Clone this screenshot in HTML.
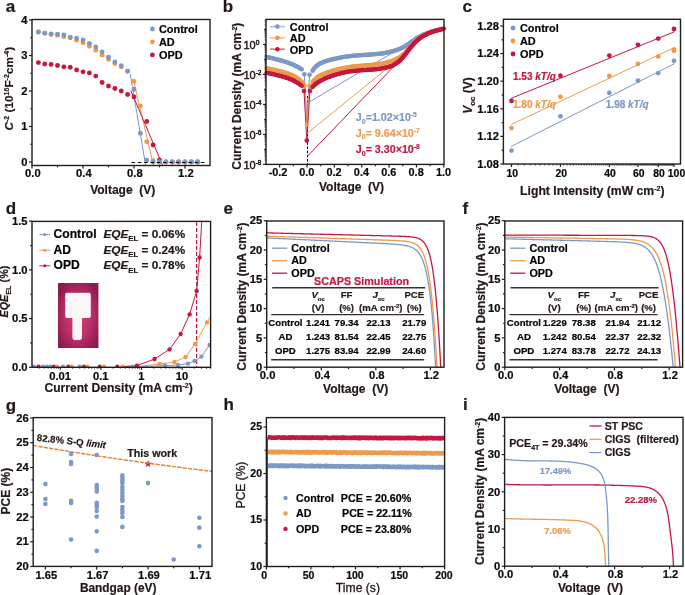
<!DOCTYPE html>
<html><head><meta charset="utf-8"><title>Figure</title>
<style>
html,body{margin:0;padding:0;background:#fff;width:685px;height:595px;overflow:hidden;}
svg{display:block;font-family:"Liberation Sans", sans-serif;will-change:transform;}
</style></head><body>
<svg width="685" height="595" viewBox="0 0 685 595" font-family='&quot;Liberation Sans&quot;, sans-serif'>
<text x="5.8" y="12.4" font-size="17" text-anchor="start" fill="#231815" font-weight="bold" stroke="#231815" stroke-width="0.2">a</text>
<path d="M130.3 74.4 L145.6 165" fill="none" stroke="#7c98c7" stroke-width="1" stroke-linejoin="round" stroke-linecap="round"/>
<path d="M133.2 79 L153.4 165" fill="none" stroke="#ee9a4d" stroke-width="1" stroke-linejoin="round" stroke-linecap="round"/>
<path d="M131 91 L162.5 165" fill="none" stroke="#c5173f" stroke-width="1" stroke-linejoin="round" stroke-linecap="round"/>
<circle cx="38.38" cy="62.6" r="2.45" fill="#c5173f"/>
<circle cx="44.75" cy="64.02" r="2.45" fill="#c5173f"/>
<circle cx="51.12" cy="64.38" r="2.45" fill="#c5173f"/>
<circle cx="57.5" cy="65.44" r="2.45" fill="#c5173f"/>
<circle cx="63.88" cy="66.86" r="2.45" fill="#c5173f"/>
<circle cx="70.25" cy="67.22" r="2.45" fill="#c5173f"/>
<circle cx="76.62" cy="70.06" r="2.45" fill="#c5173f"/>
<circle cx="83" cy="71.83" r="2.45" fill="#c5173f"/>
<circle cx="89.38" cy="72.9" r="2.45" fill="#c5173f"/>
<circle cx="95.75" cy="76.09" r="2.45" fill="#c5173f"/>
<circle cx="102.12" cy="82.48" r="2.45" fill="#c5173f"/>
<circle cx="108.5" cy="86.03" r="2.45" fill="#c5173f"/>
<circle cx="114.88" cy="88.52" r="2.45" fill="#c5173f"/>
<circle cx="121.25" cy="91" r="2.45" fill="#c5173f"/>
<circle cx="127.62" cy="94.55" r="2.45" fill="#c5173f"/>
<circle cx="134" cy="97.03" r="2.45" fill="#c5173f"/>
<circle cx="146.75" cy="121.53" r="2.45" fill="#c5173f"/>
<circle cx="153.12" cy="144.96" r="2.45" fill="#c5173f"/>
<circle cx="159.5" cy="159.87" r="2.45" fill="#c5173f"/>
<circle cx="165.88" cy="162" r="2.45" fill="#c5173f"/>
<circle cx="172.25" cy="162" r="2.45" fill="#c5173f"/>
<circle cx="178.63" cy="162" r="2.45" fill="#c5173f"/>
<circle cx="185" cy="162" r="2.45" fill="#c5173f"/>
<circle cx="191.38" cy="162" r="2.45" fill="#c5173f"/>
<circle cx="197.75" cy="162" r="2.45" fill="#c5173f"/>
<circle cx="38.38" cy="32.07" r="2.45" fill="#ee9a4d"/>
<circle cx="44.75" cy="33.13" r="2.45" fill="#ee9a4d"/>
<circle cx="51.12" cy="34.56" r="2.45" fill="#ee9a4d"/>
<circle cx="57.5" cy="35.27" r="2.45" fill="#ee9a4d"/>
<circle cx="63.88" cy="36.69" r="2.45" fill="#ee9a4d"/>
<circle cx="70.25" cy="37.75" r="2.45" fill="#ee9a4d"/>
<circle cx="76.62" cy="40.23" r="2.45" fill="#ee9a4d"/>
<circle cx="83" cy="42.72" r="2.45" fill="#ee9a4d"/>
<circle cx="89.38" cy="46.27" r="2.45" fill="#ee9a4d"/>
<circle cx="95.75" cy="50.17" r="2.45" fill="#ee9a4d"/>
<circle cx="102.12" cy="55.15" r="2.45" fill="#ee9a4d"/>
<circle cx="108.5" cy="59.41" r="2.45" fill="#ee9a4d"/>
<circle cx="114.88" cy="63.67" r="2.45" fill="#ee9a4d"/>
<circle cx="121.25" cy="66.86" r="2.45" fill="#ee9a4d"/>
<circle cx="127.62" cy="71.3" r="2.45" fill="#ee9a4d"/>
<circle cx="134" cy="81.42" r="2.45" fill="#ee9a4d"/>
<circle cx="140.38" cy="105.91" r="2.45" fill="#ee9a4d"/>
<circle cx="146.75" cy="141.76" r="2.45" fill="#ee9a4d"/>
<circle cx="153.12" cy="160.58" r="2.45" fill="#ee9a4d"/>
<circle cx="159.5" cy="162" r="2.45" fill="#ee9a4d"/>
<circle cx="165.88" cy="162" r="2.45" fill="#ee9a4d"/>
<circle cx="172.25" cy="162" r="2.45" fill="#ee9a4d"/>
<circle cx="178.63" cy="162" r="2.45" fill="#ee9a4d"/>
<circle cx="185" cy="162" r="2.45" fill="#ee9a4d"/>
<circle cx="191.38" cy="162" r="2.45" fill="#ee9a4d"/>
<circle cx="197.75" cy="162" r="2.45" fill="#ee9a4d"/>
<circle cx="38.38" cy="32.07" r="2.45" fill="#7c98c7"/>
<circle cx="44.75" cy="33.13" r="2.45" fill="#7c98c7"/>
<circle cx="51.12" cy="33.84" r="2.45" fill="#7c98c7"/>
<circle cx="57.5" cy="34.2" r="2.45" fill="#7c98c7"/>
<circle cx="63.88" cy="34.91" r="2.45" fill="#7c98c7"/>
<circle cx="70.25" cy="37.4" r="2.45" fill="#7c98c7"/>
<circle cx="76.62" cy="38.1" r="2.45" fill="#7c98c7"/>
<circle cx="83" cy="39.88" r="2.45" fill="#7c98c7"/>
<circle cx="89.38" cy="43.43" r="2.45" fill="#7c98c7"/>
<circle cx="95.75" cy="46.98" r="2.45" fill="#7c98c7"/>
<circle cx="102.12" cy="51.95" r="2.45" fill="#7c98c7"/>
<circle cx="108.5" cy="57.27" r="2.45" fill="#7c98c7"/>
<circle cx="114.88" cy="61.89" r="2.45" fill="#7c98c7"/>
<circle cx="121.25" cy="65.8" r="2.45" fill="#7c98c7"/>
<circle cx="127.62" cy="71.12" r="2.45" fill="#7c98c7"/>
<circle cx="134" cy="89.23" r="2.45" fill="#7c98c7"/>
<circle cx="140.38" cy="133.25" r="2.45" fill="#7c98c7"/>
<circle cx="146.75" cy="160.22" r="2.45" fill="#7c98c7"/>
<circle cx="153.12" cy="162" r="2.45" fill="#7c98c7"/>
<circle cx="159.5" cy="162" r="2.45" fill="#7c98c7"/>
<circle cx="165.88" cy="162" r="2.45" fill="#7c98c7"/>
<circle cx="172.25" cy="162" r="2.45" fill="#7c98c7"/>
<circle cx="178.63" cy="162" r="2.45" fill="#7c98c7"/>
<circle cx="185" cy="162" r="2.45" fill="#7c98c7"/>
<circle cx="191.38" cy="162" r="2.45" fill="#7c98c7"/>
<circle cx="197.75" cy="162" r="2.45" fill="#7c98c7"/>
<line x1="131.5" y1="162.5" x2="207.2" y2="162.5" stroke="#000" stroke-width="1" stroke-dasharray="3.6 2.7"/>
<rect x="32" y="19.5" width="178" height="146" fill="none" stroke="#1e1e1e" stroke-width="1.4"/>
<line x1="29" y1="162" x2="32" y2="162" stroke="#1e1e1e" stroke-width="1.2"/>
<line x1="29" y1="126.5" x2="32" y2="126.5" stroke="#1e1e1e" stroke-width="1.2"/>
<line x1="29" y1="91" x2="32" y2="91" stroke="#1e1e1e" stroke-width="1.2"/>
<line x1="29" y1="55.5" x2="32" y2="55.5" stroke="#1e1e1e" stroke-width="1.2"/>
<line x1="29" y1="20" x2="32" y2="20" stroke="#1e1e1e" stroke-width="1.2"/>
<line x1="30.2" y1="144.25" x2="32" y2="144.25" stroke="#1e1e1e" stroke-width="1.2"/>
<line x1="30.2" y1="108.75" x2="32" y2="108.75" stroke="#1e1e1e" stroke-width="1.2"/>
<line x1="30.2" y1="73.25" x2="32" y2="73.25" stroke="#1e1e1e" stroke-width="1.2"/>
<line x1="30.2" y1="37.75" x2="32" y2="37.75" stroke="#1e1e1e" stroke-width="1.2"/>
<line x1="32" y1="165.5" x2="32" y2="168.5" stroke="#1e1e1e" stroke-width="1.2"/>
<line x1="83" y1="165.5" x2="83" y2="168.5" stroke="#1e1e1e" stroke-width="1.2"/>
<line x1="134" y1="165.5" x2="134" y2="168.5" stroke="#1e1e1e" stroke-width="1.2"/>
<line x1="185" y1="165.5" x2="185" y2="168.5" stroke="#1e1e1e" stroke-width="1.2"/>
<line x1="57.5" y1="165.5" x2="57.5" y2="167.3" stroke="#1e1e1e" stroke-width="1.2"/>
<line x1="108.5" y1="165.5" x2="108.5" y2="167.3" stroke="#1e1e1e" stroke-width="1.2"/>
<line x1="159.5" y1="165.5" x2="159.5" y2="167.3" stroke="#1e1e1e" stroke-width="1.2"/>
<text x="27.6" y="165.7" font-size="11.2" text-anchor="end" fill="#0a0a0a" font-weight="bold" stroke="#0a0a0a" stroke-width="0.2">0</text>
<text x="27.6" y="130.2" font-size="11.2" text-anchor="end" fill="#0a0a0a" font-weight="bold" stroke="#0a0a0a" stroke-width="0.2">1</text>
<text x="27.6" y="94.7" font-size="11.2" text-anchor="end" fill="#0a0a0a" font-weight="bold" stroke="#0a0a0a" stroke-width="0.2">2</text>
<text x="27.6" y="59.2" font-size="11.2" text-anchor="end" fill="#0a0a0a" font-weight="bold" stroke="#0a0a0a" stroke-width="0.2">3</text>
<text x="27.6" y="23.7" font-size="11.2" text-anchor="end" fill="#0a0a0a" font-weight="bold" stroke="#0a0a0a" stroke-width="0.2">4</text>
<text x="32.9" y="177.1" font-size="11.2" text-anchor="middle" fill="#0a0a0a" font-weight="bold" stroke="#0a0a0a" stroke-width="0.2">0.0</text>
<text x="83.9" y="177.1" font-size="11.2" text-anchor="middle" fill="#0a0a0a" font-weight="bold" stroke="#0a0a0a" stroke-width="0.2">0.4</text>
<text x="134.9" y="177.1" font-size="11.2" text-anchor="middle" fill="#0a0a0a" font-weight="bold" stroke="#0a0a0a" stroke-width="0.2">0.8</text>
<text x="185.9" y="177.1" font-size="11.2" text-anchor="middle" fill="#0a0a0a" font-weight="bold" stroke="#0a0a0a" stroke-width="0.2">1.2</text>
<text x="122.7" y="193.7" font-size="12" text-anchor="middle" fill="#231815" font-weight="bold" stroke="#231815" stroke-width="0.2">Voltage  (V)</text>
<text x="13.1" y="88.7" font-size="11.8" text-anchor="middle" fill="#231815" font-weight="bold" transform="rotate(-90 13.1 88.7)" stroke="#231815" stroke-width="0.2"><tspan font-style="italic">C</tspan><tspan dy="-4" font-size="7">-2</tspan><tspan dy="4"> (10</tspan><tspan dy="-4" font-size="7">16</tspan><tspan dy="4">F</tspan><tspan dy="-4" font-size="7">-2</tspan><tspan dy="4">cm</tspan><tspan dy="-4" font-size="7">-4</tspan><tspan dy="4">)</tspan></text>
<circle cx="152.4" cy="29" r="2.4" fill="#7c98c7"/>
<text x="159" y="32.9" font-size="10.9" text-anchor="start" fill="#000" font-weight="bold" stroke="#000" stroke-width="0.2">Control</text>
<circle cx="152.4" cy="41.95" r="2.4" fill="#ee9a4d"/>
<text x="159" y="45.85" font-size="10.9" text-anchor="start" fill="#000" font-weight="bold" stroke="#000" stroke-width="0.2">AD</text>
<circle cx="152.4" cy="54.9" r="2.4" fill="#c5173f"/>
<text x="159" y="58.8" font-size="10.9" text-anchor="start" fill="#000" font-weight="bold" stroke="#000" stroke-width="0.2">OPD</text>
<text x="222.8" y="12.3" font-size="17" text-anchor="start" fill="#231815" font-weight="bold" stroke="#231815" stroke-width="0.2">b</text>
<line x1="307.5" y1="96" x2="307.5" y2="164" stroke="#000" stroke-width="1" stroke-dasharray="2.6 1.6"/>
<path d="M304.3 74.2 L306.8 118 L309.6 74.8" fill="none" stroke="#7c98c7" stroke-width="1" stroke-linejoin="round" stroke-linecap="round"/>
<path d="M304.5 85.8 L306.8 124.4 L309.6 85.9" fill="none" stroke="#ee9a4d" stroke-width="1" stroke-linejoin="round" stroke-linecap="round"/>
<path d="M304 90.9 L306.8 140.6 L309.9 90.9" fill="none" stroke="#c5173f" stroke-width="1" stroke-linejoin="round" stroke-linecap="round"/>
<circle cx="306.8" cy="124.4" r="2.2" fill="#ee9a4d"/>
<circle cx="306.8" cy="140.6" r="2.4" fill="#c5173f"/>
<path d="M308.8 102.3 L400 48.4" fill="none" stroke="#7c98c7" stroke-width="1" stroke-linejoin="round" stroke-linecap="round"/>
<path d="M307.7 132.9 L403.5 55.2" fill="none" stroke="#ee9a4d" stroke-width="1" stroke-linejoin="round" stroke-linecap="round"/>
<path d="M307.7 155.9 L398.5 61.6" fill="none" stroke="#c5173f" stroke-width="1" stroke-linejoin="round" stroke-linecap="round"/>
<path d="M266.51 56.88 L266.61 56.9 L266.7 56.93 L266.79 56.95 L266.88 56.97 L266.97 56.99 L267.06 57.01 L267.16 57.03 L267.25 57.05 L267.34 57.08 L267.43 57.1 L267.52 57.12 L267.61 57.14 L267.71 57.16 L267.8 57.18 L267.89 57.2 L267.98 57.23 L268.07 57.25 L268.17 57.27 L268.26 57.29 L268.35 57.31 L268.44 57.33 L268.53 57.35 L268.63 57.38 L268.72 57.4 L268.81 57.42 L268.9 57.44 L268.99 57.46 L269.09 57.48 L269.18 57.51 L269.27 57.53 L269.36 57.55 L269.45 57.57 L269.55 57.59 L269.64 57.61 L269.73 57.63 L269.82 57.66 L269.92 57.68 L270.01 57.7 L270.1 57.72 L270.19 57.74 L270.29 57.76 L270.38 57.79 L270.47 57.81 L270.56 57.83 L270.66 57.85 L270.75 57.87 L270.84 57.9 L270.93 57.92 L271.02 57.94 L271.12 57.96 L271.21 57.98 L271.3 58 L271.39 58.03 L271.49 58.05 L271.58 58.07 L271.67 58.09 L271.77 58.11 L271.86 58.14 L271.95 58.16 L272.04 58.18 L272.14 58.2 L272.23 58.22 L272.32 58.25 L272.41 58.27 L272.51 58.29 L272.6 58.31 L272.69 58.33 L272.78 58.36 L272.88 58.38 L272.97 58.4 L273.06 58.42 L273.15 58.45 L273.25 58.47 L273.34 58.49 L273.43 58.51 L273.53 58.54 L273.62 58.56 L273.71 58.58 L273.8 58.6 L273.9 58.63 L273.99 58.65 L274.08 58.67 L274.17 58.69 L274.27 58.72 L274.36 58.74 L274.45 58.76 L274.55 58.78 L274.64 58.81 L274.73 58.83 L274.82 58.85 L274.92 58.88 L275.01 58.9 L275.1 58.92 L275.2 58.95 L275.29 58.97 L275.38 58.99 L275.47 59.01 L275.57 59.04 L275.66 59.06 L275.75 59.08 L275.84 59.11 L275.94 59.13 L276.03 59.15 L276.12 59.18 L276.22 59.2 L276.31 59.22 L276.4 59.25 L276.49 59.27 L276.59 59.29 L276.68 59.32 L276.77 59.34 L276.86 59.37 L276.96 59.39 L277.05 59.41 L277.14 59.44 L277.24 59.46 L277.33 59.49 L277.42 59.51 L277.51 59.53 L277.61 59.56 L277.7 59.58 L277.79 59.61 L277.88 59.63 L277.98 59.65 L278.07 59.68 L278.16 59.7 L278.25 59.73 L278.35 59.75 L278.44 59.78 L278.53 59.8 L278.62 59.83 L278.72 59.85 L278.81 59.88 L278.9 59.9 L278.99 59.93 L279.09 59.95 L279.18 59.97 L279.27 60 L279.36 60.02 L279.46 60.05 L279.55 60.08 L279.64 60.1 L279.73 60.13 L279.83 60.15 L279.92 60.18 L280.01 60.2 L280.1 60.23 L280.2 60.25 L280.29 60.28 L280.38 60.3 L280.47 60.33 L280.57 60.36 L280.66 60.38 L280.75 60.41 L280.84 60.43 L280.93 60.46 L281.03 60.49 L281.12 60.51 L281.21 60.54 L281.3 60.56 L281.4 60.59 L281.49 60.62 L281.58 60.64 L281.67 60.67 L281.76 60.7 L281.86 60.72 L281.95 60.75 L282.04 60.78 L282.13 60.8 L282.22 60.83 L282.31 60.86 L282.41 60.89 L282.5 60.91 L282.59 60.94 L282.68 60.97 L282.77 60.99 L282.87 61.02 L282.96 61.05 L283.05 61.08 L283.14 61.1 L283.23 61.13 L283.32 61.16 L283.42 61.19 L283.51 61.22 L283.6 61.24 L283.69 61.27 L283.78 61.3 L283.87 61.33 L283.96 61.36 L284.06 61.38 L284.15 61.41 L284.24 61.44 L284.33 61.47 L284.42 61.5 L284.51 61.53 L284.6 61.56 L284.69 61.59 L284.79 61.61 L284.88 61.64 L284.97 61.67 L285.06 61.7 L285.15 61.73 L285.24 61.76 L285.33 61.79 L285.42 61.82 L285.51 61.85 L285.61 61.88 L285.7 61.91 L285.79 61.94 L285.88 61.97 L285.97 62 L286.06 62.03 L286.15 62.06 L286.24 62.09 L286.33 62.12 L286.42 62.15 L286.51 62.18 L286.6 62.21 L286.69 62.24 L286.78 62.27 L286.87 62.3 L286.96 62.33 L287.05 62.37 L287.14 62.4 L287.23 62.43 L287.32 62.46 L287.42 62.49 L287.51 62.52 L287.6 62.55 L287.69 62.59 L287.78 62.62 L287.87 62.65 L287.96 62.68 L288.04 62.71 L288.13 62.75 L288.22 62.78 L288.31 62.81 L288.4 62.84 L288.49 62.87 L288.58 62.91 L288.67 62.94 L288.76 62.97 L288.85 63.01 L288.94 63.04 L289.03 63.07 L289.12 63.11 L289.21 63.14 L289.3 63.17 L289.39 63.21 L289.48 63.24 L289.57 63.27 L289.66 63.31 L289.74 63.34 L289.83 63.37 L289.92 63.41 L290.01 63.44 L290.1 63.48 L290.19 63.51 L290.28 63.55 L290.37 63.58 L290.45 63.62 L290.54 63.65 L290.63 63.69 L290.72 63.72 L290.81 63.76 L290.9 63.79 L290.99 63.83 L291.07 63.86 L291.16 63.9 L291.25 63.93 L291.34 63.97 L291.43 64 L291.51 64.04 L291.6 64.08 L291.69 64.11 L291.78 64.15 L291.87 64.19 L291.95 64.22 L292.04 64.26 L292.13 64.3 L292.22 64.33 L292.3 64.37 L292.39 64.41 L292.48 64.44 L292.57 64.48 L292.65 64.52 L292.74 64.56 L292.83 64.59 L292.92 64.63 L293 64.67 L293.09 64.71 L293.18 64.75 L293.26 64.78 L293.35 64.82 L293.44 64.86 L293.52 64.9 L293.61 64.94 L293.7 64.98 L293.78 65.02 L293.87 65.05 L293.96 65.09 L294.04 65.13 L294.13 65.17 L294.22 65.21 L294.3 65.25 L294.39 65.29 L294.47 65.33 L294.56 65.37 L294.65 65.41 L294.73 65.45 L294.82 65.49 L294.9 65.53 L294.99 65.57 L295.07 65.61 L295.16 65.66 L295.24 65.7 L295.33 65.74 L295.42 65.78 L295.5 65.82 L295.59 65.86 L295.67 65.9 L295.76 65.95 L295.84 65.99 L295.93 66.03 L296.01 66.07 L296.1 66.11 L296.18 66.16 L296.27 66.2 L296.35 66.24 L296.43 66.29 L296.52 66.33 L296.6 66.37 L296.69 66.41 L296.77 66.46 L296.86 66.5 L296.94 66.55 L297.02 66.59 L297.11 66.63 L297.19 66.68 L297.28 66.72 L297.36 66.77 L297.44 66.81 L297.53 66.85 L297.61 66.9 L297.69 66.94 L297.78 66.99 L297.86 67.03 L297.94 67.08 L298.03 67.13 L298.11 67.17 L298.19 67.22 L298.28 67.26 L298.36 67.31 L298.44 67.35 L298.52 67.4 L298.61 67.45 L298.69 67.49 L298.77 67.54 L298.85 67.59 L298.94 67.63 L299.02 67.68 L299.1 67.73 L299.18 67.78 L299.27 67.82 L299.35 67.87 L299.43 67.92 L299.51 67.97 L299.59 68.02 L299.67 68.06 L299.76 68.11 L299.84 68.16 L299.92 68.21 L300 68.26 L300.08 68.31 L300.16 68.36 L300.24 68.41 L300.32 68.46 L300.4 68.51 L300.49 68.56 L300.57 68.61 L300.65 68.66 L300.73 68.71 L300.81 68.76 L300.89 68.81 L300.97 68.86 L301.05 68.91 L301.13 68.96 L301.21 69.01 L301.29 69.06 L301.37 69.11 L301.45 69.17 L301.53 69.22 L301.61 69.27 L301.69 69.32 L301.77 69.37 L301.84 69.43 L301.92 69.48 L302 69.53 L302.08 69.58" fill="none" stroke="#7c98c7" stroke-width="3.2" stroke-linejoin="round" stroke-linecap="round"/>
<g fill="#7c98c7"><circle cx="266.51" cy="56.88" r="2.25"/><circle cx="267.73" cy="57.17" r="2.25"/><circle cx="268.95" cy="57.45" r="2.25"/><circle cx="270.17" cy="57.74" r="2.25"/><circle cx="271.38" cy="58.02" r="2.25"/><circle cx="272.6" cy="58.31" r="2.25"/><circle cx="273.81" cy="58.61" r="2.25"/><circle cx="275.03" cy="58.9" r="2.25"/><circle cx="276.24" cy="59.21" r="2.25"/><circle cx="277.45" cy="59.52" r="2.25"/><circle cx="278.66" cy="59.84" r="2.25"/><circle cx="279.87" cy="60.16" r="2.25"/><circle cx="281.07" cy="60.5" r="2.25"/><circle cx="282.27" cy="60.85" r="2.25"/><circle cx="283.47" cy="61.2" r="2.25"/><circle cx="284.66" cy="61.58" r="2.25"/><circle cx="285.85" cy="61.96" r="2.25"/><circle cx="287.04" cy="62.36" r="2.25"/><circle cx="288.22" cy="62.77" r="2.25"/><circle cx="289.39" cy="63.21" r="2.25"/><circle cx="290.56" cy="63.66" r="2.25"/><circle cx="291.71" cy="64.12" r="2.25"/><circle cx="292.87" cy="64.61" r="2.25"/><circle cx="294.01" cy="65.12" r="2.25"/><circle cx="295.14" cy="65.65" r="2.25"/><circle cx="296.26" cy="66.2" r="2.25"/><circle cx="297.37" cy="66.77" r="2.25"/><circle cx="298.47" cy="67.37" r="2.25"/><circle cx="299.55" cy="67.99" r="2.25"/><circle cx="300.62" cy="68.64" r="2.25"/><circle cx="301.68" cy="69.31" r="2.25"/></g>
<path d="M312.55 70.78 L312.74 70.45 L312.93 70.13 L313.13 69.81 L313.33 69.5 L313.54 69.19 L313.75 68.89 L313.97 68.6 L314.19 68.32 L314.42 68.04 L314.65 67.77 L314.88 67.5 L315.12 67.24 L315.37 66.99 L315.62 66.74 L315.87 66.5 L316.13 66.27 L316.39 66.03 L316.65 65.81 L316.92 65.59 L317.19 65.38 L317.47 65.17 L317.75 64.96 L318.03 64.76 L318.31 64.57 L318.6 64.38 L318.89 64.2 L319.19 64.01 L319.49 63.84 L319.79 63.67 L320.09 63.5 L320.4 63.34 L320.71 63.18 L321.02 63.02 L321.33 62.87 L321.65 62.72 L321.97 62.58 L322.29 62.44 L322.61 62.3 L322.94 62.16 L323.26 62.03 L323.59 61.91 L323.92 61.78 L324.25 61.66 L324.59 61.54 L324.92 61.42 L325.26 61.31 L325.6 61.19 L325.93 61.08 L326.27 60.98 L326.61 60.87 L326.96 60.77 L327.3 60.67 L327.64 60.57 L327.99 60.47 L328.33 60.37 L328.67 60.27 L329.02 60.18 L329.37 60.09 L329.71 60 L330.06 59.9 L330.4 59.81 L330.75 59.73 L331.09 59.64 L331.44 59.55 L331.79 59.46 L332.13 59.38 L332.48 59.29 L332.82 59.21 L333.17 59.13 L333.51 59.04 L333.86 58.96 L334.2 58.88 L334.55 58.8 L334.9 58.72 L335.24 58.64 L335.59 58.57 L335.93 58.49 L336.28 58.41 L336.63 58.34 L336.97 58.26 L337.32 58.19 L337.66 58.12 L338.01 58.05 L338.36 57.98 L338.7 57.91 L339.05 57.84 L339.39 57.77 L339.74 57.7 L340.09 57.64 L340.43 57.57 L340.78 57.51 L341.13 57.44 L341.47 57.38 L341.82 57.32 L342.17 57.26 L342.52 57.2 L342.86 57.14 L343.21 57.08 L343.56 57.02 L343.91 56.96 L344.26 56.91 L344.6 56.85 L344.95 56.8 L345.3 56.74 L345.65 56.69 L346 56.64 L346.35 56.59 L346.7 56.54 L347.05 56.49 L347.4 56.44 L347.75 56.39 L348.1 56.35 L348.45 56.3 L348.8 56.26 L349.15 56.21 L349.5 56.17 L349.85 56.13 L350.2 56.09 L350.55 56.05 L350.9 56.01 L351.25 55.97 L351.61 55.93 L351.96 55.9 L352.31 55.86 L352.67 55.82 L353.02 55.79 L353.37 55.76 L353.72 55.72 L354.08 55.69 L354.43 55.66 L354.79 55.63 L355.14 55.6 L355.49 55.57 L355.85 55.54 L356.2 55.51 L356.56 55.48 L356.91 55.45 L357.27 55.42 L357.62 55.4 L357.98 55.37 L358.33 55.34 L358.69 55.32 L359.04 55.29 L359.4 55.27 L359.76 55.24 L360.11 55.22 L360.47 55.19 L360.82 55.17 L361.18 55.15 L361.54 55.12 L361.89 55.1 L362.25 55.08 L362.6 55.05 L362.96 55.03 L363.32 55.01 L363.67 54.99 L364.03 54.96 L364.39 54.94 L364.74 54.92 L365.1 54.9 L365.46 54.87 L365.81 54.85 L366.17 54.83 L366.52 54.8 L366.88 54.78 L367.24 54.76 L367.59 54.74 L367.95 54.71 L368.31 54.69 L368.66 54.66 L369.02 54.64 L369.37 54.62 L369.73 54.59 L370.09 54.57 L370.44 54.54 L370.8 54.52 L371.15 54.49 L371.51 54.46 L371.86 54.44 L372.22 54.41 L372.57 54.38 L372.93 54.35 L373.28 54.32 L373.64 54.3 L373.99 54.27 L374.35 54.24 L374.7 54.2 L375.05 54.17 L375.41 54.14 L375.76 54.11 L376.12 54.07 L376.47 54.04 L376.82 54 L377.18 53.97 L377.53 53.93 L377.88 53.9 L378.23 53.86 L378.59 53.82 L378.94 53.78 L379.29 53.74 L379.64 53.7 L379.99 53.65 L380.34 53.61 L380.69 53.57 L381.04 53.52 L381.39 53.47 L381.74 53.43 L382.09 53.38 L382.44 53.33 L382.79 53.28 L383.14 53.22 L383.49 53.17 L383.84 53.12 L384.19 53.06 L384.53 53.01 L384.88 52.95 L385.23 52.89 L385.57 52.83 L385.92 52.77 L386.27 52.7 L386.61 52.64 L386.96 52.57 L387.3 52.51 L387.65 52.44 L387.99 52.37 L388.33 52.3 L388.68 52.22 L389.02 52.15 L389.36 52.07 L389.71 52 L390.05 51.92 L390.39 51.84 L390.73 51.75 L391.07 51.67 L391.41 51.59 L391.75 51.5 L392.09 51.41 L392.43 51.32 L392.77 51.23 L393.1 51.13 L393.44 51.04 L393.78 50.94 L394.11 50.84 L394.45 50.74 L394.79 50.64 L395.12 50.53 L395.46 50.42 L395.79 50.32 L396.12 50.2 L396.45 50.09 L396.79 49.98 L397.12 49.86 L397.45 49.74 L397.78 49.62 L398.11 49.5 L398.43 49.37 L398.76 49.24 L399.09 49.12 L399.41 48.98 L399.74 48.85 L400.06 48.71 L400.38 48.58 L400.71 48.43 L401.03 48.29 L401.35 48.15 L401.67 48 L401.98 47.85 L402.3 47.7 L402.62 47.54 L402.93 47.38 L403.24 47.23 L403.55 47.06 L403.87 46.9 L404.17 46.73 L404.48 46.56 L404.79 46.39 L405.1 46.21 L405.4 46.04 L405.7 45.86 L406 45.67 L406.3 45.49 L406.6 45.3 L406.9 45.11 L407.2 44.92 L407.49 44.72 L407.79 44.53 L408.08 44.33 L408.37 44.13 L408.66 43.93 L408.95 43.72 L409.25 43.52 L409.53 43.32 L409.82 43.11 L410.11 42.9 L410.4 42.69 L410.69 42.49 L410.98 42.28 L411.27 42.07 L411.55 41.86 L411.84 41.65 L412.13 41.44 L412.42 41.23 L412.7 41.03 L412.99 40.82 L413.28 40.61 L413.57 40.41 L413.86 40.2 L414.15 40 L414.44 39.79 L414.74 39.59 L415.03 39.39 L415.32 39.2 L415.62 39 L415.91 38.81 L416.21 38.61 L416.51 38.42 L416.81 38.24 L417.11 38.05 L417.41 37.87 L417.71 37.69 L418.01 37.51 L418.32 37.33 L418.62 37.15 L418.93 36.98 L419.24 36.81 L419.55 36.64 L419.86 36.48 L420.17 36.31 L420.48 36.15 L420.79 35.99 L421.11 35.83 L421.42 35.67 L421.74 35.52 L422.06 35.36 L422.37 35.21 L422.69 35.06 L423.01 34.92 L423.33 34.77 L423.65 34.63 L423.98 34.48 L424.3 34.34 L424.62 34.21 L424.95 34.07 L425.27 33.93 L425.6 33.8 L425.93 33.67 L426.25 33.54 L426.58 33.41 L426.91 33.28 L427.24 33.16 L427.57 33.04 L427.9 32.91 L428.24 32.79 L428.57 32.68 L428.9 32.56 L429.24 32.44 L429.57 32.33 L429.91 32.22 L430.24 32.1 L430.58 32 L430.92 31.89 L431.26 31.78 L431.59 31.67 L431.93 31.57 L432.27 31.47 L432.61 31.37 L432.95 31.27 L433.29 31.17 L433.63 31.07 L433.98 30.97 L434.32 30.88 L434.66 30.79 L435.01 30.69 L435.35 30.6 L435.69 30.51 L436.04 30.42 L436.38 30.34 L436.73 30.25 L437.07 30.17 L437.42 30.08 L437.77 30 L438.11 29.92 L438.46 29.84 L438.81 29.76 L439.15 29.68 L439.5 29.6 L439.85 29.52 L440.2 29.45 L440.54 29.37 L440.89 29.3 L441.24 29.22 L441.59 29.15 L441.94 29.08 L442.29 29.01 L442.64 28.94 L442.99 28.87 L443.34 28.8 L443.69 28.74 L444.04 28.67" fill="none" stroke="#7c98c7" stroke-width="3.2" stroke-linejoin="round" stroke-linecap="round"/>
<g fill="#7c98c7"><circle cx="312.55" cy="70.78" r="2.25"/><circle cx="313.19" cy="69.71" r="2.25"/><circle cx="313.91" cy="68.69" r="2.25"/><circle cx="314.7" cy="67.72" r="2.25"/><circle cx="315.55" cy="66.81" r="2.25"/><circle cx="316.47" cy="65.96" r="2.25"/><circle cx="317.45" cy="65.18" r="2.25"/><circle cx="318.47" cy="64.46" r="2.25"/><circle cx="319.54" cy="63.81" r="2.25"/><circle cx="320.64" cy="63.21" r="2.25"/><circle cx="321.76" cy="62.67" r="2.25"/><circle cx="322.91" cy="62.18" r="2.25"/><circle cx="324.08" cy="61.72" r="2.25"/><circle cx="325.25" cy="61.31" r="2.25"/><circle cx="326.44" cy="60.92" r="2.25"/><circle cx="327.64" cy="60.57" r="2.25"/><circle cx="328.84" cy="60.23" r="2.25"/><circle cx="330.05" cy="59.91" r="2.25"/><circle cx="331.26" cy="59.59" r="2.25"/><circle cx="332.48" cy="59.29" r="2.25"/><circle cx="333.69" cy="59" r="2.25"/><circle cx="334.91" cy="58.72" r="2.25"/><circle cx="336.13" cy="58.45" r="2.25"/><circle cx="337.35" cy="58.18" r="2.25"/><circle cx="338.58" cy="57.93" r="2.25"/><circle cx="339.8" cy="57.69" r="2.25"/><circle cx="341.03" cy="57.46" r="2.25"/><circle cx="342.26" cy="57.24" r="2.25"/><circle cx="343.49" cy="57.03" r="2.25"/><circle cx="344.73" cy="56.83" r="2.25"/><circle cx="345.96" cy="56.65" r="2.25"/><circle cx="347.2" cy="56.47" r="2.25"/><circle cx="348.44" cy="56.3" r="2.25"/><circle cx="349.68" cy="56.15" r="2.25"/><circle cx="350.92" cy="56.01" r="2.25"/><circle cx="352.17" cy="55.87" r="2.25"/><circle cx="353.41" cy="55.75" r="2.25"/><circle cx="354.65" cy="55.64" r="2.25"/><circle cx="355.9" cy="55.53" r="2.25"/><circle cx="357.15" cy="55.43" r="2.25"/><circle cx="358.39" cy="55.34" r="2.25"/><circle cx="359.64" cy="55.25" r="2.25"/><circle cx="360.89" cy="55.17" r="2.25"/><circle cx="362.13" cy="55.08" r="2.25"/><circle cx="363.38" cy="55" r="2.25"/><circle cx="364.63" cy="54.92" r="2.25"/><circle cx="365.88" cy="54.85" r="2.25"/><circle cx="367.12" cy="54.77" r="2.25"/><circle cx="368.37" cy="54.68" r="2.25"/><circle cx="369.62" cy="54.6" r="2.25"/><circle cx="370.86" cy="54.51" r="2.25"/><circle cx="372.11" cy="54.42" r="2.25"/><circle cx="373.36" cy="54.32" r="2.25"/><circle cx="374.6" cy="54.21" r="2.25"/><circle cx="375.85" cy="54.1" r="2.25"/><circle cx="377.09" cy="53.98" r="2.25"/><circle cx="378.33" cy="53.85" r="2.25"/><circle cx="379.58" cy="53.7" r="2.25"/><circle cx="380.82" cy="53.55" r="2.25"/><circle cx="382.06" cy="53.38" r="2.25"/><circle cx="383.29" cy="53.2" r="2.25"/><circle cx="384.53" cy="53.01" r="2.25"/><circle cx="385.76" cy="52.8" r="2.25"/><circle cx="386.99" cy="52.57" r="2.25"/><circle cx="388.21" cy="52.32" r="2.25"/><circle cx="389.44" cy="52.06" r="2.25"/><circle cx="390.65" cy="51.77" r="2.25"/><circle cx="391.87" cy="51.47" r="2.25"/><circle cx="393.07" cy="51.14" r="2.25"/><circle cx="394.27" cy="50.79" r="2.25"/><circle cx="395.47" cy="50.42" r="2.25"/><circle cx="396.65" cy="50.02" r="2.25"/><circle cx="397.83" cy="49.6" r="2.25"/><circle cx="398.99" cy="49.15" r="2.25"/><circle cx="400.15" cy="48.68" r="2.25"/><circle cx="401.29" cy="48.17" r="2.25"/><circle cx="402.42" cy="47.64" r="2.25"/><circle cx="403.54" cy="47.07" r="2.25"/><circle cx="404.64" cy="46.48" r="2.25"/><circle cx="405.72" cy="45.85" r="2.25"/><circle cx="406.78" cy="45.19" r="2.25"/><circle cx="407.82" cy="44.5" r="2.25"/><circle cx="408.85" cy="43.79" r="2.25"/><circle cx="409.88" cy="43.07" r="2.25"/><circle cx="410.89" cy="42.34" r="2.25"/><circle cx="411.9" cy="41.61" r="2.25"/><circle cx="412.91" cy="40.88" r="2.25"/><circle cx="413.93" cy="40.15" r="2.25"/><circle cx="414.96" cy="39.44" r="2.25"/><circle cx="416" cy="38.75" r="2.25"/><circle cx="417.06" cy="38.08" r="2.25"/><circle cx="418.13" cy="37.44" r="2.25"/><circle cx="419.22" cy="36.82" r="2.25"/><circle cx="420.32" cy="36.23" r="2.25"/><circle cx="421.43" cy="35.67" r="2.25"/><circle cx="422.56" cy="35.12" r="2.25"/><circle cx="423.7" cy="34.61" r="2.25"/><circle cx="424.85" cy="34.11" r="2.25"/><circle cx="426" cy="33.64" r="2.25"/><circle cx="427.17" cy="33.19" r="2.25"/><circle cx="428.34" cy="32.76" r="2.25"/><circle cx="429.52" cy="32.35" r="2.25"/><circle cx="430.71" cy="31.95" r="2.25"/><circle cx="431.9" cy="31.58" r="2.25"/><circle cx="433.1" cy="31.22" r="2.25"/><circle cx="434.3" cy="30.88" r="2.25"/><circle cx="435.51" cy="30.56" r="2.25"/><circle cx="436.72" cy="30.25" r="2.25"/><circle cx="437.94" cy="29.96" r="2.25"/><circle cx="439.16" cy="29.68" r="2.25"/><circle cx="440.38" cy="29.41" r="2.25"/><circle cx="441.6" cy="29.15" r="2.25"/><circle cx="442.82" cy="28.9" r="2.25"/></g>
<circle cx="304.3" cy="74.2" r="2.3" fill="#7c98c7"/>
<circle cx="309.6" cy="74.8" r="2.3" fill="#7c98c7"/>
<path d="M266.54 68.16 L266.64 68.18 L266.73 68.2 L266.83 68.23 L266.92 68.25 L267.02 68.27 L267.11 68.29 L267.2 68.32 L267.3 68.34 L267.39 68.36 L267.49 68.38 L267.58 68.41 L267.68 68.43 L267.78 68.45 L267.87 68.47 L267.97 68.49 L268.06 68.52 L268.16 68.54 L268.25 68.56 L268.35 68.58 L268.44 68.6 L268.54 68.63 L268.64 68.65 L268.73 68.67 L268.83 68.69 L268.92 68.71 L269.02 68.74 L269.12 68.76 L269.21 68.78 L269.31 68.8 L269.41 68.82 L269.5 68.85 L269.6 68.87 L269.7 68.89 L269.79 68.91 L269.89 68.93 L269.99 68.95 L270.09 68.98 L270.18 69 L270.28 69.02 L270.38 69.04 L270.47 69.06 L270.57 69.08 L270.67 69.1 L270.77 69.13 L270.86 69.15 L270.96 69.17 L271.06 69.19 L271.16 69.21 L271.26 69.23 L271.35 69.26 L271.45 69.28 L271.55 69.3 L271.65 69.32 L271.75 69.34 L271.84 69.36 L271.94 69.38 L272.04 69.41 L272.14 69.43 L272.24 69.45 L272.33 69.47 L272.43 69.49 L272.53 69.51 L272.63 69.53 L272.73 69.56 L272.83 69.58 L272.93 69.6 L273.03 69.62 L273.12 69.64 L273.22 69.66 L273.32 69.69 L273.42 69.71 L273.52 69.73 L273.62 69.75 L273.72 69.77 L273.82 69.79 L273.92 69.82 L274.01 69.84 L274.11 69.86 L274.21 69.88 L274.31 69.9 L274.41 69.92 L274.51 69.95 L274.61 69.97 L274.71 69.99 L274.81 70.01 L274.91 70.03 L275.01 70.06 L275.11 70.08 L275.21 70.1 L275.31 70.12 L275.4 70.14 L275.5 70.17 L275.6 70.19 L275.7 70.21 L275.8 70.23 L275.9 70.26 L276 70.28 L276.1 70.3 L276.2 70.32 L276.3 70.35 L276.4 70.37 L276.5 70.39 L276.6 70.41 L276.7 70.44 L276.8 70.46 L276.9 70.48 L277 70.5 L277.1 70.53 L277.2 70.55 L277.3 70.57 L277.4 70.6 L277.5 70.62 L277.6 70.64 L277.7 70.66 L277.8 70.69 L277.9 70.71 L278 70.73 L278.1 70.76 L278.2 70.78 L278.3 70.81 L278.4 70.83 L278.5 70.85 L278.6 70.88 L278.69 70.9 L278.79 70.92 L278.89 70.95 L278.99 70.97 L279.09 71 L279.19 71.02 L279.29 71.04 L279.39 71.07 L279.49 71.09 L279.59 71.12 L279.69 71.14 L279.79 71.17 L279.89 71.19 L279.99 71.22 L280.09 71.24 L280.19 71.27 L280.29 71.29 L280.39 71.32 L280.49 71.34 L280.59 71.37 L280.69 71.39 L280.79 71.42 L280.89 71.44 L280.99 71.47 L281.09 71.49 L281.19 71.52 L281.28 71.54 L281.38 71.57 L281.48 71.6 L281.58 71.62 L281.68 71.65 L281.78 71.67 L281.88 71.7 L281.98 71.73 L282.08 71.75 L282.18 71.78 L282.28 71.81 L282.38 71.83 L282.47 71.86 L282.57 71.89 L282.67 71.92 L282.77 71.94 L282.87 71.97 L282.97 72 L283.07 72.03 L283.17 72.05 L283.27 72.08 L283.36 72.11 L283.46 72.14 L283.56 72.17 L283.66 72.19 L283.76 72.22 L283.86 72.25 L283.95 72.28 L284.05 72.31 L284.15 72.34 L284.25 72.37 L284.35 72.39 L284.45 72.42 L284.54 72.45 L284.64 72.48 L284.74 72.51 L284.84 72.54 L284.94 72.57 L285.03 72.6 L285.13 72.63 L285.23 72.66 L285.33 72.69 L285.42 72.72 L285.52 72.75 L285.62 72.78 L285.72 72.81 L285.81 72.85 L285.91 72.88 L286.01 72.91 L286.11 72.94 L286.2 72.97 L286.3 73 L286.4 73.03 L286.49 73.07 L286.59 73.1 L286.69 73.13 L286.78 73.16 L286.88 73.19 L286.98 73.23 L287.07 73.26 L287.17 73.29 L287.27 73.33 L287.36 73.36 L287.46 73.39 L287.55 73.43 L287.65 73.46 L287.75 73.49 L287.84 73.53 L287.94 73.56 L288.03 73.6 L288.13 73.63 L288.22 73.66 L288.32 73.7 L288.41 73.73 L288.51 73.77 L288.6 73.8 L288.7 73.84 L288.79 73.88 L288.89 73.91 L288.98 73.95 L289.08 73.98 L289.17 74.02 L289.27 74.06 L289.36 74.09 L289.46 74.13 L289.55 74.17 L289.64 74.2 L289.74 74.24 L289.83 74.28 L289.93 74.31 L290.02 74.35 L290.11 74.39 L290.21 74.43 L290.3 74.47 L290.39 74.51 L290.49 74.54 L290.58 74.58 L290.67 74.62 L290.77 74.66 L290.86 74.7 L290.95 74.74 L291.04 74.78 L291.14 74.82 L291.23 74.86 L291.32 74.9 L291.41 74.94 L291.51 74.98 L291.6 75.02 L291.69 75.06 L291.78 75.1 L291.87 75.14 L291.96 75.19 L292.06 75.23 L292.15 75.27 L292.24 75.31 L292.33 75.35 L292.42 75.4 L292.51 75.44 L292.6 75.48 L292.69 75.53 L292.78 75.57 L292.87 75.61 L292.96 75.66 L293.05 75.7 L293.14 75.75 L293.23 75.79 L293.32 75.83 L293.41 75.88 L293.5 75.92 L293.59 75.97 L293.68 76.01 L293.77 76.06 L293.86 76.11 L293.94 76.15 L294.03 76.2 L294.12 76.25 L294.21 76.29 L294.3 76.34 L294.39 76.39 L294.47 76.43 L294.56 76.48 L294.65 76.53 L294.74 76.58 L294.82 76.63 L294.91 76.67 L295 76.72 L295.09 76.77 L295.17 76.82 L295.26 76.87 L295.34 76.92 L295.43 76.97 L295.52 77.02 L295.6 77.07 L295.69 77.12 L295.77 77.17 L295.86 77.22 L295.95 77.27 L296.03 77.32 L296.12 77.38 L296.2 77.43 L296.29 77.48 L296.37 77.53 L296.45 77.59 L296.54 77.64 L296.62 77.69 L296.71 77.75 L296.79 77.8 L296.87 77.85 L296.96 77.91 L297.04 77.96 L297.12 78.02 L297.21 78.07 L297.29 78.13 L297.37 78.18 L297.46 78.24 L297.54 78.29 L297.62 78.35 L297.7 78.41 L297.78 78.46 L297.87 78.52 L297.95 78.58 L298.03 78.63 L298.11 78.69 L298.19 78.75 L298.27 78.81 L298.35 78.87 L298.43 78.93 L298.51 78.99 L298.59 79.04 L298.67 79.1 L298.75 79.16 L298.83 79.22 L298.91 79.28 L298.99 79.34 L299.07 79.41 L299.15 79.47 L299.23 79.53 L299.3 79.59 L299.38 79.65 L299.46 79.71 L299.54 79.78 L299.62 79.84 L299.69 79.9 L299.77 79.97 L299.85 80.03 L299.92 80.09 L300 80.16 L300.08 80.22 L300.15 80.29 L300.23 80.35 L300.31 80.42 L300.38 80.48 L300.46 80.55 L300.53 80.62 L300.61 80.68 L300.68 80.75 L300.76 80.82 L300.83 80.88 L300.91 80.95 L300.98 81.02 L301.05 81.09 L301.13 81.16 L301.2 81.23 L301.27 81.3 L301.35 81.36 L301.42 81.43 L301.49 81.5 L301.57 81.57 L301.64 81.65 L301.71 81.72 L301.78 81.79 L301.85 81.86 L301.92 81.93 L302 82 L302.07 82.08 L302.14 82.15 L302.21 82.22 L302.28 82.3 L302.35 82.37 L302.42 82.44 L302.49 82.52 L302.56 82.59 L302.63 82.67 L302.69 82.74 L302.76 82.82 L302.83 82.9 L302.9 82.97 L302.97 83.05 L303.04 83.13 L303.1 83.2" fill="none" stroke="#ee9a4d" stroke-width="3.2" stroke-linejoin="round" stroke-linecap="round"/>
<g fill="#ee9a4d"><circle cx="266.54" cy="68.16" r="2.25"/><circle cx="267.76" cy="68.45" r="2.25"/><circle cx="268.98" cy="68.73" r="2.25"/><circle cx="270.2" cy="69" r="2.25"/><circle cx="271.42" cy="69.27" r="2.25"/><circle cx="272.64" cy="69.54" r="2.25"/><circle cx="273.86" cy="69.8" r="2.25"/><circle cx="275.08" cy="70.07" r="2.25"/><circle cx="276.3" cy="70.35" r="2.25"/><circle cx="277.52" cy="70.62" r="2.25"/><circle cx="278.74" cy="70.91" r="2.25"/><circle cx="279.95" cy="71.21" r="2.25"/><circle cx="281.16" cy="71.51" r="2.25"/><circle cx="282.37" cy="71.83" r="2.25"/><circle cx="283.57" cy="72.17" r="2.25"/><circle cx="284.77" cy="72.52" r="2.25"/><circle cx="285.97" cy="72.89" r="2.25"/><circle cx="287.15" cy="73.29" r="2.25"/><circle cx="288.33" cy="73.7" r="2.25"/><circle cx="289.5" cy="74.15" r="2.25"/><circle cx="290.66" cy="74.62" r="2.25"/><circle cx="291.81" cy="75.11" r="2.25"/><circle cx="292.94" cy="75.65" r="2.25"/><circle cx="294.05" cy="76.21" r="2.25"/><circle cx="295.15" cy="76.81" r="2.25"/><circle cx="296.23" cy="77.44" r="2.25"/><circle cx="297.28" cy="78.12" r="2.25"/><circle cx="298.3" cy="78.83" r="2.25"/><circle cx="299.3" cy="79.59" r="2.25"/><circle cx="300.26" cy="80.38" r="2.25"/><circle cx="301.19" cy="81.22" r="2.25"/><circle cx="302.08" cy="82.1" r="2.25"/><circle cx="302.94" cy="83.01" r="2.25"/></g>
<path d="M312.61 81.93 L312.84 81.62 L313.07 81.32 L313.31 81.03 L313.56 80.75 L313.8 80.46 L314.06 80.19 L314.31 79.92 L314.57 79.65 L314.84 79.39 L315.1 79.14 L315.37 78.89 L315.65 78.65 L315.92 78.41 L316.21 78.18 L316.49 77.95 L316.78 77.72 L317.07 77.5 L317.36 77.29 L317.66 77.08 L317.96 76.87 L318.26 76.67 L318.56 76.47 L318.87 76.28 L319.18 76.09 L319.49 75.9 L319.81 75.72 L320.12 75.54 L320.44 75.37 L320.76 75.2 L321.09 75.03 L321.41 74.87 L321.74 74.71 L322.07 74.55 L322.4 74.39 L322.74 74.24 L323.07 74.09 L323.41 73.95 L323.75 73.8 L324.08 73.66 L324.43 73.53 L324.77 73.39 L325.11 73.26 L325.45 73.13 L325.8 73 L326.15 72.87 L326.49 72.74 L326.84 72.62 L327.19 72.5 L327.54 72.38 L327.89 72.26 L328.24 72.15 L328.59 72.03 L328.94 71.92 L329.3 71.8 L329.65 71.69 L330 71.58 L330.35 71.47 L330.7 71.36 L331.06 71.26 L331.41 71.15 L331.76 71.04 L332.11 70.94 L332.46 70.84 L332.82 70.73 L333.17 70.63 L333.52 70.53 L333.87 70.43 L334.23 70.33 L334.58 70.23 L334.93 70.13 L335.29 70.04 L335.64 69.94 L335.99 69.84 L336.34 69.75 L336.7 69.66 L337.05 69.57 L337.4 69.47 L337.76 69.38 L338.11 69.3 L338.47 69.21 L338.82 69.12 L339.17 69.03 L339.53 68.95 L339.88 68.87 L340.24 68.78 L340.59 68.7 L340.95 68.62 L341.3 68.54 L341.66 68.46 L342.01 68.38 L342.37 68.31 L342.73 68.23 L343.08 68.16 L343.44 68.08 L343.8 68.01 L344.15 67.94 L344.51 67.87 L344.87 67.8 L345.23 67.73 L345.58 67.66 L345.94 67.6 L346.3 67.53 L346.66 67.47 L347.02 67.41 L347.38 67.35 L347.74 67.29 L348.1 67.23 L348.46 67.17 L348.82 67.11 L349.18 67.06 L349.54 67 L349.91 66.95 L350.27 66.9 L350.63 66.85 L351 66.8 L351.36 66.75 L351.72 66.7 L352.09 66.65 L352.45 66.61 L352.82 66.57 L353.18 66.52 L353.55 66.48 L353.91 66.44 L354.28 66.4 L354.65 66.36 L355.01 66.32 L355.38 66.28 L355.75 66.24 L356.11 66.21 L356.48 66.17 L356.85 66.14 L357.22 66.1 L357.59 66.07 L357.96 66.03 L358.32 66 L358.69 65.97 L359.06 65.94 L359.43 65.9 L359.8 65.87 L360.17 65.84 L360.54 65.81 L360.91 65.78 L361.28 65.75 L361.65 65.72 L362.02 65.69 L362.39 65.66 L362.76 65.63 L363.13 65.6 L363.5 65.58 L363.87 65.55 L364.24 65.52 L364.61 65.49 L364.98 65.46 L365.35 65.43 L365.72 65.4 L366.09 65.37 L366.46 65.34 L366.83 65.31 L367.2 65.28 L367.57 65.25 L367.94 65.22 L368.31 65.19 L368.67 65.16 L369.04 65.13 L369.41 65.1 L369.78 65.06 L370.15 65.03 L370.52 65 L370.89 64.96 L371.26 64.93 L371.63 64.89 L371.99 64.86 L372.36 64.82 L372.73 64.79 L373.1 64.75 L373.46 64.71 L373.83 64.67 L374.2 64.63 L374.56 64.59 L374.93 64.55 L375.3 64.5 L375.66 64.46 L376.03 64.41 L376.39 64.37 L376.76 64.32 L377.12 64.27 L377.48 64.22 L377.85 64.17 L378.21 64.12 L378.57 64.07 L378.94 64.01 L379.3 63.96 L379.66 63.9 L380.02 63.84 L380.38 63.78 L380.74 63.72 L381.1 63.66 L381.46 63.6 L381.82 63.53 L382.18 63.46 L382.54 63.4 L382.9 63.33 L383.25 63.25 L383.61 63.18 L383.97 63.11 L384.32 63.03 L384.68 62.95 L385.03 62.87 L385.38 62.79 L385.74 62.71 L386.09 62.62 L386.44 62.53 L386.79 62.44 L387.15 62.35 L387.5 62.26 L387.85 62.16 L388.19 62.06 L388.54 61.96 L388.89 61.86 L389.24 61.76 L389.58 61.65 L389.93 61.54 L390.28 61.43 L390.62 61.32 L390.96 61.2 L391.31 61.09 L391.65 60.97 L391.99 60.84 L392.33 60.72 L392.67 60.59 L393.01 60.46 L393.35 60.33 L393.69 60.19 L394.02 60.05 L394.36 59.91 L394.69 59.77 L395.03 59.62 L395.36 59.47 L395.69 59.32 L396.02 59.17 L396.35 59.01 L396.67 58.85 L397 58.69 L397.32 58.52 L397.64 58.35 L397.96 58.18 L398.28 58 L398.6 57.83 L398.91 57.64 L399.23 57.46 L399.54 57.27 L399.85 57.08 L400.15 56.88 L400.46 56.68 L400.76 56.48 L401.06 56.28 L401.36 56.07 L401.65 55.86 L401.94 55.64 L402.23 55.42 L402.52 55.2 L402.81 54.97 L403.09 54.74 L403.37 54.5 L403.64 54.27 L403.92 54.02 L404.19 53.78 L404.45 53.53 L404.72 53.27 L404.98 53.02 L405.24 52.76 L405.49 52.5 L405.75 52.23 L406 51.96 L406.25 51.69 L406.5 51.42 L406.75 51.14 L406.99 50.87 L407.24 50.59 L407.48 50.31 L407.72 50.03 L407.96 49.74 L408.2 49.46 L408.44 49.18 L408.68 48.89 L408.92 48.61 L409.16 48.32 L409.4 48.04 L409.64 47.75 L409.88 47.47 L410.12 47.18 L410.36 46.9 L410.6 46.62 L410.84 46.33 L411.08 46.05 L411.32 45.77 L411.57 45.49 L411.81 45.21 L412.05 44.93 L412.3 44.65 L412.54 44.38 L412.79 44.1 L413.04 43.83 L413.29 43.56 L413.54 43.28 L413.79 43.02 L414.04 42.75 L414.29 42.48 L414.55 42.22 L414.8 41.96 L415.06 41.7 L415.32 41.44 L415.58 41.18 L415.84 40.93 L416.1 40.68 L416.37 40.43 L416.64 40.19 L416.91 39.94 L417.18 39.7 L417.45 39.47 L417.73 39.23 L418.01 39 L418.29 38.77 L418.57 38.55 L418.85 38.33 L419.14 38.11 L419.43 37.89 L419.72 37.68 L420.02 37.48 L420.32 37.27 L420.62 37.07 L420.92 36.88 L421.23 36.68 L421.54 36.5 L421.85 36.31 L422.16 36.13 L422.47 35.95 L422.79 35.77 L423.11 35.6 L423.43 35.43 L423.76 35.27 L424.08 35.1 L424.41 34.94 L424.74 34.78 L425.07 34.63 L425.41 34.48 L425.74 34.33 L426.08 34.18 L426.42 34.04 L426.76 33.9 L427.1 33.76 L427.44 33.62 L427.78 33.49 L428.13 33.35 L428.48 33.22 L428.82 33.09 L429.17 32.97 L429.52 32.84 L429.87 32.72 L430.22 32.6 L430.58 32.48 L430.93 32.36 L431.28 32.25 L431.64 32.14 L431.99 32.02 L432.35 31.91 L432.7 31.8 L433.06 31.69 L433.42 31.58 L433.77 31.48 L434.13 31.37 L434.49 31.27 L434.85 31.17 L435.2 31.06 L435.56 30.96 L435.92 30.86 L436.28 30.76 L436.63 30.66 L436.99 30.56 L437.35 30.46 L437.7 30.36 L438.06 30.26 L438.41 30.17 L438.77 30.07 L439.12 29.97 L439.48 29.87 L439.83 29.78 L440.18 29.68 L440.53 29.58 L440.88 29.48 L441.23 29.38 L441.58 29.29 L441.92 29.19 L442.27 29.09 L442.61 28.99 L442.95 28.89 L443.29 28.79 L443.63 28.68 L443.97 28.58" fill="none" stroke="#ee9a4d" stroke-width="3.2" stroke-linejoin="round" stroke-linecap="round"/>
<g fill="#ee9a4d"><circle cx="312.61" cy="81.93" r="2.25"/><circle cx="313.38" cy="80.95" r="2.25"/><circle cx="314.22" cy="80.02" r="2.25"/><circle cx="315.1" cy="79.14" r="2.25"/><circle cx="316.04" cy="78.31" r="2.25"/><circle cx="317.02" cy="77.54" r="2.25"/><circle cx="318.04" cy="76.81" r="2.25"/><circle cx="319.09" cy="76.14" r="2.25"/><circle cx="320.18" cy="75.52" r="2.25"/><circle cx="321.28" cy="74.93" r="2.25"/><circle cx="322.41" cy="74.39" r="2.25"/><circle cx="323.55" cy="73.89" r="2.25"/><circle cx="324.71" cy="73.41" r="2.25"/><circle cx="325.88" cy="72.97" r="2.25"/><circle cx="327.05" cy="72.55" r="2.25"/><circle cx="328.24" cy="72.15" r="2.25"/><circle cx="329.43" cy="71.76" r="2.25"/><circle cx="330.62" cy="71.39" r="2.25"/><circle cx="331.82" cy="71.03" r="2.25"/><circle cx="333.02" cy="70.67" r="2.25"/><circle cx="334.22" cy="70.33" r="2.25"/><circle cx="335.42" cy="70" r="2.25"/><circle cx="336.63" cy="69.68" r="2.25"/><circle cx="337.84" cy="69.36" r="2.25"/><circle cx="339.05" cy="69.06" r="2.25"/><circle cx="340.27" cy="68.77" r="2.25"/><circle cx="341.49" cy="68.5" r="2.25"/><circle cx="342.71" cy="68.23" r="2.25"/><circle cx="343.94" cy="67.98" r="2.25"/><circle cx="345.16" cy="67.74" r="2.25"/><circle cx="346.39" cy="67.52" r="2.25"/><circle cx="347.62" cy="67.31" r="2.25"/><circle cx="348.86" cy="67.11" r="2.25"/><circle cx="350.09" cy="66.92" r="2.25"/><circle cx="351.33" cy="66.75" r="2.25"/><circle cx="352.57" cy="66.59" r="2.25"/><circle cx="353.81" cy="66.45" r="2.25"/><circle cx="355.06" cy="66.31" r="2.25"/><circle cx="356.3" cy="66.19" r="2.25"/><circle cx="357.55" cy="66.07" r="2.25"/><circle cx="358.79" cy="65.96" r="2.25"/><circle cx="360.04" cy="65.85" r="2.25"/><circle cx="361.28" cy="65.75" r="2.25"/><circle cx="362.53" cy="65.65" r="2.25"/><circle cx="363.77" cy="65.55" r="2.25"/><circle cx="365.02" cy="65.46" r="2.25"/><circle cx="366.27" cy="65.36" r="2.25"/><circle cx="367.51" cy="65.26" r="2.25"/><circle cx="368.76" cy="65.15" r="2.25"/><circle cx="370" cy="65.04" r="2.25"/><circle cx="371.25" cy="64.93" r="2.25"/><circle cx="372.49" cy="64.81" r="2.25"/><circle cx="373.74" cy="64.68" r="2.25"/><circle cx="374.98" cy="64.54" r="2.25"/><circle cx="376.22" cy="64.39" r="2.25"/><circle cx="377.46" cy="64.23" r="2.25"/><circle cx="378.7" cy="64.05" r="2.25"/><circle cx="379.93" cy="63.86" r="2.25"/><circle cx="381.16" cy="63.65" r="2.25"/><circle cx="382.39" cy="63.42" r="2.25"/><circle cx="383.62" cy="63.18" r="2.25"/><circle cx="384.84" cy="62.91" r="2.25"/><circle cx="386.06" cy="62.63" r="2.25"/><circle cx="387.27" cy="62.32" r="2.25"/><circle cx="388.47" cy="61.98" r="2.25"/><circle cx="389.67" cy="61.62" r="2.25"/><circle cx="390.86" cy="61.24" r="2.25"/><circle cx="392.04" cy="60.82" r="2.25"/><circle cx="393.21" cy="60.38" r="2.25"/><circle cx="394.36" cy="59.91" r="2.25"/><circle cx="395.51" cy="59.41" r="2.25"/><circle cx="396.64" cy="58.87" r="2.25"/><circle cx="397.75" cy="58.3" r="2.25"/><circle cx="398.84" cy="57.69" r="2.25"/><circle cx="399.91" cy="57.04" r="2.25"/><circle cx="400.95" cy="56.35" r="2.25"/><circle cx="401.97" cy="55.62" r="2.25"/><circle cx="402.95" cy="54.85" r="2.25"/><circle cx="403.9" cy="54.04" r="2.25"/><circle cx="404.81" cy="53.18" r="2.25"/><circle cx="405.69" cy="52.29" r="2.25"/><circle cx="406.54" cy="51.38" r="2.25"/><circle cx="407.37" cy="50.44" r="2.25"/><circle cx="408.18" cy="49.49" r="2.25"/><circle cx="408.98" cy="48.53" r="2.25"/><circle cx="409.79" cy="47.58" r="2.25"/><circle cx="410.6" cy="46.62" r="2.25"/><circle cx="411.41" cy="45.67" r="2.25"/><circle cx="412.23" cy="44.73" r="2.25"/><circle cx="413.06" cy="43.8" r="2.25"/><circle cx="413.91" cy="42.88" r="2.25"/><circle cx="414.78" cy="41.98" r="2.25"/><circle cx="415.67" cy="41.1" r="2.25"/><circle cx="416.58" cy="40.24" r="2.25"/><circle cx="417.51" cy="39.42" r="2.25"/><circle cx="418.48" cy="38.62" r="2.25"/><circle cx="419.47" cy="37.87" r="2.25"/><circle cx="420.5" cy="37.15" r="2.25"/><circle cx="421.56" cy="36.48" r="2.25"/><circle cx="422.64" cy="35.86" r="2.25"/><circle cx="423.74" cy="35.27" r="2.25"/><circle cx="424.87" cy="34.73" r="2.25"/><circle cx="426.01" cy="34.21" r="2.25"/><circle cx="427.16" cy="33.73" r="2.25"/><circle cx="428.33" cy="33.28" r="2.25"/><circle cx="429.5" cy="32.85" r="2.25"/><circle cx="430.68" cy="32.45" r="2.25"/><circle cx="431.87" cy="32.06" r="2.25"/><circle cx="433.07" cy="31.69" r="2.25"/><circle cx="434.26" cy="31.33" r="2.25"/><circle cx="435.46" cy="30.99" r="2.25"/><circle cx="436.67" cy="30.65" r="2.25"/><circle cx="437.87" cy="30.32" r="2.25"/><circle cx="439.08" cy="29.98" r="2.25"/><circle cx="440.28" cy="29.65" r="2.25"/><circle cx="441.49" cy="29.31" r="2.25"/><circle cx="442.69" cy="28.97" r="2.25"/><circle cx="443.88" cy="28.61" r="2.25"/></g>
<circle cx="304.5" cy="85.8" r="2.3" fill="#ee9a4d"/>
<circle cx="309.6" cy="85.9" r="2.3" fill="#ee9a4d"/>
<path d="M266.53 72.65 L266.62 72.67 L266.71 72.7 L266.8 72.72 L266.9 72.74 L266.99 72.76 L267.08 72.78 L267.17 72.8 L267.26 72.82 L267.36 72.85 L267.45 72.87 L267.54 72.89 L267.63 72.91 L267.72 72.93 L267.82 72.95 L267.91 72.97 L268 72.99 L268.09 73.02 L268.19 73.04 L268.28 73.06 L268.37 73.08 L268.46 73.1 L268.56 73.12 L268.65 73.14 L268.74 73.16 L268.83 73.18 L268.93 73.21 L269.02 73.23 L269.11 73.25 L269.21 73.27 L269.3 73.29 L269.39 73.31 L269.48 73.33 L269.58 73.35 L269.67 73.37 L269.76 73.39 L269.86 73.42 L269.95 73.44 L270.04 73.46 L270.14 73.48 L270.23 73.5 L270.32 73.52 L270.42 73.54 L270.51 73.56 L270.6 73.58 L270.7 73.6 L270.79 73.63 L270.88 73.65 L270.98 73.67 L271.07 73.69 L271.17 73.71 L271.26 73.73 L271.35 73.75 L271.45 73.77 L271.54 73.79 L271.63 73.82 L271.73 73.84 L271.82 73.86 L271.92 73.88 L272.01 73.9 L272.1 73.92 L272.2 73.94 L272.29 73.96 L272.39 73.98 L272.48 74.01 L272.57 74.03 L272.67 74.05 L272.76 74.07 L272.86 74.09 L272.95 74.11 L273.04 74.13 L273.14 74.15 L273.23 74.18 L273.33 74.2 L273.42 74.22 L273.52 74.24 L273.61 74.26 L273.7 74.28 L273.8 74.3 L273.89 74.33 L273.99 74.35 L274.08 74.37 L274.18 74.39 L274.27 74.41 L274.36 74.43 L274.46 74.46 L274.55 74.48 L274.65 74.5 L274.74 74.52 L274.84 74.54 L274.93 74.57 L275.03 74.59 L275.12 74.61 L275.21 74.63 L275.31 74.65 L275.4 74.68 L275.5 74.7 L275.59 74.72 L275.69 74.74 L275.78 74.76 L275.88 74.79 L275.97 74.81 L276.07 74.83 L276.16 74.85 L276.25 74.88 L276.35 74.9 L276.44 74.92 L276.54 74.94 L276.63 74.97 L276.73 74.99 L276.82 75.01 L276.92 75.03 L277.01 75.06 L277.11 75.08 L277.2 75.1 L277.3 75.13 L277.39 75.15 L277.48 75.17 L277.58 75.19 L277.67 75.22 L277.77 75.24 L277.86 75.26 L277.96 75.29 L278.05 75.31 L278.15 75.33 L278.24 75.36 L278.34 75.38 L278.43 75.4 L278.52 75.43 L278.62 75.45 L278.71 75.48 L278.81 75.5 L278.9 75.52 L279 75.55 L279.09 75.57 L279.19 75.6 L279.28 75.62 L279.37 75.64 L279.47 75.67 L279.56 75.69 L279.66 75.72 L279.75 75.74 L279.85 75.77 L279.94 75.79 L280.03 75.81 L280.13 75.84 L280.22 75.86 L280.32 75.89 L280.41 75.91 L280.51 75.94 L280.6 75.96 L280.69 75.99 L280.79 76.01 L280.88 76.04 L280.98 76.07 L281.07 76.09 L281.16 76.12 L281.26 76.14 L281.35 76.17 L281.45 76.19 L281.54 76.22 L281.63 76.25 L281.73 76.27 L281.82 76.3 L281.92 76.32 L282.01 76.35 L282.1 76.38 L282.2 76.4 L282.29 76.43 L282.38 76.46 L282.48 76.48 L282.57 76.51 L282.66 76.54 L282.76 76.56 L282.85 76.59 L282.95 76.62 L283.04 76.64 L283.13 76.67 L283.23 76.7 L283.32 76.73 L283.41 76.75 L283.51 76.78 L283.6 76.81 L283.69 76.84 L283.79 76.87 L283.88 76.89 L283.97 76.92 L284.06 76.95 L284.16 76.98 L284.25 77.01 L284.34 77.04 L284.44 77.06 L284.53 77.09 L284.62 77.12 L284.71 77.15 L284.81 77.18 L284.9 77.21 L284.99 77.24 L285.09 77.27 L285.18 77.3 L285.27 77.33 L285.36 77.36 L285.46 77.39 L285.55 77.42 L285.64 77.45 L285.73 77.48 L285.82 77.51 L285.92 77.54 L286.01 77.57 L286.1 77.6 L286.19 77.63 L286.28 77.66 L286.38 77.69 L286.47 77.72 L286.56 77.75 L286.65 77.78 L286.74 77.82 L286.84 77.85 L286.93 77.88 L287.02 77.91 L287.11 77.94 L287.2 77.97 L287.29 78.01 L287.38 78.04 L287.48 78.07 L287.57 78.1 L287.66 78.14 L287.75 78.17 L287.84 78.2 L287.93 78.23 L288.02 78.27 L288.11 78.3 L288.2 78.33 L288.29 78.37 L288.38 78.4 L288.48 78.43 L288.57 78.47 L288.66 78.5 L288.75 78.54 L288.84 78.57 L288.93 78.6 L289.02 78.64 L289.11 78.67 L289.2 78.71 L289.29 78.74 L289.38 78.78 L289.47 78.81 L289.56 78.85 L289.65 78.88 L289.74 78.92 L289.83 78.96 L289.92 78.99 L290 79.03 L290.09 79.06 L290.18 79.1 L290.27 79.14 L290.36 79.17 L290.45 79.21 L290.54 79.25 L290.63 79.28 L290.72 79.32 L290.81 79.36 L290.89 79.4 L290.98 79.43 L291.07 79.47 L291.16 79.51 L291.25 79.55 L291.34 79.59 L291.42 79.62 L291.51 79.66 L291.6 79.7 L291.69 79.74 L291.78 79.78 L291.86 79.82 L291.95 79.86 L292.04 79.9 L292.13 79.94 L292.21 79.98 L292.3 80.02 L292.39 80.06 L292.48 80.1 L292.56 80.14 L292.65 80.18 L292.74 80.22 L292.82 80.26 L292.91 80.3 L293 80.34 L293.08 80.38 L293.17 80.42 L293.26 80.46 L293.34 80.51 L293.43 80.55 L293.52 80.59 L293.6 80.63 L293.69 80.68 L293.77 80.72 L293.86 80.76 L293.94 80.8 L294.03 80.85 L294.12 80.89 L294.2 80.93 L294.29 80.98 L294.37 81.02 L294.46 81.07 L294.54 81.11 L294.63 81.15 L294.71 81.2 L294.8 81.24 L294.88 81.29 L294.96 81.33 L295.05 81.38 L295.13 81.42 L295.22 81.47 L295.3 81.51 L295.39 81.56 L295.47 81.61 L295.55 81.65 L295.64 81.7 L295.72 81.75 L295.8 81.79 L295.89 81.84 L295.97 81.89 L296.05 81.94 L296.14 81.98 L296.22 82.03 L296.3 82.08 L296.38 82.13 L296.47 82.18 L296.55 82.22 L296.63 82.27 L296.71 82.32 L296.8 82.37 L296.88 82.42 L296.96 82.47 L297.04 82.52 L297.12 82.57 L297.2 82.62 L297.29 82.67 L297.37 82.72 L297.45 82.77 L297.53 82.82 L297.61 82.87 L297.69 82.92 L297.77 82.98 L297.85 83.03 L297.93 83.08 L298.01 83.13 L298.09 83.18 L298.17 83.24 L298.25 83.29 L298.33 83.34 L298.41 83.4 L298.49 83.45 L298.57 83.5 L298.65 83.56 L298.73 83.61 L298.81 83.66 L298.89 83.72 L298.97 83.77 L299.05 83.83 L299.13 83.88 L299.2 83.94 L299.28 83.99 L299.36 84.05 L299.44 84.1 L299.52 84.16 L299.59 84.22 L299.67 84.27 L299.75 84.33 L299.83 84.39 L299.9 84.44 L299.98 84.5 L300.06 84.56 L300.14 84.62 L300.21 84.68 L300.29 84.73 L300.37 84.79 L300.44 84.85 L300.52 84.91 L300.59 84.97 L300.67 85.03 L300.75 85.09 L300.82 85.15 L300.9 85.21 L300.97 85.27 L301.05 85.33 L301.12 85.39 L301.2 85.45 L301.27 85.51 L301.35 85.57 L301.42 85.63 L301.5 85.7 L301.57 85.76 L301.64 85.82 L301.72 85.88 L301.79 85.95 L301.87 86.01 L301.94 86.07 L302.01 86.14 L302.09 86.2" fill="none" stroke="#c5173f" stroke-width="3.2" stroke-linejoin="round" stroke-linecap="round"/>
<g fill="#c5173f"><circle cx="266.53" cy="72.65" r="2.25"/><circle cx="267.75" cy="72.94" r="2.25"/><circle cx="268.97" cy="73.21" r="2.25"/><circle cx="270.19" cy="73.49" r="2.25"/><circle cx="271.4" cy="73.76" r="2.25"/><circle cx="272.62" cy="74.04" r="2.25"/><circle cx="273.84" cy="74.31" r="2.25"/><circle cx="275.06" cy="74.6" r="2.25"/><circle cx="276.28" cy="74.88" r="2.25"/><circle cx="277.49" cy="75.17" r="2.25"/><circle cx="278.71" cy="75.47" r="2.25"/><circle cx="279.92" cy="75.78" r="2.25"/><circle cx="281.13" cy="76.11" r="2.25"/><circle cx="282.33" cy="76.44" r="2.25"/><circle cx="283.53" cy="76.79" r="2.25"/><circle cx="284.73" cy="77.15" r="2.25"/><circle cx="285.92" cy="77.54" r="2.25"/><circle cx="287.1" cy="77.94" r="2.25"/><circle cx="288.28" cy="78.36" r="2.25"/><circle cx="289.44" cy="78.81" r="2.25"/><circle cx="290.6" cy="79.27" r="2.25"/><circle cx="291.75" cy="79.77" r="2.25"/><circle cx="292.89" cy="80.29" r="2.25"/><circle cx="294.01" cy="80.84" r="2.25"/><circle cx="295.12" cy="81.42" r="2.25"/><circle cx="296.21" cy="82.03" r="2.25"/><circle cx="297.28" cy="82.67" r="2.25"/><circle cx="298.33" cy="83.34" r="2.25"/><circle cx="299.36" cy="84.05" r="2.25"/><circle cx="300.37" cy="84.79" r="2.25"/><circle cx="301.35" cy="85.57" r="2.25"/></g>
<path d="M312.53 86.92 L312.79 86.65 L313.05 86.38 L313.32 86.11 L313.59 85.85 L313.86 85.59 L314.14 85.33 L314.42 85.08 L314.7 84.83 L314.98 84.59 L315.27 84.35 L315.55 84.11 L315.85 83.88 L316.14 83.65 L316.43 83.43 L316.73 83.2 L317.03 82.98 L317.34 82.77 L317.64 82.56 L317.95 82.35 L318.26 82.14 L318.57 81.94 L318.88 81.74 L319.2 81.54 L319.51 81.34 L319.83 81.15 L320.15 80.96 L320.48 80.78 L320.8 80.59 L321.13 80.41 L321.45 80.24 L321.78 80.06 L322.11 79.89 L322.45 79.72 L322.78 79.55 L323.11 79.38 L323.45 79.22 L323.79 79.06 L324.13 78.9 L324.47 78.74 L324.81 78.59 L325.15 78.43 L325.49 78.28 L325.84 78.13 L326.19 77.99 L326.53 77.84 L326.88 77.7 L327.23 77.56 L327.58 77.42 L327.93 77.28 L328.28 77.14 L328.63 77.01 L328.98 76.87 L329.33 76.74 L329.68 76.61 L330.04 76.48 L330.39 76.35 L330.74 76.22 L331.1 76.1 L331.45 75.97 L331.81 75.85 L332.16 75.73 L332.52 75.61 L332.87 75.49 L333.23 75.37 L333.59 75.25 L333.95 75.13 L334.3 75.02 L334.66 74.91 L335.02 74.79 L335.38 74.68 L335.74 74.57 L336.09 74.47 L336.45 74.36 L336.81 74.25 L337.17 74.15 L337.53 74.05 L337.9 73.95 L338.26 73.85 L338.62 73.75 L338.98 73.65 L339.34 73.55 L339.7 73.46 L340.07 73.37 L340.43 73.27 L340.79 73.18 L341.16 73.09 L341.52 73.01 L341.88 72.92 L342.25 72.83 L342.61 72.75 L342.98 72.67 L343.34 72.59 L343.71 72.51 L344.08 72.43 L344.44 72.35 L344.81 72.28 L345.18 72.2 L345.54 72.13 L345.91 72.06 L346.28 71.99 L346.65 71.92 L347.01 71.86 L347.38 71.79 L347.75 71.73 L348.12 71.67 L348.49 71.6 L348.86 71.55 L349.23 71.49 L349.6 71.43 L349.97 71.38 L350.34 71.32 L350.71 71.27 L351.08 71.22 L351.45 71.17 L351.83 71.12 L352.2 71.08 L352.57 71.03 L352.94 70.99 L353.31 70.95 L353.69 70.91 L354.06 70.87 L354.43 70.83 L354.81 70.79 L355.18 70.75 L355.55 70.72 L355.93 70.68 L356.3 70.65 L356.68 70.61 L357.05 70.58 L357.42 70.55 L357.8 70.52 L358.17 70.49 L358.55 70.46 L358.92 70.43 L359.3 70.4 L359.67 70.38 L360.05 70.35 L360.43 70.32 L360.8 70.3 L361.18 70.27 L361.55 70.25 L361.93 70.22 L362.3 70.2 L362.68 70.17 L363.06 70.15 L363.43 70.13 L363.81 70.1 L364.19 70.08 L364.56 70.06 L364.94 70.03 L365.31 70.01 L365.69 69.99 L366.07 69.96 L366.44 69.94 L366.82 69.91 L367.2 69.89 L367.57 69.87 L367.95 69.84 L368.33 69.82 L368.7 69.79 L369.08 69.77 L369.46 69.74 L369.83 69.71 L370.21 69.69 L370.59 69.66 L370.96 69.63 L371.34 69.6 L371.71 69.57 L372.09 69.54 L372.47 69.51 L372.84 69.48 L373.22 69.45 L373.59 69.42 L373.97 69.38 L374.34 69.35 L374.72 69.31 L375.1 69.28 L375.47 69.24 L375.85 69.2 L376.22 69.16 L376.6 69.12 L376.97 69.08 L377.34 69.03 L377.72 68.99 L378.09 68.94 L378.47 68.89 L378.84 68.85 L379.21 68.79 L379.59 68.74 L379.96 68.69 L380.33 68.64 L380.71 68.58 L381.08 68.52 L381.45 68.46 L381.83 68.4 L382.2 68.34 L382.57 68.27 L382.94 68.21 L383.31 68.14 L383.68 68.07 L384.05 67.99 L384.42 67.92 L384.79 67.84 L385.16 67.76 L385.53 67.68 L385.89 67.6 L386.26 67.51 L386.62 67.42 L386.99 67.33 L387.35 67.23 L387.71 67.14 L388.07 67.03 L388.43 66.93 L388.78 66.82 L389.14 66.71 L389.49 66.6 L389.84 66.48 L390.19 66.36 L390.54 66.24 L390.88 66.11 L391.23 65.98 L391.57 65.85 L391.91 65.71 L392.25 65.57 L392.58 65.42 L392.91 65.27 L393.24 65.11 L393.57 64.96 L393.89 64.79 L394.22 64.63 L394.53 64.45 L394.85 64.28 L395.16 64.1 L395.47 63.91 L395.78 63.72 L396.08 63.53 L396.39 63.33 L396.68 63.12 L396.98 62.91 L397.27 62.7 L397.56 62.48 L397.84 62.26 L398.13 62.03 L398.41 61.8 L398.69 61.57 L398.96 61.33 L399.23 61.09 L399.51 60.84 L399.77 60.59 L400.04 60.34 L400.3 60.08 L400.57 59.82 L400.83 59.56 L401.08 59.3 L401.34 59.03 L401.59 58.76 L401.85 58.49 L402.1 58.21 L402.35 57.93 L402.6 57.65 L402.84 57.37 L403.09 57.09 L403.33 56.8 L403.57 56.51 L403.81 56.22 L404.06 55.93 L404.29 55.63 L404.53 55.34 L404.77 55.04 L405.01 54.75 L405.24 54.45 L405.48 54.15 L405.71 53.85 L405.95 53.54 L406.18 53.24 L406.41 52.94 L406.65 52.64 L406.88 52.33 L407.11 52.03 L407.34 51.72 L407.58 51.42 L407.81 51.12 L408.04 50.81 L408.27 50.51 L408.51 50.2 L408.74 49.9 L408.97 49.6 L409.21 49.3 L409.44 49 L409.68 48.69 L409.91 48.4 L410.15 48.1 L410.38 47.8 L410.62 47.5 L410.86 47.21 L411.1 46.91 L411.34 46.62 L411.58 46.33 L411.83 46.04 L412.07 45.75 L412.31 45.46 L412.56 45.18 L412.81 44.89 L413.05 44.61 L413.3 44.33 L413.55 44.05 L413.81 43.78 L414.06 43.5 L414.32 43.23 L414.57 42.96 L414.83 42.69 L415.09 42.42 L415.35 42.15 L415.62 41.89 L415.88 41.63 L416.15 41.37 L416.42 41.12 L416.69 40.87 L416.96 40.62 L417.24 40.37 L417.51 40.12 L417.79 39.88 L418.08 39.64 L418.36 39.4 L418.65 39.17 L418.93 38.94 L419.22 38.71 L419.52 38.49 L419.81 38.26 L420.11 38.05 L420.41 37.83 L420.71 37.62 L421.02 37.41 L421.32 37.2 L421.63 37 L421.94 36.79 L422.26 36.6 L422.57 36.4 L422.89 36.21 L423.21 36.02 L423.53 35.83 L423.85 35.64 L424.17 35.46 L424.5 35.28 L424.83 35.1 L425.16 34.93 L425.49 34.76 L425.82 34.59 L426.16 34.42 L426.49 34.26 L426.83 34.09 L427.17 33.93 L427.51 33.78 L427.85 33.62 L428.19 33.47 L428.54 33.32 L428.88 33.17 L429.23 33.02 L429.58 32.88 L429.93 32.74 L430.28 32.6 L430.63 32.46 L430.98 32.33 L431.33 32.2 L431.69 32.07 L432.04 31.94 L432.4 31.81 L432.76 31.69 L433.12 31.56 L433.47 31.44 L433.83 31.32 L434.19 31.21 L434.55 31.09 L434.92 30.98 L435.28 30.87 L435.64 30.76 L436 30.65 L436.37 30.54 L436.73 30.44 L437.09 30.34 L437.46 30.23 L437.82 30.14 L438.19 30.04 L438.56 29.94 L438.92 29.85 L439.29 29.75 L439.65 29.66 L440.02 29.57 L440.38 29.48 L440.75 29.4 L441.12 29.31 L441.48 29.23 L441.85 29.14 L442.21 29.06 L442.58 28.98 L442.95 28.9 L443.31 28.82 L443.68 28.75 L444.04 28.67" fill="none" stroke="#c5173f" stroke-width="3.2" stroke-linejoin="round" stroke-linecap="round"/>
<g fill="#c5173f"><circle cx="312.53" cy="86.92" r="2.25"/><circle cx="313.41" cy="86.03" r="2.25"/><circle cx="314.32" cy="85.17" r="2.25"/><circle cx="315.26" cy="84.35" r="2.25"/><circle cx="316.24" cy="83.58" r="2.25"/><circle cx="317.24" cy="82.83" r="2.25"/><circle cx="318.28" cy="82.13" r="2.25"/><circle cx="319.33" cy="81.46" r="2.25"/><circle cx="320.41" cy="80.82" r="2.25"/><circle cx="321.5" cy="80.21" r="2.25"/><circle cx="322.61" cy="79.63" r="2.25"/><circle cx="323.73" cy="79.08" r="2.25"/><circle cx="324.86" cy="78.56" r="2.25"/><circle cx="326.01" cy="78.06" r="2.25"/><circle cx="327.16" cy="77.58" r="2.25"/><circle cx="328.33" cy="77.12" r="2.25"/><circle cx="329.5" cy="76.68" r="2.25"/><circle cx="330.67" cy="76.25" r="2.25"/><circle cx="331.85" cy="75.83" r="2.25"/><circle cx="333.03" cy="75.43" r="2.25"/><circle cx="334.22" cy="75.05" r="2.25"/><circle cx="335.41" cy="74.67" r="2.25"/><circle cx="336.61" cy="74.31" r="2.25"/><circle cx="337.81" cy="73.97" r="2.25"/><circle cx="339.02" cy="73.64" r="2.25"/><circle cx="340.23" cy="73.32" r="2.25"/><circle cx="341.44" cy="73.02" r="2.25"/><circle cx="342.66" cy="72.74" r="2.25"/><circle cx="343.88" cy="72.47" r="2.25"/><circle cx="345.1" cy="72.22" r="2.25"/><circle cx="346.33" cy="71.98" r="2.25"/><circle cx="347.56" cy="71.76" r="2.25"/><circle cx="348.8" cy="71.56" r="2.25"/><circle cx="350.03" cy="71.37" r="2.25"/><circle cx="351.27" cy="71.2" r="2.25"/><circle cx="352.51" cy="71.04" r="2.25"/><circle cx="353.75" cy="70.9" r="2.25"/><circle cx="354.99" cy="70.77" r="2.25"/><circle cx="356.24" cy="70.65" r="2.25"/><circle cx="357.48" cy="70.55" r="2.25"/><circle cx="358.73" cy="70.45" r="2.25"/><circle cx="359.98" cy="70.35" r="2.25"/><circle cx="361.22" cy="70.27" r="2.25"/><circle cx="362.47" cy="70.19" r="2.25"/><circle cx="363.72" cy="70.11" r="2.25"/><circle cx="364.97" cy="70.03" r="2.25"/><circle cx="366.21" cy="69.95" r="2.25"/><circle cx="367.46" cy="69.87" r="2.25"/><circle cx="368.71" cy="69.79" r="2.25"/><circle cx="369.96" cy="69.71" r="2.25"/><circle cx="371.2" cy="69.61" r="2.25"/><circle cx="372.45" cy="69.52" r="2.25"/><circle cx="373.69" cy="69.41" r="2.25"/><circle cx="374.94" cy="69.29" r="2.25"/><circle cx="376.18" cy="69.16" r="2.25"/><circle cx="377.42" cy="69.02" r="2.25"/><circle cx="378.66" cy="68.87" r="2.25"/><circle cx="379.9" cy="68.7" r="2.25"/><circle cx="381.14" cy="68.51" r="2.25"/><circle cx="382.37" cy="68.31" r="2.25"/><circle cx="383.6" cy="68.08" r="2.25"/><circle cx="384.83" cy="67.83" r="2.25"/><circle cx="386.05" cy="67.56" r="2.25"/><circle cx="387.26" cy="67.26" r="2.25"/><circle cx="388.46" cy="66.92" r="2.25"/><circle cx="389.66" cy="66.55" r="2.25"/><circle cx="390.83" cy="66.13" r="2.25"/><circle cx="392" cy="65.67" r="2.25"/><circle cx="393.14" cy="65.16" r="2.25"/><circle cx="394.26" cy="64.6" r="2.25"/><circle cx="395.34" cy="63.99" r="2.25"/><circle cx="396.4" cy="63.32" r="2.25"/><circle cx="397.41" cy="62.59" r="2.25"/><circle cx="398.39" cy="61.81" r="2.25"/><circle cx="399.34" cy="60.99" r="2.25"/><circle cx="400.25" cy="60.14" r="2.25"/><circle cx="401.13" cy="59.25" r="2.25"/><circle cx="401.98" cy="58.34" r="2.25"/><circle cx="402.81" cy="57.4" r="2.25"/><circle cx="403.62" cy="56.45" r="2.25"/><circle cx="404.42" cy="55.48" r="2.25"/><circle cx="405.19" cy="54.51" r="2.25"/><circle cx="405.96" cy="53.52" r="2.25"/><circle cx="406.73" cy="52.53" r="2.25"/><circle cx="407.49" cy="51.54" r="2.25"/><circle cx="408.24" cy="50.54" r="2.25"/><circle cx="409.01" cy="49.55" r="2.25"/><circle cx="409.78" cy="48.57" r="2.25"/><circle cx="410.55" cy="47.59" r="2.25"/><circle cx="411.34" cy="46.62" r="2.25"/><circle cx="412.14" cy="45.66" r="2.25"/><circle cx="412.96" cy="44.72" r="2.25"/><circle cx="413.8" cy="43.79" r="2.25"/><circle cx="414.65" cy="42.87" r="2.25"/><circle cx="415.53" cy="41.98" r="2.25"/><circle cx="416.43" cy="41.11" r="2.25"/><circle cx="417.35" cy="40.27" r="2.25"/><circle cx="418.3" cy="39.46" r="2.25"/><circle cx="419.27" cy="38.67" r="2.25"/><circle cx="420.28" cy="37.93" r="2.25"/><circle cx="421.3" cy="37.22" r="2.25"/><circle cx="422.35" cy="36.54" r="2.25"/><circle cx="423.42" cy="35.89" r="2.25"/><circle cx="424.51" cy="35.28" r="2.25"/><circle cx="425.62" cy="34.69" r="2.25"/><circle cx="426.74" cy="34.14" r="2.25"/><circle cx="427.87" cy="33.61" r="2.25"/><circle cx="429.02" cy="33.11" r="2.25"/><circle cx="430.17" cy="32.64" r="2.25"/><circle cx="431.34" cy="32.19" r="2.25"/><circle cx="432.52" cy="31.77" r="2.25"/><circle cx="433.7" cy="31.37" r="2.25"/><circle cx="434.89" cy="30.99" r="2.25"/><circle cx="436.09" cy="30.62" r="2.25"/><circle cx="437.29" cy="30.28" r="2.25"/><circle cx="438.5" cy="29.96" r="2.25"/><circle cx="439.71" cy="29.65" r="2.25"/><circle cx="440.92" cy="29.36" r="2.25"/><circle cx="442.14" cy="29.08" r="2.25"/><circle cx="443.36" cy="28.81" r="2.25"/></g>
<circle cx="304" cy="90.9" r="2.3" fill="#c5173f"/>
<circle cx="309.9" cy="90.9" r="2.3" fill="#c5173f"/>
<rect x="266" y="19.4" width="178" height="145" fill="none" stroke="#1e1e1e" stroke-width="1.4"/>
<line x1="263" y1="164.4" x2="266" y2="164.4" stroke="#1e1e1e" stroke-width="1.2"/>
<line x1="263" y1="134.4" x2="266" y2="134.4" stroke="#1e1e1e" stroke-width="1.2"/>
<line x1="263" y1="104.4" x2="266" y2="104.4" stroke="#1e1e1e" stroke-width="1.2"/>
<line x1="263" y1="74.4" x2="266" y2="74.4" stroke="#1e1e1e" stroke-width="1.2"/>
<line x1="263" y1="44.4" x2="266" y2="44.4" stroke="#1e1e1e" stroke-width="1.2"/>
<line x1="264.2" y1="149.4" x2="266" y2="149.4" stroke="#1e1e1e" stroke-width="1.2"/>
<line x1="264.2" y1="119.4" x2="266" y2="119.4" stroke="#1e1e1e" stroke-width="1.2"/>
<line x1="264.2" y1="89.4" x2="266" y2="89.4" stroke="#1e1e1e" stroke-width="1.2"/>
<line x1="264.2" y1="59.4" x2="266" y2="59.4" stroke="#1e1e1e" stroke-width="1.2"/>
<line x1="264.2" y1="29.4" x2="266" y2="29.4" stroke="#1e1e1e" stroke-width="1.2"/>
<line x1="264.6" y1="159.88" x2="266" y2="159.88" stroke="#1e1e1e" stroke-width="0.8"/>
<line x1="264.6" y1="157.24" x2="266" y2="157.24" stroke="#1e1e1e" stroke-width="0.8"/>
<line x1="264.6" y1="155.37" x2="266" y2="155.37" stroke="#1e1e1e" stroke-width="0.8"/>
<line x1="264.6" y1="153.92" x2="266" y2="153.92" stroke="#1e1e1e" stroke-width="0.8"/>
<line x1="264.6" y1="152.73" x2="266" y2="152.73" stroke="#1e1e1e" stroke-width="0.8"/>
<line x1="264.6" y1="151.72" x2="266" y2="151.72" stroke="#1e1e1e" stroke-width="0.8"/>
<line x1="264.6" y1="150.85" x2="266" y2="150.85" stroke="#1e1e1e" stroke-width="0.8"/>
<line x1="264.6" y1="150.09" x2="266" y2="150.09" stroke="#1e1e1e" stroke-width="0.8"/>
<line x1="264.6" y1="144.88" x2="266" y2="144.88" stroke="#1e1e1e" stroke-width="0.8"/>
<line x1="264.6" y1="142.24" x2="266" y2="142.24" stroke="#1e1e1e" stroke-width="0.8"/>
<line x1="264.6" y1="140.37" x2="266" y2="140.37" stroke="#1e1e1e" stroke-width="0.8"/>
<line x1="264.6" y1="138.92" x2="266" y2="138.92" stroke="#1e1e1e" stroke-width="0.8"/>
<line x1="264.6" y1="137.73" x2="266" y2="137.73" stroke="#1e1e1e" stroke-width="0.8"/>
<line x1="264.6" y1="136.72" x2="266" y2="136.72" stroke="#1e1e1e" stroke-width="0.8"/>
<line x1="264.6" y1="135.85" x2="266" y2="135.85" stroke="#1e1e1e" stroke-width="0.8"/>
<line x1="264.6" y1="135.09" x2="266" y2="135.09" stroke="#1e1e1e" stroke-width="0.8"/>
<line x1="264.6" y1="129.88" x2="266" y2="129.88" stroke="#1e1e1e" stroke-width="0.8"/>
<line x1="264.6" y1="127.24" x2="266" y2="127.24" stroke="#1e1e1e" stroke-width="0.8"/>
<line x1="264.6" y1="125.37" x2="266" y2="125.37" stroke="#1e1e1e" stroke-width="0.8"/>
<line x1="264.6" y1="123.92" x2="266" y2="123.92" stroke="#1e1e1e" stroke-width="0.8"/>
<line x1="264.6" y1="122.73" x2="266" y2="122.73" stroke="#1e1e1e" stroke-width="0.8"/>
<line x1="264.6" y1="121.72" x2="266" y2="121.72" stroke="#1e1e1e" stroke-width="0.8"/>
<line x1="264.6" y1="120.85" x2="266" y2="120.85" stroke="#1e1e1e" stroke-width="0.8"/>
<line x1="264.6" y1="120.09" x2="266" y2="120.09" stroke="#1e1e1e" stroke-width="0.8"/>
<line x1="264.6" y1="114.88" x2="266" y2="114.88" stroke="#1e1e1e" stroke-width="0.8"/>
<line x1="264.6" y1="112.24" x2="266" y2="112.24" stroke="#1e1e1e" stroke-width="0.8"/>
<line x1="264.6" y1="110.37" x2="266" y2="110.37" stroke="#1e1e1e" stroke-width="0.8"/>
<line x1="264.6" y1="108.92" x2="266" y2="108.92" stroke="#1e1e1e" stroke-width="0.8"/>
<line x1="264.6" y1="107.73" x2="266" y2="107.73" stroke="#1e1e1e" stroke-width="0.8"/>
<line x1="264.6" y1="106.72" x2="266" y2="106.72" stroke="#1e1e1e" stroke-width="0.8"/>
<line x1="264.6" y1="105.85" x2="266" y2="105.85" stroke="#1e1e1e" stroke-width="0.8"/>
<line x1="264.6" y1="105.09" x2="266" y2="105.09" stroke="#1e1e1e" stroke-width="0.8"/>
<line x1="264.6" y1="99.88" x2="266" y2="99.88" stroke="#1e1e1e" stroke-width="0.8"/>
<line x1="264.6" y1="97.24" x2="266" y2="97.24" stroke="#1e1e1e" stroke-width="0.8"/>
<line x1="264.6" y1="95.37" x2="266" y2="95.37" stroke="#1e1e1e" stroke-width="0.8"/>
<line x1="264.6" y1="93.92" x2="266" y2="93.92" stroke="#1e1e1e" stroke-width="0.8"/>
<line x1="264.6" y1="92.73" x2="266" y2="92.73" stroke="#1e1e1e" stroke-width="0.8"/>
<line x1="264.6" y1="91.72" x2="266" y2="91.72" stroke="#1e1e1e" stroke-width="0.8"/>
<line x1="264.6" y1="90.85" x2="266" y2="90.85" stroke="#1e1e1e" stroke-width="0.8"/>
<line x1="264.6" y1="90.09" x2="266" y2="90.09" stroke="#1e1e1e" stroke-width="0.8"/>
<line x1="264.6" y1="84.88" x2="266" y2="84.88" stroke="#1e1e1e" stroke-width="0.8"/>
<line x1="264.6" y1="82.24" x2="266" y2="82.24" stroke="#1e1e1e" stroke-width="0.8"/>
<line x1="264.6" y1="80.37" x2="266" y2="80.37" stroke="#1e1e1e" stroke-width="0.8"/>
<line x1="264.6" y1="78.92" x2="266" y2="78.92" stroke="#1e1e1e" stroke-width="0.8"/>
<line x1="264.6" y1="77.73" x2="266" y2="77.73" stroke="#1e1e1e" stroke-width="0.8"/>
<line x1="264.6" y1="76.72" x2="266" y2="76.72" stroke="#1e1e1e" stroke-width="0.8"/>
<line x1="264.6" y1="75.85" x2="266" y2="75.85" stroke="#1e1e1e" stroke-width="0.8"/>
<line x1="264.6" y1="75.09" x2="266" y2="75.09" stroke="#1e1e1e" stroke-width="0.8"/>
<line x1="264.6" y1="69.88" x2="266" y2="69.88" stroke="#1e1e1e" stroke-width="0.8"/>
<line x1="264.6" y1="67.24" x2="266" y2="67.24" stroke="#1e1e1e" stroke-width="0.8"/>
<line x1="264.6" y1="65.37" x2="266" y2="65.37" stroke="#1e1e1e" stroke-width="0.8"/>
<line x1="264.6" y1="63.92" x2="266" y2="63.92" stroke="#1e1e1e" stroke-width="0.8"/>
<line x1="264.6" y1="62.73" x2="266" y2="62.73" stroke="#1e1e1e" stroke-width="0.8"/>
<line x1="264.6" y1="61.72" x2="266" y2="61.72" stroke="#1e1e1e" stroke-width="0.8"/>
<line x1="264.6" y1="60.85" x2="266" y2="60.85" stroke="#1e1e1e" stroke-width="0.8"/>
<line x1="264.6" y1="60.09" x2="266" y2="60.09" stroke="#1e1e1e" stroke-width="0.8"/>
<line x1="264.6" y1="54.88" x2="266" y2="54.88" stroke="#1e1e1e" stroke-width="0.8"/>
<line x1="264.6" y1="52.24" x2="266" y2="52.24" stroke="#1e1e1e" stroke-width="0.8"/>
<line x1="264.6" y1="50.37" x2="266" y2="50.37" stroke="#1e1e1e" stroke-width="0.8"/>
<line x1="264.6" y1="48.92" x2="266" y2="48.92" stroke="#1e1e1e" stroke-width="0.8"/>
<line x1="264.6" y1="47.73" x2="266" y2="47.73" stroke="#1e1e1e" stroke-width="0.8"/>
<line x1="264.6" y1="46.72" x2="266" y2="46.72" stroke="#1e1e1e" stroke-width="0.8"/>
<line x1="264.6" y1="45.85" x2="266" y2="45.85" stroke="#1e1e1e" stroke-width="0.8"/>
<line x1="264.6" y1="45.09" x2="266" y2="45.09" stroke="#1e1e1e" stroke-width="0.8"/>
<line x1="264.6" y1="39.88" x2="266" y2="39.88" stroke="#1e1e1e" stroke-width="0.8"/>
<line x1="264.6" y1="37.24" x2="266" y2="37.24" stroke="#1e1e1e" stroke-width="0.8"/>
<line x1="264.6" y1="35.37" x2="266" y2="35.37" stroke="#1e1e1e" stroke-width="0.8"/>
<line x1="264.6" y1="33.92" x2="266" y2="33.92" stroke="#1e1e1e" stroke-width="0.8"/>
<line x1="264.6" y1="32.73" x2="266" y2="32.73" stroke="#1e1e1e" stroke-width="0.8"/>
<line x1="264.6" y1="31.72" x2="266" y2="31.72" stroke="#1e1e1e" stroke-width="0.8"/>
<line x1="264.6" y1="30.85" x2="266" y2="30.85" stroke="#1e1e1e" stroke-width="0.8"/>
<line x1="264.6" y1="30.09" x2="266" y2="30.09" stroke="#1e1e1e" stroke-width="0.8"/>
<line x1="264.6" y1="24.88" x2="266" y2="24.88" stroke="#1e1e1e" stroke-width="0.8"/>
<line x1="264.6" y1="22.24" x2="266" y2="22.24" stroke="#1e1e1e" stroke-width="0.8"/>
<line x1="264.6" y1="20.37" x2="266" y2="20.37" stroke="#1e1e1e" stroke-width="0.8"/>
<line x1="279.64" y1="164.4" x2="279.64" y2="167.4" stroke="#1e1e1e" stroke-width="1.2"/>
<line x1="307" y1="164.4" x2="307" y2="167.4" stroke="#1e1e1e" stroke-width="1.2"/>
<line x1="334.36" y1="164.4" x2="334.36" y2="167.4" stroke="#1e1e1e" stroke-width="1.2"/>
<line x1="361.72" y1="164.4" x2="361.72" y2="167.4" stroke="#1e1e1e" stroke-width="1.2"/>
<line x1="389.08" y1="164.4" x2="389.08" y2="167.4" stroke="#1e1e1e" stroke-width="1.2"/>
<line x1="416.44" y1="164.4" x2="416.44" y2="167.4" stroke="#1e1e1e" stroke-width="1.2"/>
<line x1="443.8" y1="164.4" x2="443.8" y2="167.4" stroke="#1e1e1e" stroke-width="1.2"/>
<line x1="293.32" y1="164.4" x2="293.32" y2="166.2" stroke="#1e1e1e" stroke-width="1.2"/>
<line x1="320.68" y1="164.4" x2="320.68" y2="166.2" stroke="#1e1e1e" stroke-width="1.2"/>
<line x1="348.04" y1="164.4" x2="348.04" y2="166.2" stroke="#1e1e1e" stroke-width="1.2"/>
<line x1="375.4" y1="164.4" x2="375.4" y2="166.2" stroke="#1e1e1e" stroke-width="1.2"/>
<line x1="402.76" y1="164.4" x2="402.76" y2="166.2" stroke="#1e1e1e" stroke-width="1.2"/>
<line x1="430.12" y1="164.4" x2="430.12" y2="166.2" stroke="#1e1e1e" stroke-width="1.2"/>
<text x="243.4" y="168.9" font-size="11" text-anchor="start" fill="#231815" font-weight="normal" stroke="#231815" stroke-width="0.45">10<tspan dy="-4.3" font-size="6.6">-8</tspan></text>
<text x="243.4" y="138.9" font-size="11" text-anchor="start" fill="#231815" font-weight="normal" stroke="#231815" stroke-width="0.45">10<tspan dy="-4.3" font-size="6.6">-6</tspan></text>
<text x="243.4" y="108.9" font-size="11" text-anchor="start" fill="#231815" font-weight="normal" stroke="#231815" stroke-width="0.45">10<tspan dy="-4.3" font-size="6.6">-4</tspan></text>
<text x="243.4" y="78.9" font-size="11" text-anchor="start" fill="#231815" font-weight="normal" stroke="#231815" stroke-width="0.45">10<tspan dy="-4.3" font-size="6.6">-2</tspan></text>
<text x="243.4" y="48.9" font-size="11" text-anchor="start" fill="#231815" font-weight="normal" stroke="#231815" stroke-width="0.45">10<tspan dy="-4.3" font-size="6.6">0</tspan></text>
<text x="278.04" y="175.9" font-size="10.9" text-anchor="middle" fill="#0a0a0a" font-weight="bold" stroke="#0a0a0a" stroke-width="0.2">-0.2</text>
<text x="306.7" y="175.9" font-size="10.9" text-anchor="middle" fill="#0a0a0a" font-weight="bold" stroke="#0a0a0a" stroke-width="0.2">0.0</text>
<text x="334.06" y="175.9" font-size="10.9" text-anchor="middle" fill="#0a0a0a" font-weight="bold" stroke="#0a0a0a" stroke-width="0.2">0.2</text>
<text x="361.42" y="175.9" font-size="10.9" text-anchor="middle" fill="#0a0a0a" font-weight="bold" stroke="#0a0a0a" stroke-width="0.2">0.4</text>
<text x="388.78" y="175.9" font-size="10.9" text-anchor="middle" fill="#0a0a0a" font-weight="bold" stroke="#0a0a0a" stroke-width="0.2">0.6</text>
<text x="416.14" y="175.9" font-size="10.9" text-anchor="middle" fill="#0a0a0a" font-weight="bold" stroke="#0a0a0a" stroke-width="0.2">0.8</text>
<text x="443.5" y="175.9" font-size="10.9" text-anchor="middle" fill="#0a0a0a" font-weight="bold" stroke="#0a0a0a" stroke-width="0.2">1.0</text>
<text x="351.5" y="191.3" font-size="12" text-anchor="middle" fill="#231815" font-weight="bold" stroke="#231815" stroke-width="0.2">Voltage  (V)</text>
<text x="240.6" y="96.2" font-size="12" text-anchor="middle" fill="#231815" font-weight="bold" transform="rotate(-90 240.6 96.2)" stroke="#231815" stroke-width="0.2">Current Density (mA cm<tspan dy="-4" font-size="7">-2</tspan><tspan dy="4">)</tspan></text>
<line x1="270" y1="26.6" x2="284.9" y2="26.6" stroke="#7c98c7" stroke-width="1.7" stroke-opacity="0.6"/>
<circle cx="277.4" cy="26.6" r="2.3" fill="#7c98c7"/>
<text x="289.8" y="31.1" font-size="10.9" text-anchor="start" fill="#000" font-weight="bold" stroke="#000" stroke-width="0.2">Control</text>
<line x1="270" y1="37.9" x2="284.9" y2="37.9" stroke="#ee9a4d" stroke-width="1.7" stroke-opacity="0.6"/>
<circle cx="277.4" cy="37.9" r="2.3" fill="#ee9a4d"/>
<text x="289.8" y="42.4" font-size="10.9" text-anchor="start" fill="#000" font-weight="bold" stroke="#000" stroke-width="0.2">AD</text>
<line x1="270" y1="49.2" x2="284.9" y2="49.2" stroke="#c5173f" stroke-width="1.7" stroke-opacity="0.6"/>
<circle cx="277.4" cy="49.2" r="2.3" fill="#c5173f"/>
<text x="289.8" y="53.7" font-size="10.9" text-anchor="start" fill="#000" font-weight="bold" stroke="#000" stroke-width="0.2">OPD</text>
<text x="355.8" y="121.4" font-size="10.7" text-anchor="start" fill="#7c98c7" font-weight="bold" stroke="#7c98c7" stroke-width="0.2">J<tspan dy="2.5" font-size="7">0</tspan><tspan dy="-2.5">=1.02×10</tspan><tspan dy="-4.2" font-size="6.7">-5</tspan></text>
<text x="355.8" y="136.7" font-size="10.7" text-anchor="start" fill="#ee9a4d" font-weight="bold" stroke="#ee9a4d" stroke-width="0.2">J<tspan dy="2.5" font-size="7">0</tspan><tspan dy="-2.5">= 9.64×10</tspan><tspan dy="-4.2" font-size="6.7">-7</tspan></text>
<text x="355.8" y="153.1" font-size="10.7" text-anchor="start" fill="#c5173f" font-weight="bold" stroke="#c5173f" stroke-width="0.2">J<tspan dy="2.5" font-size="7">0</tspan><tspan dy="-2.5">= 3.30×10</tspan><tspan dy="-4.2" font-size="6.7">-8</tspan></text>
<text x="462.6" y="12.2" font-size="17" text-anchor="start" fill="#231815" font-weight="bold" stroke="#231815" stroke-width="0.2">c</text>
<path d="M511.5 146.3 L674 63.9" fill="none" stroke="#7c98c7" stroke-width="1" stroke-linejoin="round" stroke-linecap="round"/>
<path d="M511.5 124.4 L674 47.7" fill="none" stroke="#ee9a4d" stroke-width="1" stroke-linejoin="round" stroke-linecap="round"/>
<path d="M511.5 98.2 L674 31.9" fill="none" stroke="#c5173f" stroke-width="1" stroke-linejoin="round" stroke-linecap="round"/>
<circle cx="511.5" cy="150.6" r="2.4" fill="#7c98c7"/>
<circle cx="560.42" cy="116.3" r="2.4" fill="#7c98c7"/>
<circle cx="609.33" cy="92.8" r="2.4" fill="#7c98c7"/>
<circle cx="637.95" cy="80.7" r="2.4" fill="#7c98c7"/>
<circle cx="658.25" cy="73.1" r="2.4" fill="#7c98c7"/>
<circle cx="674" cy="60.8" r="2.4" fill="#7c98c7"/>
<circle cx="511.5" cy="128.1" r="2.4" fill="#ee9a4d"/>
<circle cx="560.42" cy="96.8" r="2.4" fill="#ee9a4d"/>
<circle cx="609.33" cy="76" r="2.4" fill="#ee9a4d"/>
<circle cx="637.95" cy="63.9" r="2.4" fill="#ee9a4d"/>
<circle cx="658.25" cy="56.4" r="2.4" fill="#ee9a4d"/>
<circle cx="674" cy="50.8" r="2.4" fill="#ee9a4d"/>
<circle cx="511.5" cy="100.9" r="2.4" fill="#c5173f"/>
<circle cx="560.42" cy="75.7" r="2.4" fill="#c5173f"/>
<circle cx="609.33" cy="55.6" r="2.4" fill="#c5173f"/>
<circle cx="637.95" cy="44.8" r="2.4" fill="#c5173f"/>
<circle cx="658.25" cy="38.6" r="2.4" fill="#c5173f"/>
<circle cx="674" cy="29" r="2.4" fill="#c5173f"/>
<circle cx="674" cy="49.6" r="2.4" fill="#ee9a4d"/>
<rect x="503.4" y="19.3" width="177.1" height="144.7" fill="none" stroke="#1e1e1e" stroke-width="1.4"/>
<line x1="500.4" y1="164" x2="503.4" y2="164" stroke="#1e1e1e" stroke-width="1.2"/>
<line x1="500.4" y1="136.4" x2="503.4" y2="136.4" stroke="#1e1e1e" stroke-width="1.2"/>
<line x1="500.4" y1="108.8" x2="503.4" y2="108.8" stroke="#1e1e1e" stroke-width="1.2"/>
<line x1="500.4" y1="81.2" x2="503.4" y2="81.2" stroke="#1e1e1e" stroke-width="1.2"/>
<line x1="500.4" y1="53.6" x2="503.4" y2="53.6" stroke="#1e1e1e" stroke-width="1.2"/>
<line x1="500.4" y1="26" x2="503.4" y2="26" stroke="#1e1e1e" stroke-width="1.2"/>
<line x1="501.6" y1="150.2" x2="503.4" y2="150.2" stroke="#1e1e1e" stroke-width="1.2"/>
<line x1="501.6" y1="122.6" x2="503.4" y2="122.6" stroke="#1e1e1e" stroke-width="1.2"/>
<line x1="501.6" y1="95" x2="503.4" y2="95" stroke="#1e1e1e" stroke-width="1.2"/>
<line x1="501.6" y1="67.4" x2="503.4" y2="67.4" stroke="#1e1e1e" stroke-width="1.2"/>
<line x1="501.6" y1="39.8" x2="503.4" y2="39.8" stroke="#1e1e1e" stroke-width="1.2"/>
<line x1="511.5" y1="164" x2="511.5" y2="167" stroke="#1e1e1e" stroke-width="1.2"/>
<line x1="560.42" y1="164" x2="560.42" y2="167" stroke="#1e1e1e" stroke-width="1.2"/>
<line x1="609.33" y1="164" x2="609.33" y2="167" stroke="#1e1e1e" stroke-width="1.2"/>
<line x1="637.95" y1="164" x2="637.95" y2="167" stroke="#1e1e1e" stroke-width="1.2"/>
<line x1="658.25" y1="164" x2="658.25" y2="167" stroke="#1e1e1e" stroke-width="1.2"/>
<line x1="674" y1="164" x2="674" y2="167" stroke="#1e1e1e" stroke-width="1.2"/>
<line x1="518.23" y1="164" x2="518.23" y2="165.6" stroke="#1e1e1e" stroke-width="0.8"/>
<line x1="524.37" y1="164" x2="524.37" y2="165.6" stroke="#1e1e1e" stroke-width="0.8"/>
<line x1="530.02" y1="164" x2="530.02" y2="165.6" stroke="#1e1e1e" stroke-width="0.8"/>
<line x1="535.25" y1="164" x2="535.25" y2="165.6" stroke="#1e1e1e" stroke-width="0.8"/>
<line x1="540.11" y1="164" x2="540.11" y2="165.6" stroke="#1e1e1e" stroke-width="0.8"/>
<line x1="544.67" y1="164" x2="544.67" y2="165.6" stroke="#1e1e1e" stroke-width="0.8"/>
<line x1="548.95" y1="164" x2="548.95" y2="165.6" stroke="#1e1e1e" stroke-width="0.8"/>
<line x1="552.98" y1="164" x2="552.98" y2="165.6" stroke="#1e1e1e" stroke-width="0.8"/>
<line x1="556.8" y1="164" x2="556.8" y2="165.6" stroke="#1e1e1e" stroke-width="0.8"/>
<line x1="563.86" y1="164" x2="563.86" y2="165.6" stroke="#1e1e1e" stroke-width="0.8"/>
<line x1="567.14" y1="164" x2="567.14" y2="165.6" stroke="#1e1e1e" stroke-width="0.8"/>
<line x1="570.28" y1="164" x2="570.28" y2="165.6" stroke="#1e1e1e" stroke-width="0.8"/>
<line x1="573.28" y1="164" x2="573.28" y2="165.6" stroke="#1e1e1e" stroke-width="0.8"/>
<line x1="576.17" y1="164" x2="576.17" y2="165.6" stroke="#1e1e1e" stroke-width="0.8"/>
<line x1="578.93" y1="164" x2="578.93" y2="165.6" stroke="#1e1e1e" stroke-width="0.8"/>
<line x1="581.6" y1="164" x2="581.6" y2="165.6" stroke="#1e1e1e" stroke-width="0.8"/>
<line x1="584.16" y1="164" x2="584.16" y2="165.6" stroke="#1e1e1e" stroke-width="0.8"/>
<line x1="586.64" y1="164" x2="586.64" y2="165.6" stroke="#1e1e1e" stroke-width="0.8"/>
<line x1="589.03" y1="164" x2="589.03" y2="165.6" stroke="#1e1e1e" stroke-width="0.8"/>
<line x1="591.35" y1="164" x2="591.35" y2="165.6" stroke="#1e1e1e" stroke-width="0.8"/>
<line x1="593.59" y1="164" x2="593.59" y2="165.6" stroke="#1e1e1e" stroke-width="0.8"/>
<line x1="595.76" y1="164" x2="595.76" y2="165.6" stroke="#1e1e1e" stroke-width="0.8"/>
<line x1="597.87" y1="164" x2="597.87" y2="165.6" stroke="#1e1e1e" stroke-width="0.8"/>
<line x1="599.91" y1="164" x2="599.91" y2="165.6" stroke="#1e1e1e" stroke-width="0.8"/>
<line x1="601.9" y1="164" x2="601.9" y2="165.6" stroke="#1e1e1e" stroke-width="0.8"/>
<line x1="603.83" y1="164" x2="603.83" y2="165.6" stroke="#1e1e1e" stroke-width="0.8"/>
<line x1="605.71" y1="164" x2="605.71" y2="165.6" stroke="#1e1e1e" stroke-width="0.8"/>
<line x1="607.55" y1="164" x2="607.55" y2="165.6" stroke="#1e1e1e" stroke-width="0.8"/>
<line x1="611.08" y1="164" x2="611.08" y2="165.6" stroke="#1e1e1e" stroke-width="0.8"/>
<line x1="612.78" y1="164" x2="612.78" y2="165.6" stroke="#1e1e1e" stroke-width="0.8"/>
<line x1="614.44" y1="164" x2="614.44" y2="165.6" stroke="#1e1e1e" stroke-width="0.8"/>
<line x1="616.06" y1="164" x2="616.06" y2="165.6" stroke="#1e1e1e" stroke-width="0.8"/>
<line x1="617.65" y1="164" x2="617.65" y2="165.6" stroke="#1e1e1e" stroke-width="0.8"/>
<line x1="619.2" y1="164" x2="619.2" y2="165.6" stroke="#1e1e1e" stroke-width="0.8"/>
<line x1="620.72" y1="164" x2="620.72" y2="165.6" stroke="#1e1e1e" stroke-width="0.8"/>
<line x1="622.2" y1="164" x2="622.2" y2="165.6" stroke="#1e1e1e" stroke-width="0.8"/>
<line x1="623.66" y1="164" x2="623.66" y2="165.6" stroke="#1e1e1e" stroke-width="0.8"/>
<line x1="625.08" y1="164" x2="625.08" y2="165.6" stroke="#1e1e1e" stroke-width="0.8"/>
<line x1="626.48" y1="164" x2="626.48" y2="165.6" stroke="#1e1e1e" stroke-width="0.8"/>
<line x1="627.85" y1="164" x2="627.85" y2="165.6" stroke="#1e1e1e" stroke-width="0.8"/>
<line x1="629.19" y1="164" x2="629.19" y2="165.6" stroke="#1e1e1e" stroke-width="0.8"/>
<line x1="630.51" y1="164" x2="630.51" y2="165.6" stroke="#1e1e1e" stroke-width="0.8"/>
<line x1="631.81" y1="164" x2="631.81" y2="165.6" stroke="#1e1e1e" stroke-width="0.8"/>
<line x1="633.08" y1="164" x2="633.08" y2="165.6" stroke="#1e1e1e" stroke-width="0.8"/>
<line x1="634.33" y1="164" x2="634.33" y2="165.6" stroke="#1e1e1e" stroke-width="0.8"/>
<line x1="635.56" y1="164" x2="635.56" y2="165.6" stroke="#1e1e1e" stroke-width="0.8"/>
<line x1="636.76" y1="164" x2="636.76" y2="165.6" stroke="#1e1e1e" stroke-width="0.8"/>
<line x1="639.12" y1="164" x2="639.12" y2="165.6" stroke="#1e1e1e" stroke-width="0.8"/>
<line x1="640.26" y1="164" x2="640.26" y2="165.6" stroke="#1e1e1e" stroke-width="0.8"/>
<line x1="641.39" y1="164" x2="641.39" y2="165.6" stroke="#1e1e1e" stroke-width="0.8"/>
<line x1="642.5" y1="164" x2="642.5" y2="165.6" stroke="#1e1e1e" stroke-width="0.8"/>
<line x1="643.6" y1="164" x2="643.6" y2="165.6" stroke="#1e1e1e" stroke-width="0.8"/>
<line x1="644.68" y1="164" x2="644.68" y2="165.6" stroke="#1e1e1e" stroke-width="0.8"/>
<line x1="645.74" y1="164" x2="645.74" y2="165.6" stroke="#1e1e1e" stroke-width="0.8"/>
<line x1="646.78" y1="164" x2="646.78" y2="165.6" stroke="#1e1e1e" stroke-width="0.8"/>
<line x1="647.81" y1="164" x2="647.81" y2="165.6" stroke="#1e1e1e" stroke-width="0.8"/>
<line x1="648.83" y1="164" x2="648.83" y2="165.6" stroke="#1e1e1e" stroke-width="0.8"/>
<line x1="649.83" y1="164" x2="649.83" y2="165.6" stroke="#1e1e1e" stroke-width="0.8"/>
<line x1="650.82" y1="164" x2="650.82" y2="165.6" stroke="#1e1e1e" stroke-width="0.8"/>
<line x1="651.79" y1="164" x2="651.79" y2="165.6" stroke="#1e1e1e" stroke-width="0.8"/>
<line x1="652.75" y1="164" x2="652.75" y2="165.6" stroke="#1e1e1e" stroke-width="0.8"/>
<line x1="653.7" y1="164" x2="653.7" y2="165.6" stroke="#1e1e1e" stroke-width="0.8"/>
<line x1="654.63" y1="164" x2="654.63" y2="165.6" stroke="#1e1e1e" stroke-width="0.8"/>
<line x1="655.55" y1="164" x2="655.55" y2="165.6" stroke="#1e1e1e" stroke-width="0.8"/>
<line x1="656.47" y1="164" x2="656.47" y2="165.6" stroke="#1e1e1e" stroke-width="0.8"/>
<line x1="657.36" y1="164" x2="657.36" y2="165.6" stroke="#1e1e1e" stroke-width="0.8"/>
<line x1="659.13" y1="164" x2="659.13" y2="165.6" stroke="#1e1e1e" stroke-width="0.8"/>
<line x1="659.99" y1="164" x2="659.99" y2="165.6" stroke="#1e1e1e" stroke-width="0.8"/>
<line x1="660.85" y1="164" x2="660.85" y2="165.6" stroke="#1e1e1e" stroke-width="0.8"/>
<line x1="661.7" y1="164" x2="661.7" y2="165.6" stroke="#1e1e1e" stroke-width="0.8"/>
<line x1="662.53" y1="164" x2="662.53" y2="165.6" stroke="#1e1e1e" stroke-width="0.8"/>
<line x1="663.36" y1="164" x2="663.36" y2="165.6" stroke="#1e1e1e" stroke-width="0.8"/>
<line x1="664.17" y1="164" x2="664.17" y2="165.6" stroke="#1e1e1e" stroke-width="0.8"/>
<line x1="664.98" y1="164" x2="664.98" y2="165.6" stroke="#1e1e1e" stroke-width="0.8"/>
<line x1="665.78" y1="164" x2="665.78" y2="165.6" stroke="#1e1e1e" stroke-width="0.8"/>
<line x1="666.56" y1="164" x2="666.56" y2="165.6" stroke="#1e1e1e" stroke-width="0.8"/>
<line x1="667.34" y1="164" x2="667.34" y2="165.6" stroke="#1e1e1e" stroke-width="0.8"/>
<line x1="668.12" y1="164" x2="668.12" y2="165.6" stroke="#1e1e1e" stroke-width="0.8"/>
<line x1="668.88" y1="164" x2="668.88" y2="165.6" stroke="#1e1e1e" stroke-width="0.8"/>
<line x1="669.63" y1="164" x2="669.63" y2="165.6" stroke="#1e1e1e" stroke-width="0.8"/>
<line x1="670.38" y1="164" x2="670.38" y2="165.6" stroke="#1e1e1e" stroke-width="0.8"/>
<line x1="671.12" y1="164" x2="671.12" y2="165.6" stroke="#1e1e1e" stroke-width="0.8"/>
<line x1="671.85" y1="164" x2="671.85" y2="165.6" stroke="#1e1e1e" stroke-width="0.8"/>
<line x1="672.57" y1="164" x2="672.57" y2="165.6" stroke="#1e1e1e" stroke-width="0.8"/>
<line x1="673.29" y1="164" x2="673.29" y2="165.6" stroke="#1e1e1e" stroke-width="0.8"/>
<text x="499" y="167.7" font-size="11.2" text-anchor="end" fill="#0a0a0a" font-weight="bold" stroke="#0a0a0a" stroke-width="0.2">1.08</text>
<text x="499" y="140.1" font-size="11.2" text-anchor="end" fill="#0a0a0a" font-weight="bold" stroke="#0a0a0a" stroke-width="0.2">1.12</text>
<text x="499" y="112.5" font-size="11.2" text-anchor="end" fill="#0a0a0a" font-weight="bold" stroke="#0a0a0a" stroke-width="0.2">1.16</text>
<text x="499" y="84.9" font-size="11.2" text-anchor="end" fill="#0a0a0a" font-weight="bold" stroke="#0a0a0a" stroke-width="0.2">1.20</text>
<text x="499" y="57.3" font-size="11.2" text-anchor="end" fill="#0a0a0a" font-weight="bold" stroke="#0a0a0a" stroke-width="0.2">1.24</text>
<text x="499" y="29.7" font-size="11.2" text-anchor="end" fill="#0a0a0a" font-weight="bold" stroke="#0a0a0a" stroke-width="0.2">1.28</text>
<text x="512.3" y="176.8" font-size="10.4" text-anchor="middle" fill="#0a0a0a" font-weight="bold" stroke="#0a0a0a" stroke-width="0.2">10</text>
<text x="561.22" y="176.8" font-size="10.4" text-anchor="middle" fill="#0a0a0a" font-weight="bold" stroke="#0a0a0a" stroke-width="0.2">20</text>
<text x="610.13" y="176.8" font-size="10.4" text-anchor="middle" fill="#0a0a0a" font-weight="bold" stroke="#0a0a0a" stroke-width="0.2">40</text>
<text x="638.75" y="176.8" font-size="10.4" text-anchor="middle" fill="#0a0a0a" font-weight="bold" stroke="#0a0a0a" stroke-width="0.2">60</text>
<text x="659.05" y="176.8" font-size="10.4" text-anchor="middle" fill="#0a0a0a" font-weight="bold" stroke="#0a0a0a" stroke-width="0.2">80</text>
<text x="676.5" y="176.8" font-size="10.4" text-anchor="middle" fill="#0a0a0a" font-weight="bold" stroke="#0a0a0a" stroke-width="0.2">100</text>
<text x="592.3" y="195" font-size="12.2" text-anchor="middle" fill="#231815" font-weight="bold" stroke="#231815" stroke-width="0.2">Light Intensity (mW cm<tspan dy="-4" font-size="7">-2</tspan><tspan dy="4">)</tspan></text>
<text x="472.2" y="95.5" font-size="12" text-anchor="middle" fill="#231815" font-weight="bold" transform="rotate(-90 472.2 95.5)" stroke="#231815" stroke-width="0.2"><tspan font-style="italic">V</tspan><tspan dy="3" font-size="8">oc</tspan><tspan dy="-3"> (V)</tspan></text>
<circle cx="513" cy="28" r="2.4" fill="#7c98c7"/>
<text x="520" y="31.6" font-size="10.9" text-anchor="start" fill="#000" font-weight="bold" stroke="#000" stroke-width="0.2">Control</text>
<circle cx="513" cy="41" r="2.4" fill="#ee9a4d"/>
<text x="520" y="44.6" font-size="10.9" text-anchor="start" fill="#000" font-weight="bold" stroke="#000" stroke-width="0.2">AD</text>
<circle cx="513" cy="54" r="2.4" fill="#c5173f"/>
<text x="520" y="57.6" font-size="10.9" text-anchor="start" fill="#000" font-weight="bold" stroke="#000" stroke-width="0.2">OPD</text>
<text x="513" y="80.2" font-size="10" text-anchor="start" fill="#c5173f" font-weight="bold" stroke="#c5173f" stroke-width="0.2">1.53 <tspan font-style="italic">kT/q</tspan></text>
<text x="513" y="107.6" font-size="10" text-anchor="start" fill="#ee9a4d" font-weight="bold" stroke="#ee9a4d" stroke-width="0.2">1.80 <tspan font-style="italic">kT/q</tspan></text>
<text x="605.8" y="107.6" font-size="10" text-anchor="start" fill="#7c98c7" font-weight="bold" stroke="#7c98c7" stroke-width="0.2">1.98 <tspan font-style="italic">kT/q</tspan></text>
<text x="5.8" y="214.3" font-size="17" text-anchor="start" fill="#231815" font-weight="bold" stroke="#231815" stroke-width="0.2">d</text>
<defs><radialGradient id="ph" cx="0.5" cy="0.52" r="0.62"><stop offset="0" stop-color="#d04a7e"/><stop offset="0.5" stop-color="#bd2f66"/><stop offset="0.8" stop-color="#9e1f55"/><stop offset="1" stop-color="#7f1a47"/></radialGradient><filter id="glow" x="-30%" y="-30%" width="160%" height="160%"><feGaussianBlur stdDeviation="0.6"/></filter></defs>
<rect x="58" y="283" width="40.4" height="65" fill="url(#ph)"/>
<filter id="grain" x="0" y="0" width="100%" height="100%"><feTurbulence type="fractalNoise" baseFrequency="0.9" numOctaves="2" seed="3" result="n"/><feColorMatrix in="n" type="matrix" values="0 0 0 0 0.55  0 0 0 0 0.05  0 0 0 0 0.25  0 0 0 1.4 -0.55"/><feComposite in2="SourceGraphic" operator="in"/></filter>
<rect x="58" y="283" width="40.4" height="65" fill="#000" filter="url(#grain)" opacity="0.55"/>
<path d="M67 292.5 H89 Q91 292.5 91 294.5 V316 Q91 318 89 318 H82 V338 Q82 340.3 79.5 340.3 H75 Q72.4 340.3 72.4 338 V318 H67 Q65 318 65 316 V294.5 Q65 292.5 67 292.5 Z" fill="#e27aa6" filter="url(#glow)"/>
<path d="M67 292.5 H89 Q91 292.5 91 294.5 V316 Q91 318 89 318 H82 V338 Q82 340.3 79.5 340.3 H75 Q72.4 340.3 72.4 338 V318 H67 Q65 318 65 316 V294.5 Q65 292.5 67 292.5 Z" fill="#f9f7f8" transform="translate(78 316) scale(0.975) translate(-78 -316)"/>
<line x1="196.6" y1="222" x2="196.6" y2="367" stroke="#c5173f" stroke-width="1.2" stroke-dasharray="4 2"/>
<clipPath id="cd"><rect x="32" y="221.4" width="178.6" height="146"/></clipPath>
<g clip-path="url(#cd)">
<path d="M120.27 367.01 L141.5 366.52 L165.04 365.64 L177.94 364.96 L188.03 363.6 L194.58 360.97 L201.41 356.59 L209.61 345 L210.58 342.95" fill="none" stroke="#7c98c7" stroke-width="1" stroke-linejoin="round" stroke-linecap="round"/>
<path d="M120.27 366.91 L141.5 366.13 L159.65 363.99 L174.5 362.04 L185.61 356.98 L195.01 344.02 L206.98 322.4 L210.58 316.65" fill="none" stroke="#ee9a4d" stroke-width="1" stroke-linejoin="round" stroke-linecap="round"/>
<path d="M120.27 366.81 L136.89 365.64 L154.58 359.02 L169.52 349.38 L180.63 333.99 L189.6 314.41 L196.63 291.04 L199.61 257.43 L201.76 221.2" fill="none" stroke="#c5173f" stroke-width="1" stroke-linejoin="round" stroke-linecap="round"/>
<circle cx="34" cy="366.6" r="2.1" fill="#7c98c7"/>
<circle cx="38.5" cy="366.6" r="2.1" fill="#c5173f"/>
<circle cx="43" cy="366.6" r="2.1" fill="#7c98c7"/>
<circle cx="47" cy="366.6" r="2.1" fill="#7c98c7"/>
<circle cx="50.8" cy="366.6" r="2.1" fill="#7c98c7"/>
<circle cx="54" cy="366.6" r="2.1" fill="#c5173f"/>
<circle cx="57" cy="366.6" r="2.1" fill="#ee9a4d"/>
<circle cx="63" cy="366.6" r="2.1" fill="#7c98c7"/>
<circle cx="68.3" cy="366.6" r="2.1" fill="#c5173f"/>
<circle cx="71.8" cy="366.6" r="2.1" fill="#ee9a4d"/>
<circle cx="79.7" cy="366.6" r="2.1" fill="#7c98c7"/>
<circle cx="84" cy="366.6" r="2.1" fill="#c5173f"/>
<circle cx="87.5" cy="366.6" r="2.1" fill="#ee9a4d"/>
<circle cx="99.8" cy="366.6" r="2.1" fill="#c5173f"/>
<circle cx="104.2" cy="366.6" r="2.1" fill="#ee9a4d"/>
<circle cx="117.3" cy="366.6" r="2.1" fill="#c5173f"/>
<circle cx="122.6" cy="366.6" r="2.1" fill="#ee9a4d"/>
<circle cx="132.2" cy="366.6" r="2.1" fill="#7c98c7"/>
<circle cx="165.04" cy="365.64" r="2.2" fill="#7c98c7"/>
<circle cx="177.94" cy="364.96" r="2.2" fill="#7c98c7"/>
<circle cx="188.03" cy="363.6" r="2.2" fill="#7c98c7"/>
<circle cx="194.58" cy="360.97" r="2.2" fill="#7c98c7"/>
<circle cx="201.41" cy="356.59" r="2.2" fill="#7c98c7"/>
<circle cx="209.61" cy="345" r="2.2" fill="#7c98c7"/>
<circle cx="159.65" cy="363.99" r="2.2" fill="#ee9a4d"/>
<circle cx="174.5" cy="362.04" r="2.2" fill="#ee9a4d"/>
<circle cx="185.61" cy="356.98" r="2.2" fill="#ee9a4d"/>
<circle cx="195.01" cy="344.02" r="2.2" fill="#ee9a4d"/>
<circle cx="206.98" cy="322.4" r="2.2" fill="#ee9a4d"/>
<circle cx="136.89" cy="365.64" r="2.2" fill="#c5173f"/>
<circle cx="154.58" cy="359.02" r="2.2" fill="#c5173f"/>
<circle cx="169.52" cy="349.38" r="2.2" fill="#c5173f"/>
<circle cx="180.63" cy="333.99" r="2.2" fill="#c5173f"/>
<circle cx="189.6" cy="314.41" r="2.2" fill="#c5173f"/>
<circle cx="196.63" cy="291.04" r="2.2" fill="#c5173f"/>
<circle cx="199.61" cy="257.43" r="2.2" fill="#c5173f"/>
</g>
<rect x="32" y="221.4" width="178.6" height="145.9" fill="none" stroke="#1e1e1e" stroke-width="1.4"/>
<line x1="29" y1="367.3" x2="32" y2="367.3" stroke="#1e1e1e" stroke-width="1.2"/>
<line x1="29" y1="318.6" x2="32" y2="318.6" stroke="#1e1e1e" stroke-width="1.2"/>
<line x1="29" y1="269.9" x2="32" y2="269.9" stroke="#1e1e1e" stroke-width="1.2"/>
<line x1="29" y1="221.2" x2="32" y2="221.2" stroke="#1e1e1e" stroke-width="1.2"/>
<line x1="30.2" y1="342.95" x2="32" y2="342.95" stroke="#1e1e1e" stroke-width="1.2"/>
<line x1="30.2" y1="294.25" x2="32" y2="294.25" stroke="#1e1e1e" stroke-width="1.2"/>
<line x1="30.2" y1="245.55" x2="32" y2="245.55" stroke="#1e1e1e" stroke-width="1.2"/>
<line x1="60.3" y1="367.3" x2="60.3" y2="369.8" stroke="#1e1e1e" stroke-width="1.2"/>
<line x1="100.9" y1="367.3" x2="100.9" y2="369.8" stroke="#1e1e1e" stroke-width="1.2"/>
<line x1="141.5" y1="367.3" x2="141.5" y2="369.8" stroke="#1e1e1e" stroke-width="1.2"/>
<line x1="182.1" y1="367.3" x2="182.1" y2="369.8" stroke="#1e1e1e" stroke-width="1.2"/>
<line x1="39.07" y1="367.3" x2="39.07" y2="368.6" stroke="#1e1e1e" stroke-width="1.2"/>
<line x1="44.14" y1="367.3" x2="44.14" y2="368.6" stroke="#1e1e1e" stroke-width="1.2"/>
<line x1="48.08" y1="367.3" x2="48.08" y2="368.6" stroke="#1e1e1e" stroke-width="1.2"/>
<line x1="51.29" y1="367.3" x2="51.29" y2="368.6" stroke="#1e1e1e" stroke-width="1.2"/>
<line x1="54.01" y1="367.3" x2="54.01" y2="368.6" stroke="#1e1e1e" stroke-width="1.2"/>
<line x1="56.37" y1="367.3" x2="56.37" y2="368.6" stroke="#1e1e1e" stroke-width="1.2"/>
<line x1="58.44" y1="367.3" x2="58.44" y2="368.6" stroke="#1e1e1e" stroke-width="1.2"/>
<line x1="72.52" y1="367.3" x2="72.52" y2="368.6" stroke="#1e1e1e" stroke-width="1.2"/>
<line x1="79.67" y1="367.3" x2="79.67" y2="368.6" stroke="#1e1e1e" stroke-width="1.2"/>
<line x1="84.74" y1="367.3" x2="84.74" y2="368.6" stroke="#1e1e1e" stroke-width="1.2"/>
<line x1="88.68" y1="367.3" x2="88.68" y2="368.6" stroke="#1e1e1e" stroke-width="1.2"/>
<line x1="91.89" y1="367.3" x2="91.89" y2="368.6" stroke="#1e1e1e" stroke-width="1.2"/>
<line x1="94.61" y1="367.3" x2="94.61" y2="368.6" stroke="#1e1e1e" stroke-width="1.2"/>
<line x1="96.97" y1="367.3" x2="96.97" y2="368.6" stroke="#1e1e1e" stroke-width="1.2"/>
<line x1="99.04" y1="367.3" x2="99.04" y2="368.6" stroke="#1e1e1e" stroke-width="1.2"/>
<line x1="113.12" y1="367.3" x2="113.12" y2="368.6" stroke="#1e1e1e" stroke-width="1.2"/>
<line x1="120.27" y1="367.3" x2="120.27" y2="368.6" stroke="#1e1e1e" stroke-width="1.2"/>
<line x1="125.34" y1="367.3" x2="125.34" y2="368.6" stroke="#1e1e1e" stroke-width="1.2"/>
<line x1="129.28" y1="367.3" x2="129.28" y2="368.6" stroke="#1e1e1e" stroke-width="1.2"/>
<line x1="132.49" y1="367.3" x2="132.49" y2="368.6" stroke="#1e1e1e" stroke-width="1.2"/>
<line x1="135.21" y1="367.3" x2="135.21" y2="368.6" stroke="#1e1e1e" stroke-width="1.2"/>
<line x1="137.57" y1="367.3" x2="137.57" y2="368.6" stroke="#1e1e1e" stroke-width="1.2"/>
<line x1="139.64" y1="367.3" x2="139.64" y2="368.6" stroke="#1e1e1e" stroke-width="1.2"/>
<line x1="153.72" y1="367.3" x2="153.72" y2="368.6" stroke="#1e1e1e" stroke-width="1.2"/>
<line x1="160.87" y1="367.3" x2="160.87" y2="368.6" stroke="#1e1e1e" stroke-width="1.2"/>
<line x1="165.94" y1="367.3" x2="165.94" y2="368.6" stroke="#1e1e1e" stroke-width="1.2"/>
<line x1="169.88" y1="367.3" x2="169.88" y2="368.6" stroke="#1e1e1e" stroke-width="1.2"/>
<line x1="173.09" y1="367.3" x2="173.09" y2="368.6" stroke="#1e1e1e" stroke-width="1.2"/>
<line x1="175.81" y1="367.3" x2="175.81" y2="368.6" stroke="#1e1e1e" stroke-width="1.2"/>
<line x1="178.17" y1="367.3" x2="178.17" y2="368.6" stroke="#1e1e1e" stroke-width="1.2"/>
<line x1="180.24" y1="367.3" x2="180.24" y2="368.6" stroke="#1e1e1e" stroke-width="1.2"/>
<line x1="194.32" y1="367.3" x2="194.32" y2="368.6" stroke="#1e1e1e" stroke-width="1.2"/>
<line x1="201.47" y1="367.3" x2="201.47" y2="368.6" stroke="#1e1e1e" stroke-width="1.2"/>
<line x1="206.54" y1="367.3" x2="206.54" y2="368.6" stroke="#1e1e1e" stroke-width="1.2"/>
<line x1="210.48" y1="367.3" x2="210.48" y2="368.6" stroke="#1e1e1e" stroke-width="1.2"/>
<text x="27.6" y="371" font-size="11.2" text-anchor="end" fill="#0a0a0a" font-weight="bold" stroke="#0a0a0a" stroke-width="0.2">0.0</text>
<text x="27.6" y="322.3" font-size="11.2" text-anchor="end" fill="#0a0a0a" font-weight="bold" stroke="#0a0a0a" stroke-width="0.2">0.5</text>
<text x="27.6" y="273.6" font-size="11.2" text-anchor="end" fill="#0a0a0a" font-weight="bold" stroke="#0a0a0a" stroke-width="0.2">1.0</text>
<text x="27.6" y="224.9" font-size="11.2" text-anchor="end" fill="#0a0a0a" font-weight="bold" stroke="#0a0a0a" stroke-width="0.2">1.5</text>
<text x="60.1" y="379.5" font-size="11.2" text-anchor="middle" fill="#0a0a0a" font-weight="bold" stroke="#0a0a0a" stroke-width="0.2">0.01</text>
<text x="100.7" y="379.5" font-size="11.2" text-anchor="middle" fill="#0a0a0a" font-weight="bold" stroke="#0a0a0a" stroke-width="0.2">0.1</text>
<text x="141.3" y="379.5" font-size="11.2" text-anchor="middle" fill="#0a0a0a" font-weight="bold" stroke="#0a0a0a" stroke-width="0.2">1</text>
<text x="181.9" y="379.5" font-size="11.2" text-anchor="middle" fill="#0a0a0a" font-weight="bold" stroke="#0a0a0a" stroke-width="0.2">10</text>
<text x="118.6" y="392.2" font-size="12.1" text-anchor="middle" fill="#231815" font-weight="bold" stroke="#231815" stroke-width="0.2">Current Density (mA cm<tspan dy="-4" font-size="7">-2</tspan><tspan dy="4">)</tspan></text>
<text x="7.6" y="291.6" font-size="10.8" text-anchor="middle" fill="#231815" font-weight="bold" transform="rotate(-90 7.6 291.6)" stroke="#231815" stroke-width="0.2"><tspan font-style="italic">EQE</tspan><tspan dy="3" font-size="7.3">EL</tspan><tspan dy="-3"> (%)</tspan></text>
<line x1="39.4" y1="234.6" x2="50.2" y2="234.6" stroke="#7c98c7" stroke-width="1"/>
<circle cx="44.8" cy="234.6" r="1.5" fill="#7c98c7"/>
<text x="53.6" y="238.1" font-size="12.1" text-anchor="start" fill="#000" font-weight="bold" stroke="#000" stroke-width="0.2">Control</text>
<text x="103.4" y="238.1" font-size="11.8" text-anchor="start" fill="#231815" font-weight="bold" stroke="#231815" stroke-width="0.2"><tspan font-style="italic">EQE</tspan><tspan dy="3.2" font-size="7.8">EL</tspan><tspan dy="-3.2"> = 0.06%</tspan></text>
<line x1="39.4" y1="250.2" x2="50.2" y2="250.2" stroke="#ee9a4d" stroke-width="1"/>
<circle cx="44.8" cy="250.2" r="1.5" fill="#ee9a4d"/>
<text x="53.6" y="253.7" font-size="12.1" text-anchor="start" fill="#000" font-weight="bold" stroke="#000" stroke-width="0.2">AD</text>
<text x="103.4" y="253.7" font-size="11.8" text-anchor="start" fill="#231815" font-weight="bold" stroke="#231815" stroke-width="0.2"><tspan font-style="italic">EQE</tspan><tspan dy="3.2" font-size="7.8">EL</tspan><tspan dy="-3.2"> = 0.24%</tspan></text>
<line x1="39.4" y1="265.8" x2="50.2" y2="265.8" stroke="#c5173f" stroke-width="1"/>
<circle cx="44.8" cy="265.8" r="1.5" fill="#c5173f"/>
<text x="53.6" y="269.3" font-size="12.1" text-anchor="start" fill="#000" font-weight="bold" stroke="#000" stroke-width="0.2">OPD</text>
<text x="103.4" y="269.3" font-size="11.8" text-anchor="start" fill="#231815" font-weight="bold" stroke="#231815" stroke-width="0.2"><tspan font-style="italic">EQE</tspan><tspan dy="3.2" font-size="7.8">EL</tspan><tspan dy="-3.2"> = 0.78%</tspan></text>
<text x="223.6" y="214.3" font-size="17" text-anchor="start" fill="#231815" font-weight="bold" stroke="#231815" stroke-width="0.2">e</text>
<clipPath id="ce"><rect x="266.7" y="221" width="177.3" height="146.2"/></clipPath>
<g clip-path="url(#ce)">
<path d="M259.88 237.58 L260.48 237.61 L261.08 237.64 L261.68 237.67 L262.28 237.7 L262.88 237.73 L263.48 237.76 L264.08 237.78 L264.68 237.81 L265.27 237.84 L265.87 237.87 L266.47 237.9 L267.07 237.93 L267.67 237.96 L268.27 237.99 L268.87 238.02 L269.47 238.04 L270.07 238.07 L270.67 238.1 L271.27 238.13 L271.87 238.16 L272.47 238.19 L273.07 238.22 L273.67 238.25 L274.27 238.28 L274.86 238.31 L275.46 238.33 L276.06 238.36 L276.66 238.39 L277.26 238.42 L277.86 238.45 L278.46 238.48 L279.06 238.51 L279.66 238.54 L280.26 238.57 L280.86 238.6 L281.46 238.62 L282.06 238.65 L282.66 238.68 L283.26 238.71 L283.86 238.74 L284.45 238.77 L285.05 238.8 L285.65 238.83 L286.25 238.86 L286.85 238.88 L287.45 238.91 L288.05 238.94 L288.65 238.97 L289.25 239 L289.85 239.03 L290.45 239.06 L291.05 239.09 L291.65 239.12 L292.25 239.15 L292.85 239.17 L293.45 239.2 L294.05 239.23 L294.64 239.26 L295.24 239.29 L295.84 239.32 L296.44 239.35 L297.04 239.38 L297.64 239.41 L298.24 239.44 L298.84 239.46 L299.44 239.49 L300.04 239.52 L300.64 239.55 L301.24 239.58 L301.84 239.61 L302.44 239.64 L303.04 239.67 L303.64 239.7 L304.23 239.72 L304.83 239.75 L305.43 239.78 L306.03 239.81 L306.63 239.84 L307.23 239.87 L307.83 239.9 L308.43 239.93 L309.03 239.96 L309.63 239.99 L310.23 240.01 L310.83 240.04 L311.43 240.07 L312.03 240.1 L312.63 240.13 L313.23 240.16 L313.82 240.19 L314.42 240.22 L315.02 240.25 L315.62 240.28 L316.22 240.3 L316.82 240.33 L317.42 240.36 L318.02 240.39 L318.62 240.42 L319.22 240.45 L319.82 240.48 L320.42 240.51 L321.02 240.54 L321.62 240.57 L322.22 240.59 L322.82 240.62 L323.42 240.65 L324.01 240.68 L324.61 240.71 L325.21 240.74 L325.81 240.77 L326.41 240.8 L327.01 240.83 L327.61 240.85 L328.21 240.88 L328.81 240.91 L329.41 240.94 L330.01 240.97 L330.61 241 L331.21 241.03 L331.81 241.06 L332.41 241.09 L333.01 241.12 L333.6 241.14 L334.2 241.17 L334.8 241.2 L335.4 241.23 L336 241.26 L336.6 241.29 L337.2 241.32 L337.8 241.35 L338.4 241.38 L339 241.41 L339.6 241.43 L340.2 241.46 L340.8 241.49 L341.4 241.52 L342 241.55 L342.6 241.58 L343.19 241.61 L343.79 241.64 L344.39 241.67 L344.99 241.69 L345.59 241.72 L346.19 241.75 L346.79 241.78 L347.39 241.81 L347.99 241.84 L348.59 241.87 L349.19 241.9 L349.79 241.93 L350.39 241.96 L350.99 241.98 L351.59 242.01 L352.19 242.04 L352.78 242.07 L353.38 242.1 L353.98 242.13 L354.58 242.16 L355.18 242.19 L355.78 242.22 L356.38 242.25 L356.98 242.27 L357.58 242.3 L358.18 242.33 L358.78 242.36 L359.38 242.39 L359.98 242.42 L360.58 242.45 L361.18 242.48 L361.78 242.51 L362.38 242.54 L362.97 242.56 L363.57 242.59 L364.17 242.62 L364.77 242.65 L365.37 242.68 L365.97 242.71 L366.57 242.74 L367.17 242.77 L367.77 242.8 L368.37 242.83 L368.97 242.86 L369.57 242.89 L370.17 242.91 L370.77 242.94 L371.37 242.97 L371.97 243 L372.56 243.03 L373.16 243.06 L373.76 243.09 L374.36 243.12 L374.96 243.15 L375.56 243.18 L376.16 243.21 L376.76 243.24 L377.36 243.27 L377.96 243.3 L378.56 243.33 L379.16 243.36 L379.76 243.39 L380.36 243.42 L380.96 243.45 L381.56 243.48 L382.15 243.51 L382.75 243.54 L383.35 243.57 L383.95 243.6 L384.55 243.64 L385.15 243.67 L385.75 243.7 L386.35 243.73 L386.95 243.76 L387.55 243.8 L388.15 243.83 L388.75 243.87 L389.35 243.9 L389.95 243.94 L390.55 243.97 L391.15 244.01 L391.75 244.05 L392.34 244.09 L392.94 244.13 L393.54 244.17 L394.14 244.21 L394.74 244.25 L395.34 244.29 L395.94 244.34 L396.54 244.39 L397.14 244.44 L397.74 244.49 L398.34 244.55 L398.94 244.6 L399.54 244.66 L400.14 244.73 L400.74 244.79 L401.34 244.86 L401.93 244.94 L402.53 245.02 L403.13 245.1 L403.73 245.19 L404.33 245.29 L404.93 245.39 L405.53 245.5 L406.13 245.62 L406.73 245.75 L407.33 245.89 L407.93 246.04 L408.53 246.21 L409.13 246.39 L409.73 246.58 L410.3 246.78 L410.87 246.99 L411.44 247.23 L412 247.48 L412.57 247.76 L413.11 248.04 L413.65 248.35 L414.19 248.68 L414.7 249.02 L415.21 249.39 L415.69 249.77 L416.17 250.17 L416.62 250.58 L417.07 251.01 L417.49 251.45 L417.91 251.91 L418.3 252.37 L418.69 252.86 L419.08 253.38 L419.44 253.89 L419.8 254.43 L420.13 254.95 L420.46 255.5 L420.76 256.02 L421.06 256.57 L421.35 257.15 L421.62 257.69 L421.89 258.26 L422.16 258.85 L422.43 259.47 L422.67 260.05 L422.91 260.64 L423.15 261.26 L423.39 261.9 L423.6 262.49 L423.81 263.09 L424.02 263.72 L424.23 264.36 L424.44 265.03 L424.62 265.62 L424.8 266.23 L424.98 266.85 L425.16 267.5 L425.34 268.16 L425.52 268.85 L425.67 269.43 L425.82 270.03 L425.97 270.64 L426.12 271.27 L426.27 271.92 L426.42 272.58 L426.57 273.25 L426.72 273.95 L426.87 274.65 L427.02 275.38 L427.14 275.98 L427.26 276.58 L427.38 277.2 L427.5 277.83 L427.62 278.47 L427.74 279.13 L427.86 279.8 L427.98 280.48 L428.1 281.17 L428.22 281.88 L428.34 282.6 L428.46 283.34 L428.58 284.09 L428.7 284.86 L428.82 285.64 L428.91 286.23 L429 286.84 L429.09 287.45 L429.18 288.07 L429.27 288.71 L429.36 289.35 L429.45 290 L429.54 290.66 L429.63 291.33 L429.72 292 L429.81 292.69 L429.9 293.39 L429.99 294.1 L430.08 294.82 L430.17 295.55 L430.26 296.3 L430.35 297.05 L430.44 297.81 L430.53 298.59 L430.62 299.37 L430.71 300.17 L430.8 300.98 L430.89 301.8 L430.98 302.64 L431.06 303.48 L431.15 304.34 L431.24 305.21 L431.33 306.1 L431.42 306.99 L431.48 307.6 L431.54 308.21 L431.6 308.83 L431.66 309.45 L431.72 310.08 L431.78 310.72 L431.84 311.36 L431.9 312.01 L431.96 312.66 L432.02 313.32 L432.08 313.99 L432.14 314.66 L432.2 315.34 L432.26 316.03 L432.32 316.73 L432.38 317.43 L432.44 318.13 L432.5 318.85 L432.56 319.57 L432.62 320.3 L432.68 321.03 L432.74 321.78 L432.8 322.53 L432.86 323.29 L432.92 324.05 L432.98 324.82 L433.04 325.6 L433.1 326.39 L433.16 327.19 L433.22 327.99 L433.28 328.8 L433.34 329.62 L433.4 330.45 L433.46 331.29 L433.52 332.13 L433.58 332.98 L433.64 333.84 L433.7 334.71 L433.76 335.59 L433.82 336.48 L433.88 337.37 L433.94 338.27 L434 339.19 L434.06 340.11 L434.12 341.04 L434.18 341.98 L434.24 342.93 L434.3 343.89 L434.36 344.85 L434.42 345.83 L434.48 346.82 L434.54 347.81 L434.6 348.82 L434.66 349.84 L434.72 350.86 L434.78 351.9 L434.84 352.94 L434.9 354 L434.96 355.07 L435.02 356.15 L435.08 357.23 L435.14 358.33 L435.2 359.44 L435.26 360.56 L435.32 361.69 L435.38 362.84 L435.44 363.99 L435.5 365.16 L435.56 366.33 L435.62 367.52 L435.68 368.72 L435.71 369.33 L435.74 369.93 L435.77 370.54" fill="none" stroke="#7c98c7" stroke-width="1.3" stroke-linejoin="round" stroke-linecap="round"/>
<path d="M258.26 235.9 L258.86 235.92 L259.47 235.94 L260.07 235.96 L260.68 235.98 L261.28 236 L261.89 236.02 L262.49 236.04 L263.09 236.06 L263.7 236.08 L264.3 236.1 L264.91 236.12 L265.51 236.14 L266.12 236.16 L266.72 236.18 L267.32 236.2 L267.93 236.22 L268.53 236.24 L269.14 236.26 L269.74 236.28 L270.35 236.3 L270.95 236.32 L271.55 236.34 L272.16 236.36 L272.76 236.38 L273.37 236.4 L273.97 236.42 L274.58 236.44 L275.18 236.46 L275.78 236.48 L276.39 236.5 L276.99 236.52 L277.6 236.54 L278.2 236.56 L278.81 236.58 L279.41 236.6 L280.01 236.62 L280.62 236.64 L281.22 236.66 L281.83 236.68 L282.43 236.7 L283.04 236.72 L283.64 236.74 L284.24 236.76 L284.85 236.78 L285.45 236.8 L286.06 236.82 L286.66 236.84 L287.27 236.86 L287.87 236.88 L288.47 236.9 L289.08 236.92 L289.68 236.94 L290.29 236.96 L290.89 236.98 L291.5 237 L292.1 237.02 L292.7 237.04 L293.31 237.06 L293.91 237.08 L294.52 237.1 L295.12 237.12 L295.73 237.14 L296.33 237.16 L296.93 237.18 L297.54 237.2 L298.14 237.22 L298.75 237.24 L299.35 237.26 L299.95 237.28 L300.56 237.3 L301.16 237.32 L301.77 237.34 L302.37 237.36 L302.98 237.38 L303.58 237.4 L304.18 237.42 L304.79 237.44 L305.39 237.46 L306 237.48 L306.6 237.5 L307.21 237.52 L307.81 237.54 L308.41 237.56 L309.02 237.58 L309.62 237.6 L310.23 237.62 L310.83 237.64 L311.44 237.66 L312.04 237.68 L312.64 237.7 L313.25 237.72 L313.85 237.74 L314.46 237.76 L315.06 237.78 L315.67 237.8 L316.27 237.82 L316.87 237.84 L317.48 237.86 L318.08 237.88 L318.69 237.9 L319.29 237.92 L319.9 237.94 L320.5 237.96 L321.1 237.98 L321.71 238 L322.31 238.02 L322.92 238.04 L323.52 238.06 L324.13 238.08 L324.73 238.1 L325.33 238.12 L325.94 238.14 L326.54 238.16 L327.15 238.18 L327.75 238.2 L328.36 238.22 L328.96 238.24 L329.56 238.26 L330.17 238.28 L330.77 238.3 L331.38 238.32 L331.98 238.34 L332.59 238.36 L333.19 238.38 L333.79 238.4 L334.4 238.42 L335 238.44 L335.61 238.46 L336.21 238.48 L336.82 238.5 L337.42 238.52 L338.02 238.54 L338.63 238.56 L339.23 238.58 L339.84 238.6 L340.44 238.62 L341.05 238.64 L341.65 238.66 L342.25 238.68 L342.86 238.7 L343.46 238.72 L344.07 238.74 L344.67 238.76 L345.28 238.78 L345.88 238.8 L346.48 238.82 L347.09 238.84 L347.69 238.86 L348.3 238.88 L348.9 238.9 L349.51 238.92 L350.11 238.94 L350.71 238.96 L351.32 238.98 L351.92 239 L352.53 239.02 L353.13 239.04 L353.74 239.06 L354.34 239.08 L354.94 239.1 L355.55 239.12 L356.15 239.14 L356.76 239.16 L357.36 239.18 L357.97 239.2 L358.57 239.22 L359.17 239.24 L359.78 239.26 L360.38 239.28 L360.99 239.3 L361.59 239.32 L362.19 239.34 L362.8 239.36 L363.4 239.38 L364.01 239.4 L364.61 239.42 L365.22 239.44 L365.82 239.46 L366.42 239.48 L367.03 239.5 L367.63 239.52 L368.24 239.54 L368.84 239.56 L369.45 239.58 L370.05 239.6 L370.65 239.62 L371.26 239.64 L371.86 239.66 L372.47 239.68 L373.07 239.7 L373.68 239.72 L374.28 239.75 L374.88 239.77 L375.49 239.79 L376.09 239.81 L376.7 239.83 L377.3 239.85 L377.91 239.87 L378.51 239.89 L379.11 239.91 L379.72 239.93 L380.32 239.95 L380.93 239.97 L381.53 239.99 L382.14 240.01 L382.74 240.03 L383.34 240.05 L383.95 240.07 L384.55 240.09 L385.16 240.11 L385.76 240.14 L386.37 240.16 L386.97 240.18 L387.57 240.2 L388.18 240.22 L388.78 240.24 L389.39 240.27 L389.99 240.29 L390.6 240.31 L391.2 240.34 L391.8 240.36 L392.41 240.38 L393.01 240.41 L393.62 240.44 L394.22 240.46 L394.83 240.49 L395.43 240.52 L396.04 240.54 L396.64 240.57 L397.24 240.6 L397.85 240.64 L398.45 240.67 L399.06 240.7 L399.66 240.74 L400.27 240.78 L400.87 240.82 L401.48 240.86 L402.08 240.91 L402.68 240.96 L403.29 241.01 L403.89 241.07 L404.5 241.13 L405.1 241.2 L405.71 241.27 L406.31 241.35 L406.92 241.43 L407.52 241.52 L408.13 241.62 L408.73 241.73 L409.34 241.86 L409.95 241.99 L410.55 242.14 L411.16 242.3 L411.73 242.47 L412.31 242.66 L412.89 242.86 L413.46 243.09 L414.04 243.34 L414.59 243.6 L415.13 243.89 L415.68 244.21 L416.2 244.54 L416.72 244.9 L417.2 245.27 L417.69 245.67 L418.15 246.08 L418.61 246.53 L419.04 246.98 L419.44 247.43 L419.83 247.92 L420.2 248.4 L420.57 248.91 L420.91 249.41 L421.25 249.94 L421.59 250.51 L421.9 251.05 L422.21 251.63 L422.48 252.18 L422.76 252.75 L423.04 253.35 L423.29 253.92 L423.54 254.5 L423.79 255.12 L424.01 255.68 L424.23 256.26 L424.44 256.87 L424.66 257.5 L424.88 258.16 L425.07 258.74 L425.26 259.34 L425.45 259.97 L425.64 260.61 L425.83 261.28 L426.02 261.97 L426.18 262.56 L426.33 263.17 L426.49 263.8 L426.65 264.44 L426.81 265.11 L426.97 265.79 L427.13 266.49 L427.29 267.21 L427.42 267.8 L427.55 268.41 L427.67 269.03 L427.8 269.66 L427.93 270.31 L428.06 270.97 L428.19 271.65 L428.32 272.34 L428.45 273.05 L428.58 273.77 L428.71 274.51 L428.84 275.27 L428.97 276.05 L429.07 276.64 L429.17 277.24 L429.26 277.85 L429.36 278.48 L429.46 279.11 L429.56 279.76 L429.66 280.41 L429.76 281.08 L429.86 281.76 L429.95 282.45 L430.05 283.15 L430.15 283.86 L430.25 284.59 L430.35 285.32 L430.45 286.08 L430.55 286.84 L430.65 287.61 L430.75 288.4 L430.85 289.21 L430.95 290.02 L431.05 290.85 L431.16 291.7 L431.26 292.56 L431.36 293.43 L431.46 294.32 L431.53 294.92 L431.6 295.53 L431.66 296.14 L431.73 296.76 L431.8 297.39 L431.87 298.03 L431.94 298.67 L432.01 299.32 L432.07 299.98 L432.14 300.64 L432.21 301.32 L432.28 302 L432.35 302.68 L432.42 303.38 L432.49 304.08 L432.56 304.79 L432.63 305.51 L432.69 306.24 L432.76 306.98 L432.83 307.72 L432.9 308.47 L432.97 309.23 L433.04 310 L433.11 310.78 L433.18 311.57 L433.25 312.36 L433.32 313.17 L433.39 313.98 L433.46 314.81 L433.54 315.64 L433.61 316.48 L433.68 317.33 L433.75 318.2 L433.82 319.07 L433.89 319.95 L433.96 320.84 L434.03 321.74 L434.1 322.65 L434.18 323.57 L434.25 324.51 L434.32 325.45 L434.39 326.4 L434.47 327.37 L434.54 328.34 L434.61 329.33 L434.68 330.33 L434.76 331.33 L434.83 332.35 L434.9 333.39 L434.98 334.43 L435.05 335.49 L435.12 336.55 L435.2 337.63 L435.27 338.72 L435.34 339.83 L435.42 340.94 L435.49 342.07 L435.57 343.21 L435.64 344.37 L435.72 345.54 L435.79 346.72 L435.87 347.91 L435.9 348.52 L435.94 349.12 L435.98 349.73 L436.02 350.34 L436.05 350.96 L436.09 351.58 L436.13 352.2 L436.17 352.83 L436.21 353.46 L436.24 354.09 L436.28 354.73 L436.32 355.37 L436.36 356.02 L436.4 356.66 L436.44 357.32 L436.47 357.97 L436.51 358.63 L436.55 359.29 L436.59 359.96 L436.63 360.63 L436.67 361.31 L436.7 361.98 L436.74 362.67 L436.78 363.35 L436.82 364.04 L436.86 364.74 L436.9 365.43 L436.94 366.13 L436.98 366.84 L437.01 367.55 L437.05 368.26 L437.09 368.98 L437.13 369.7 L437.17 370.43" fill="none" stroke="#ee9a4d" stroke-width="1.3" stroke-linejoin="round" stroke-linecap="round"/>
<path d="M258 232.65 L258.62 232.66 L259.23 232.68 L259.85 232.69 L260.47 232.71 L261.08 232.72 L261.7 232.74 L262.32 232.76 L262.93 232.77 L263.55 232.79 L264.17 232.8 L264.78 232.82 L265.4 232.83 L266.02 232.85 L266.63 232.86 L267.25 232.88 L267.87 232.89 L268.48 232.91 L269.1 232.93 L269.72 232.94 L270.33 232.96 L270.95 232.97 L271.57 232.99 L272.18 233 L272.8 233.02 L273.42 233.03 L274.03 233.05 L274.65 233.07 L275.27 233.08 L275.88 233.1 L276.5 233.11 L277.12 233.13 L277.73 233.14 L278.35 233.16 L278.97 233.17 L279.58 233.19 L280.2 233.2 L280.82 233.22 L281.43 233.24 L282.05 233.25 L282.67 233.27 L283.28 233.28 L283.9 233.3 L284.51 233.31 L285.13 233.33 L285.75 233.34 L286.36 233.36 L286.98 233.38 L287.6 233.39 L288.21 233.41 L288.83 233.42 L289.45 233.44 L290.06 233.45 L290.68 233.47 L291.3 233.48 L291.91 233.5 L292.53 233.51 L293.15 233.53 L293.76 233.55 L294.38 233.56 L295 233.58 L295.61 233.59 L296.23 233.61 L296.85 233.62 L297.46 233.64 L298.08 233.65 L298.7 233.67 L299.31 233.69 L299.93 233.7 L300.55 233.72 L301.16 233.73 L301.78 233.75 L302.4 233.76 L303.01 233.78 L303.63 233.79 L304.25 233.81 L304.86 233.82 L305.48 233.84 L306.1 233.86 L306.71 233.87 L307.33 233.89 L307.95 233.9 L308.56 233.92 L309.18 233.93 L309.8 233.95 L310.41 233.96 L311.03 233.98 L311.65 233.99 L312.26 234.01 L312.88 234.03 L313.5 234.04 L314.11 234.06 L314.73 234.07 L315.35 234.09 L315.96 234.1 L316.58 234.12 L317.2 234.13 L317.81 234.15 L318.43 234.17 L319.05 234.18 L319.66 234.2 L320.28 234.21 L320.89 234.23 L321.51 234.24 L322.13 234.26 L322.74 234.27 L323.36 234.29 L323.98 234.3 L324.59 234.32 L325.21 234.34 L325.83 234.35 L326.44 234.37 L327.06 234.38 L327.68 234.4 L328.29 234.41 L328.91 234.43 L329.53 234.44 L330.14 234.46 L330.76 234.48 L331.38 234.49 L331.99 234.51 L332.61 234.52 L333.23 234.54 L333.84 234.55 L334.46 234.57 L335.08 234.58 L335.69 234.6 L336.31 234.61 L336.93 234.63 L337.54 234.65 L338.16 234.66 L338.78 234.68 L339.39 234.69 L340.01 234.71 L340.63 234.72 L341.24 234.74 L341.86 234.75 L342.48 234.77 L343.09 234.78 L343.71 234.8 L344.33 234.82 L344.94 234.83 L345.56 234.85 L346.18 234.86 L346.79 234.88 L347.41 234.89 L348.03 234.91 L348.64 234.92 L349.26 234.94 L349.88 234.96 L350.49 234.97 L351.11 234.99 L351.73 235 L352.34 235.02 L352.96 235.03 L353.58 235.05 L354.19 235.06 L354.81 235.08 L355.42 235.09 L356.04 235.11 L356.66 235.13 L357.27 235.14 L357.89 235.16 L358.51 235.17 L359.12 235.19 L359.74 235.2 L360.36 235.22 L360.97 235.23 L361.59 235.25 L362.21 235.27 L362.82 235.28 L363.44 235.3 L364.06 235.31 L364.67 235.33 L365.29 235.34 L365.91 235.36 L366.52 235.37 L367.14 235.39 L367.76 235.4 L368.37 235.42 L368.99 235.44 L369.61 235.45 L370.22 235.47 L370.84 235.48 L371.46 235.5 L372.07 235.51 L372.69 235.53 L373.31 235.54 L373.92 235.56 L374.54 235.58 L375.16 235.59 L375.77 235.61 L376.39 235.62 L377.01 235.64 L377.62 235.65 L378.24 235.67 L378.86 235.68 L379.47 235.7 L380.09 235.72 L380.71 235.73 L381.32 235.75 L381.94 235.76 L382.56 235.78 L383.17 235.79 L383.79 235.81 L384.41 235.82 L385.02 235.84 L385.64 235.86 L386.26 235.87 L386.87 235.89 L387.49 235.9 L388.11 235.92 L388.72 235.94 L389.34 235.95 L389.96 235.97 L390.57 235.98 L391.19 236 L391.8 236.02 L392.42 236.03 L393.04 236.05 L393.65 236.07 L394.27 236.08 L394.89 236.1 L395.5 236.12 L396.12 236.13 L396.74 236.15 L397.35 236.17 L397.97 236.19 L398.59 236.21 L399.2 236.23 L399.82 236.25 L400.44 236.27 L401.05 236.29 L401.67 236.31 L402.29 236.34 L402.9 236.36 L403.52 236.39 L404.14 236.41 L404.76 236.44 L405.37 236.47 L405.99 236.5 L406.61 236.54 L407.22 236.57 L407.84 236.61 L408.46 236.66 L409.07 236.7 L409.69 236.76 L410.31 236.81 L410.92 236.87 L411.54 236.94 L412.16 237.02 L412.78 237.1 L413.4 237.19 L414.01 237.3 L414.63 237.41 L415.25 237.54 L415.84 237.68 L416.42 237.83 L417.01 238 L417.6 238.19 L418.19 238.41 L418.75 238.64 L419.31 238.89 L419.86 239.17 L420.39 239.47 L420.92 239.8 L421.42 240.14 L421.92 240.52 L422.38 240.91 L422.85 241.34 L423.29 241.78 L423.7 242.22 L424.1 242.7 L424.48 243.18 L424.86 243.7 L425.2 244.21 L425.55 244.76 L425.87 245.29 L426.18 245.86 L426.47 246.4 L426.75 246.97 L427.04 247.58 L427.29 248.15 L427.55 248.75 L427.8 249.38 L428.03 249.96 L428.25 250.56 L428.48 251.19 L428.7 251.85 L428.89 252.44 L429.09 253.06 L429.28 253.7 L429.48 254.36 L429.67 255.05 L429.83 255.64 L430 256.25 L430.16 256.89 L430.32 257.54 L430.49 258.21 L430.65 258.91 L430.81 259.63 L430.94 260.22 L431.08 260.83 L431.21 261.45 L431.34 262.09 L431.47 262.75 L431.61 263.42 L431.74 264.11 L431.87 264.82 L432.01 265.55 L432.14 266.29 L432.27 267.06 L432.41 267.84 L432.51 268.44 L432.61 269.06 L432.71 269.68 L432.81 270.32 L432.91 270.97 L433.01 271.63 L433.12 272.31 L433.22 272.99 L433.32 273.7 L433.42 274.41 L433.53 275.14 L433.63 275.88 L433.73 276.64 L433.84 277.41 L433.94 278.2 L434.04 279 L434.15 279.82 L434.25 280.65 L434.35 281.5 L434.46 282.37 L434.56 283.25 L434.63 283.85 L434.7 284.46 L434.77 285.07 L434.84 285.69 L434.92 286.32 L434.99 286.96 L435.06 287.61 L435.13 288.26 L435.2 288.92 L435.27 289.6 L435.34 290.28 L435.41 290.96 L435.48 291.66 L435.55 292.37 L435.63 293.08 L435.7 293.81 L435.77 294.54 L435.84 295.29 L435.91 296.04 L435.99 296.8 L436.06 297.58 L436.13 298.36 L436.2 299.15 L436.28 299.96 L436.35 300.77 L436.42 301.59 L436.5 302.43 L436.57 303.27 L436.64 304.13 L436.72 305 L436.79 305.88 L436.86 306.77 L436.94 307.67 L437.01 308.58 L437.09 309.51 L437.16 310.44 L437.24 311.39 L437.31 312.35 L437.39 313.33 L437.46 314.31 L437.54 315.31 L437.61 316.32 L437.69 317.35 L437.77 318.39 L437.84 319.44 L437.92 320.5 L438 321.58 L438.07 322.67 L438.15 323.78 L438.23 324.9 L438.31 326.04 L438.38 327.19 L438.46 328.35 L438.54 329.53 L438.62 330.73 L438.66 331.33 L438.7 331.94 L438.74 332.55 L438.77 333.16 L438.81 333.78 L438.85 334.41 L438.89 335.03 L438.93 335.66 L438.97 336.3 L439.01 336.94 L439.05 337.58 L439.09 338.23 L439.13 338.88 L439.17 339.54 L439.21 340.2 L439.25 340.86 L439.29 341.53 L439.33 342.2 L439.37 342.88 L439.41 343.56 L439.45 344.25 L439.49 344.94 L439.53 345.63 L439.57 346.33 L439.62 347.04 L439.66 347.74 L439.7 348.46 L439.74 349.17 L439.78 349.9 L439.82 350.62 L439.86 351.35 L439.9 352.09 L439.94 352.83 L439.98 353.58 L440.03 354.33 L440.07 355.08 L440.11 355.84 L440.15 356.61 L440.19 357.38 L440.23 358.15 L440.27 358.93 L440.32 359.72 L440.36 360.51 L440.4 361.3 L440.44 362.1 L440.48 362.91 L440.53 363.72 L440.57 364.53 L440.61 365.35 L440.65 366.18 L440.7 367.01 L440.74 367.85 L440.78 368.69 L440.82 369.54 L440.87 370.39" fill="none" stroke="#c5173f" stroke-width="1.3" stroke-linejoin="round" stroke-linecap="round"/>
</g>
<rect x="266.7" y="221" width="177.3" height="146.2" fill="none" stroke="#1e1e1e" stroke-width="1.4"/>
<line x1="263.7" y1="367.2" x2="266.7" y2="367.2" stroke="#1e1e1e" stroke-width="1.2"/>
<line x1="263.7" y1="337.9" x2="266.7" y2="337.9" stroke="#1e1e1e" stroke-width="1.2"/>
<line x1="263.7" y1="308.6" x2="266.7" y2="308.6" stroke="#1e1e1e" stroke-width="1.2"/>
<line x1="263.7" y1="279.3" x2="266.7" y2="279.3" stroke="#1e1e1e" stroke-width="1.2"/>
<line x1="263.7" y1="250" x2="266.7" y2="250" stroke="#1e1e1e" stroke-width="1.2"/>
<line x1="263.7" y1="220.7" x2="266.7" y2="220.7" stroke="#1e1e1e" stroke-width="1.2"/>
<line x1="264.9" y1="352.55" x2="266.7" y2="352.55" stroke="#1e1e1e" stroke-width="1.2"/>
<line x1="264.9" y1="323.25" x2="266.7" y2="323.25" stroke="#1e1e1e" stroke-width="1.2"/>
<line x1="264.9" y1="293.95" x2="266.7" y2="293.95" stroke="#1e1e1e" stroke-width="1.2"/>
<line x1="264.9" y1="264.65" x2="266.7" y2="264.65" stroke="#1e1e1e" stroke-width="1.2"/>
<line x1="264.9" y1="235.35" x2="266.7" y2="235.35" stroke="#1e1e1e" stroke-width="1.2"/>
<line x1="266.7" y1="367.2" x2="266.7" y2="370.2" stroke="#1e1e1e" stroke-width="1.2"/>
<line x1="321.26" y1="367.2" x2="321.26" y2="370.2" stroke="#1e1e1e" stroke-width="1.2"/>
<line x1="375.82" y1="367.2" x2="375.82" y2="370.2" stroke="#1e1e1e" stroke-width="1.2"/>
<line x1="430.38" y1="367.2" x2="430.38" y2="370.2" stroke="#1e1e1e" stroke-width="1.2"/>
<line x1="293.98" y1="367.2" x2="293.98" y2="369" stroke="#1e1e1e" stroke-width="1.2"/>
<line x1="348.54" y1="367.2" x2="348.54" y2="369" stroke="#1e1e1e" stroke-width="1.2"/>
<line x1="403.1" y1="367.2" x2="403.1" y2="369" stroke="#1e1e1e" stroke-width="1.2"/>
<text x="262.3" y="370.9" font-size="11.2" text-anchor="end" fill="#0a0a0a" font-weight="bold" stroke="#0a0a0a" stroke-width="0.2">0</text>
<text x="262.3" y="341.6" font-size="11.2" text-anchor="end" fill="#0a0a0a" font-weight="bold" stroke="#0a0a0a" stroke-width="0.2">5</text>
<text x="262.3" y="312.3" font-size="11.2" text-anchor="end" fill="#0a0a0a" font-weight="bold" stroke="#0a0a0a" stroke-width="0.2">10</text>
<text x="262.3" y="283" font-size="11.2" text-anchor="end" fill="#0a0a0a" font-weight="bold" stroke="#0a0a0a" stroke-width="0.2">15</text>
<text x="262.3" y="253.7" font-size="11.2" text-anchor="end" fill="#0a0a0a" font-weight="bold" stroke="#0a0a0a" stroke-width="0.2">20</text>
<text x="262.3" y="224.4" font-size="11.2" text-anchor="end" fill="#0a0a0a" font-weight="bold" stroke="#0a0a0a" stroke-width="0.2">25</text>
<text x="267.6" y="379.4" font-size="11.2" text-anchor="middle" fill="#0a0a0a" font-weight="bold" stroke="#0a0a0a" stroke-width="0.2">0.0</text>
<text x="322.16" y="379.4" font-size="11.2" text-anchor="middle" fill="#0a0a0a" font-weight="bold" stroke="#0a0a0a" stroke-width="0.2">0.4</text>
<text x="376.72" y="379.4" font-size="11.2" text-anchor="middle" fill="#0a0a0a" font-weight="bold" stroke="#0a0a0a" stroke-width="0.2">0.8</text>
<text x="431.28" y="379.4" font-size="11.2" text-anchor="middle" fill="#0a0a0a" font-weight="bold" stroke="#0a0a0a" stroke-width="0.2">1.2</text>
<text x="355.6" y="392.6" font-size="12" text-anchor="middle" fill="#231815" font-weight="bold" stroke="#231815" stroke-width="0.2">Voltage  (V)</text>
<text x="245.9" y="296.5" font-size="12.1" text-anchor="middle" fill="#231815" font-weight="bold" transform="rotate(-90 245.9 296.5)" stroke="#231815" stroke-width="0.2">Current Density (mA cm<tspan dy="-4" font-size="7">-2</tspan><tspan dy="4">)</tspan></text>
<line x1="272" y1="248.2" x2="287.2" y2="248.2" stroke="#7c98c7" stroke-width="1.3"/>
<text x="291.3" y="251.9" font-size="10.8" text-anchor="start" fill="#000" font-weight="bold" stroke="#000" stroke-width="0.2">Control</text>
<line x1="272" y1="260.7" x2="287.2" y2="260.7" stroke="#ee9a4d" stroke-width="1.3"/>
<text x="291.3" y="264.4" font-size="10.8" text-anchor="start" fill="#000" font-weight="bold" stroke="#000" stroke-width="0.2">AD</text>
<line x1="272" y1="273.2" x2="287.2" y2="273.2" stroke="#c5173f" stroke-width="1.3"/>
<text x="291.3" y="276.9" font-size="10.8" text-anchor="start" fill="#000" font-weight="bold" stroke="#000" stroke-width="0.2">OPD</text>
<text x="314.1" y="285.4" font-size="10.75" text-anchor="start" fill="#c5173f" font-weight="bold" stroke="#c5173f" stroke-width="0.2">SCAPS Simulation</text>
<line x1="272.2" y1="287.8" x2="425.2" y2="287.8" stroke="#333" stroke-width="1.4"/>
<line x1="271.2" y1="314.6" x2="424.2" y2="314.6" stroke="#333" stroke-width="1.4"/>
<line x1="271.2" y1="359.7" x2="424.2" y2="359.7" stroke="#333" stroke-width="1.4"/>
<text x="318.1" y="298" font-size="9.6" text-anchor="middle" fill="#231815" font-weight="bold" stroke="#231815" stroke-width="0.2"><tspan font-style="italic">V</tspan><tspan dy="2.5" font-size="6">oc</tspan></text>
<text x="346.6" y="298" font-size="9.6" text-anchor="middle" fill="#231815" font-weight="bold" stroke="#231815" stroke-width="0.2">FF</text>
<text x="378.5" y="298" font-size="9.6" text-anchor="middle" fill="#231815" font-weight="bold" stroke="#231815" stroke-width="0.2"><tspan font-style="italic">J</tspan><tspan dy="2.5" font-size="6">sc</tspan></text>
<text x="414.3" y="298" font-size="9.6" text-anchor="middle" fill="#231815" font-weight="bold" stroke="#231815" stroke-width="0.2">PCE</text>
<text x="318.1" y="311.2" font-size="9.6" text-anchor="middle" fill="#231815" font-weight="bold" stroke="#231815" stroke-width="0.2">(V)</text>
<text x="346.6" y="311.2" font-size="9.6" text-anchor="middle" fill="#231815" font-weight="bold" stroke="#231815" stroke-width="0.2">(%)</text>
<text x="380.8" y="311.2" font-size="9.6" text-anchor="middle" fill="#231815" font-weight="bold" stroke="#231815" stroke-width="0.2">(mA cm<tspan dy="-3.2" font-size="6">-2</tspan><tspan dy="3.2">)</tspan></text>
<text x="414.3" y="311.2" font-size="9.6" text-anchor="middle" fill="#231815" font-weight="bold" stroke="#231815" stroke-width="0.2">(%)</text>
<text x="285.4" y="326" font-size="9.6" text-anchor="middle" fill="#000" font-weight="bold" stroke="#000" stroke-width="0.2">Control</text>
<text x="318.1" y="326" font-size="9.6" text-anchor="middle" fill="#000" font-weight="bold" stroke="#000" stroke-width="0.2">1.241</text>
<text x="346.6" y="326" font-size="9.6" text-anchor="middle" fill="#000" font-weight="bold" stroke="#000" stroke-width="0.2">79.34</text>
<text x="378.5" y="326" font-size="9.6" text-anchor="middle" fill="#000" font-weight="bold" stroke="#000" stroke-width="0.2">22.13</text>
<text x="414.3" y="326" font-size="9.6" text-anchor="middle" fill="#000" font-weight="bold" stroke="#000" stroke-width="0.2">21.79</text>
<text x="285.4" y="340.15" font-size="9.6" text-anchor="middle" fill="#000" font-weight="bold" stroke="#000" stroke-width="0.2">AD</text>
<text x="318.1" y="340.15" font-size="9.6" text-anchor="middle" fill="#000" font-weight="bold" stroke="#000" stroke-width="0.2">1.243</text>
<text x="346.6" y="340.15" font-size="9.6" text-anchor="middle" fill="#000" font-weight="bold" stroke="#000" stroke-width="0.2">81.54</text>
<text x="378.5" y="340.15" font-size="9.6" text-anchor="middle" fill="#000" font-weight="bold" stroke="#000" stroke-width="0.2">22.45</text>
<text x="414.3" y="340.15" font-size="9.6" text-anchor="middle" fill="#000" font-weight="bold" stroke="#000" stroke-width="0.2">22.75</text>
<text x="285.4" y="354.3" font-size="9.6" text-anchor="middle" fill="#000" font-weight="bold" stroke="#000" stroke-width="0.2">OPD</text>
<text x="318.1" y="354.3" font-size="9.6" text-anchor="middle" fill="#000" font-weight="bold" stroke="#000" stroke-width="0.2">1.275</text>
<text x="346.6" y="354.3" font-size="9.6" text-anchor="middle" fill="#000" font-weight="bold" stroke="#000" stroke-width="0.2">83.94</text>
<text x="378.5" y="354.3" font-size="9.6" text-anchor="middle" fill="#000" font-weight="bold" stroke="#000" stroke-width="0.2">22.99</text>
<text x="414.3" y="354.3" font-size="9.6" text-anchor="middle" fill="#000" font-weight="bold" stroke="#000" stroke-width="0.2">24.60</text>
<text x="462.6" y="214.3" font-size="17" text-anchor="start" fill="#231815" font-weight="bold" stroke="#231815" stroke-width="0.2">f</text>
<clipPath id="cf"><rect x="504.8" y="221" width="177.8" height="146.2"/></clipPath>
<g clip-path="url(#cf)">
<path d="M493.1 238.46 L493.73 238.47 L494.36 238.49 L494.99 238.51 L495.62 238.52 L496.25 238.54 L496.87 238.56 L497.5 238.57 L498.13 238.59 L498.76 238.61 L499.39 238.62 L500.02 238.64 L500.64 238.66 L501.27 238.67 L501.9 238.69 L502.53 238.71 L503.16 238.72 L503.79 238.74 L504.42 238.76 L505.04 238.77 L505.67 238.79 L506.3 238.81 L506.93 238.82 L507.56 238.84 L508.19 238.86 L508.81 238.87 L509.44 238.89 L510.07 238.91 L510.7 238.92 L511.33 238.94 L511.96 238.96 L512.58 238.97 L513.21 238.99 L513.84 239.01 L514.47 239.02 L515.1 239.04 L515.73 239.06 L516.35 239.07 L516.98 239.09 L517.61 239.11 L518.24 239.12 L518.87 239.14 L519.5 239.16 L520.12 239.17 L520.75 239.19 L521.38 239.2 L522.01 239.22 L522.64 239.24 L523.27 239.25 L523.9 239.27 L524.52 239.29 L525.15 239.3 L525.78 239.32 L526.41 239.34 L527.04 239.35 L527.67 239.37 L528.29 239.39 L528.92 239.4 L529.55 239.42 L530.18 239.44 L530.81 239.45 L531.44 239.47 L532.06 239.49 L532.69 239.5 L533.32 239.52 L533.95 239.54 L534.58 239.55 L535.21 239.57 L535.83 239.59 L536.46 239.6 L537.09 239.62 L537.72 239.64 L538.35 239.65 L538.98 239.67 L539.6 239.69 L540.23 239.7 L540.86 239.72 L541.49 239.74 L542.12 239.75 L542.75 239.77 L543.38 239.79 L544 239.8 L544.63 239.82 L545.26 239.84 L545.89 239.85 L546.52 239.87 L547.15 239.89 L547.77 239.9 L548.4 239.92 L549.03 239.94 L549.66 239.95 L550.29 239.97 L550.92 239.99 L551.54 240 L552.17 240.02 L552.8 240.04 L553.43 240.05 L554.06 240.07 L554.69 240.09 L555.31 240.1 L555.94 240.12 L556.57 240.14 L557.2 240.15 L557.83 240.17 L558.46 240.19 L559.08 240.2 L559.71 240.22 L560.34 240.24 L560.97 240.25 L561.6 240.27 L562.23 240.29 L562.86 240.3 L563.48 240.32 L564.11 240.34 L564.74 240.35 L565.37 240.37 L566 240.39 L566.63 240.4 L567.25 240.42 L567.88 240.44 L568.51 240.45 L569.14 240.47 L569.77 240.49 L570.4 240.5 L571.02 240.52 L571.65 240.54 L572.28 240.55 L572.91 240.57 L573.54 240.59 L574.17 240.6 L574.79 240.62 L575.42 240.64 L576.05 240.65 L576.68 240.67 L577.31 240.69 L577.94 240.7 L578.56 240.72 L579.19 240.74 L579.82 240.75 L580.45 240.77 L581.08 240.79 L581.71 240.8 L582.34 240.82 L582.96 240.84 L583.59 240.85 L584.22 240.87 L584.85 240.89 L585.48 240.9 L586.11 240.92 L586.73 240.94 L587.36 240.95 L587.99 240.97 L588.62 240.99 L589.25 241.01 L589.88 241.02 L590.5 241.04 L591.13 241.06 L591.76 241.07 L592.39 241.09 L593.02 241.11 L593.65 241.12 L594.27 241.14 L594.9 241.16 L595.53 241.17 L596.16 241.19 L596.79 241.21 L597.42 241.23 L598.05 241.24 L598.67 241.26 L599.3 241.28 L599.93 241.3 L600.56 241.31 L601.19 241.33 L601.82 241.35 L602.44 241.37 L603.07 241.38 L603.7 241.4 L604.33 241.42 L604.96 241.44 L605.59 241.46 L606.21 241.48 L606.84 241.49 L607.47 241.51 L608.1 241.53 L608.73 241.55 L609.36 241.57 L609.99 241.59 L610.61 241.61 L611.24 241.63 L611.87 241.65 L612.5 241.67 L613.13 241.69 L613.76 241.72 L614.39 241.74 L615.01 241.76 L615.64 241.79 L616.27 241.81 L616.9 241.83 L617.53 241.86 L618.16 241.89 L618.79 241.91 L619.42 241.94 L620.04 241.97 L620.67 242 L621.3 242.03 L621.93 242.07 L622.53 242.1 L623.13 242.13 L623.73 242.17 L624.33 242.21 L624.93 242.25 L625.53 242.29 L626.13 242.33 L626.73 242.38 L627.33 242.43 L627.93 242.48 L628.53 242.54 L629.13 242.59 L629.73 242.66 L630.33 242.72 L630.93 242.79 L631.53 242.87 L632.13 242.95 L632.73 243.03 L633.33 243.13 L633.93 243.22 L634.53 243.33 L635.14 243.44 L635.74 243.56 L636.34 243.69 L636.94 243.83 L637.55 243.99 L638.15 244.15 L638.76 244.32 L639.33 244.5 L639.91 244.7 L640.48 244.9 L641.06 245.13 L641.64 245.37 L642.21 245.62 L642.76 245.89 L643.31 246.17 L643.86 246.47 L644.38 246.78 L644.9 247.11 L645.42 247.46 L645.91 247.81 L646.4 248.19 L646.9 248.59 L647.36 248.99 L647.83 249.41 L648.26 249.83 L648.7 250.28 L649.13 250.75 L649.54 251.21 L649.94 251.69 L650.32 252.16 L650.7 252.66 L651.08 253.18 L651.42 253.68 L651.77 254.2 L652.12 254.75 L652.44 255.26 L652.76 255.8 L653.08 256.37 L653.4 256.95 L653.69 257.5 L653.98 258.07 L654.27 258.66 L654.53 259.2 L654.79 259.76 L655.05 260.34 L655.31 260.94 L655.58 261.55 L655.81 262.11 L656.04 262.69 L656.27 263.28 L656.5 263.88 L656.73 264.51 L656.97 265.15 L657.17 265.72 L657.37 266.3 L657.57 266.89 L657.77 267.5 L657.98 268.13 L658.18 268.77 L658.38 269.43 L658.59 270.1 L658.79 270.79 L658.97 271.38 L659.14 271.98 L659.31 272.59 L659.48 273.22 L659.66 273.85 L659.83 274.51 L660.01 275.17 L660.18 275.85 L660.36 276.54 L660.53 277.25 L660.71 277.97 L660.85 278.56 L660.99 279.16 L661.14 279.77 L661.28 280.38 L661.42 281.01 L661.57 281.65 L661.71 282.3 L661.85 282.96 L662 283.63 L662.14 284.31 L662.29 285.01 L662.44 285.71 L662.58 286.43 L662.73 287.16 L662.88 287.9 L663.02 288.65 L663.17 289.42 L663.32 290.2 L663.43 290.79 L663.55 291.39 L663.66 292 L663.77 292.61 L663.88 293.23 L664 293.86 L664.11 294.5 L664.23 295.15 L664.34 295.8 L664.45 296.46 L664.57 297.13 L664.68 297.81 L664.8 298.5 L664.92 299.19 L665.03 299.9 L665.15 300.61 L665.27 301.33 L665.38 302.06 L665.5 302.8 L665.62 303.55 L665.74 304.31 L665.85 305.07 L665.97 305.85 L666.09 306.64 L666.21 307.43 L666.33 308.24 L666.45 309.06 L666.57 309.88 L666.69 310.72 L666.82 311.57 L666.94 312.43 L667.06 313.3 L667.18 314.17 L667.31 315.06 L667.39 315.66 L667.47 316.27 L667.55 316.88 L667.64 317.49 L667.72 318.11 L667.8 318.74 L667.89 319.37 L667.97 320 L668.05 320.64 L668.14 321.29 L668.22 321.94 L668.31 322.6 L668.39 323.26 L668.48 323.93 L668.56 324.6 L668.65 325.28 L668.73 325.96 L668.82 326.65 L668.91 327.35 L668.99 328.05 L669.08 328.76 L669.16 329.47 L669.25 330.19 L669.34 330.91 L669.43 331.65 L669.51 332.38 L669.6 333.13 L669.69 333.87 L669.78 334.63 L669.87 335.39 L669.95 336.16 L670.04 336.93 L670.13 337.72 L670.22 338.5 L670.31 339.3 L670.4 340.1 L670.49 340.9 L670.58 341.72 L670.67 342.54 L670.76 343.36 L670.85 344.2 L670.95 345.04 L671.04 345.89 L671.13 346.74 L671.22 347.6 L671.31 348.47 L671.41 349.35 L671.5 350.23 L671.59 351.12 L671.69 352.02 L671.78 352.93 L671.88 353.84 L671.97 354.76 L672.06 355.69 L672.16 356.63 L672.25 357.57 L672.35 358.52 L672.45 359.48 L672.54 360.45 L672.64 361.43 L672.74 362.41 L672.83 363.4 L672.93 364.4 L673.03 365.41 L673.13 366.43 L673.22 367.45 L673.32 368.48 L673.42 369.53 L673.52 370.58" fill="none" stroke="#7c98c7" stroke-width="1.3" stroke-linejoin="round" stroke-linecap="round"/>
<path d="M495.73 236.94 L496.33 236.95 L496.94 236.96 L497.54 236.97 L498.15 236.98 L498.75 236.99 L499.36 237 L499.96 237.01 L500.57 237.02 L501.18 237.03 L501.78 237.04 L502.39 237.05 L502.99 237.06 L503.6 237.07 L504.2 237.08 L504.81 237.09 L505.41 237.1 L506.02 237.1 L506.62 237.11 L507.23 237.12 L507.83 237.13 L508.44 237.14 L509.05 237.15 L509.65 237.16 L510.26 237.17 L510.86 237.18 L511.47 237.19 L512.07 237.2 L512.68 237.21 L513.28 237.22 L513.89 237.23 L514.49 237.24 L515.1 237.25 L515.7 237.26 L516.31 237.27 L516.92 237.28 L517.52 237.29 L518.13 237.3 L518.73 237.31 L519.34 237.32 L519.94 237.33 L520.55 237.34 L521.15 237.35 L521.76 237.36 L522.36 237.37 L522.97 237.38 L523.57 237.39 L524.18 237.4 L524.79 237.41 L525.39 237.42 L526 237.43 L526.6 237.44 L527.21 237.45 L527.81 237.46 L528.42 237.47 L529.02 237.48 L529.63 237.49 L530.23 237.5 L530.84 237.5 L531.44 237.51 L532.05 237.52 L532.66 237.53 L533.26 237.54 L533.87 237.55 L534.47 237.56 L535.08 237.57 L535.68 237.58 L536.29 237.59 L536.89 237.6 L537.5 237.61 L538.1 237.62 L538.71 237.63 L539.31 237.64 L539.92 237.65 L540.53 237.66 L541.13 237.67 L541.74 237.68 L542.34 237.69 L542.95 237.7 L543.55 237.71 L544.16 237.72 L544.76 237.73 L545.37 237.74 L545.97 237.75 L546.58 237.76 L547.18 237.77 L547.79 237.78 L548.4 237.79 L549 237.8 L549.61 237.81 L550.21 237.82 L550.82 237.83 L551.42 237.84 L552.03 237.85 L552.63 237.86 L553.24 237.87 L553.84 237.88 L554.45 237.89 L555.05 237.9 L555.66 237.91 L556.27 237.91 L556.87 237.92 L557.48 237.93 L558.08 237.94 L558.69 237.95 L559.29 237.96 L559.9 237.97 L560.5 237.98 L561.11 237.99 L561.71 238 L562.32 238.01 L562.92 238.02 L563.53 238.03 L564.14 238.04 L564.74 238.05 L565.35 238.06 L565.95 238.07 L566.56 238.08 L567.16 238.09 L567.77 238.1 L568.37 238.11 L568.98 238.12 L569.58 238.13 L570.19 238.14 L570.79 238.15 L571.4 238.16 L572.01 238.17 L572.61 238.18 L573.22 238.19 L573.82 238.2 L574.43 238.21 L575.03 238.22 L575.64 238.23 L576.24 238.24 L576.85 238.25 L577.45 238.26 L578.06 238.27 L578.66 238.28 L579.27 238.29 L579.88 238.3 L580.48 238.31 L581.09 238.32 L581.69 238.33 L582.3 238.34 L582.9 238.35 L583.51 238.36 L584.11 238.37 L584.72 238.37 L585.32 238.38 L585.93 238.39 L586.53 238.4 L587.14 238.41 L587.75 238.42 L588.35 238.43 L588.96 238.44 L589.56 238.45 L590.17 238.46 L590.77 238.47 L591.38 238.48 L591.98 238.49 L592.59 238.5 L593.19 238.51 L593.8 238.52 L594.41 238.53 L595.01 238.54 L595.62 238.55 L596.22 238.56 L596.83 238.58 L597.43 238.59 L598.04 238.6 L598.64 238.61 L599.25 238.62 L599.85 238.63 L600.46 238.64 L601.06 238.65 L601.67 238.66 L602.28 238.67 L602.88 238.68 L603.49 238.69 L604.09 238.7 L604.7 238.71 L605.3 238.72 L605.91 238.74 L606.51 238.75 L607.12 238.76 L607.72 238.77 L608.33 238.78 L608.93 238.79 L609.54 238.81 L610.15 238.82 L610.75 238.83 L611.36 238.84 L611.96 238.86 L612.57 238.87 L613.17 238.88 L613.78 238.9 L614.38 238.91 L614.99 238.93 L615.59 238.94 L616.2 238.96 L616.81 238.97 L617.41 238.99 L618.02 239.01 L618.62 239.03 L619.23 239.04 L619.83 239.06 L620.44 239.08 L621.04 239.1 L621.65 239.13 L622.26 239.15 L622.86 239.17 L623.47 239.2 L624.07 239.22 L624.68 239.25 L625.28 239.28 L625.89 239.31 L626.5 239.34 L627.1 239.38 L627.71 239.41 L628.31 239.45 L628.92 239.49 L629.52 239.53 L630.13 239.58 L630.74 239.63 L631.34 239.68 L631.95 239.73 L632.56 239.79 L633.16 239.85 L633.77 239.92 L634.37 239.99 L634.98 240.07 L635.59 240.15 L636.19 240.24 L636.8 240.33 L637.41 240.44 L638.02 240.54 L638.62 240.66 L639.23 240.79 L639.84 240.92 L640.45 241.07 L641.05 241.23 L641.66 241.39 L642.24 241.57 L642.82 241.75 L643.4 241.95 L643.97 242.16 L644.55 242.39 L645.13 242.64 L645.68 242.89 L646.23 243.16 L646.78 243.44 L647.33 243.75 L647.85 244.06 L648.37 244.39 L648.89 244.74 L649.38 245.1 L649.87 245.48 L650.36 245.88 L650.82 246.28 L651.28 246.7 L651.75 247.15 L652.18 247.59 L652.61 248.05 L653.01 248.51 L653.41 248.99 L653.81 249.5 L654.18 249.99 L654.56 250.5 L654.93 251.04 L655.27 251.55 L655.61 252.09 L655.95 252.65 L656.27 253.18 L656.58 253.73 L656.89 254.31 L657.17 254.84 L657.45 255.4 L657.74 255.97 L658.02 256.57 L658.27 257.12 L658.52 257.68 L658.77 258.26 L659.03 258.87 L659.28 259.49 L659.5 260.04 L659.72 260.62 L659.94 261.21 L660.17 261.82 L660.39 262.44 L660.61 263.08 L660.83 263.74 L661.03 264.32 L661.22 264.91 L661.41 265.52 L661.6 266.14 L661.79 266.78 L661.99 267.43 L662.18 268.09 L662.37 268.78 L662.53 269.36 L662.7 269.95 L662.86 270.55 L663.02 271.17 L663.18 271.8 L663.34 272.44 L663.51 273.09 L663.67 273.76 L663.83 274.44 L663.99 275.13 L664.16 275.84 L664.32 276.56 L664.45 277.15 L664.58 277.74 L664.72 278.35 L664.85 278.96 L664.98 279.59 L665.11 280.22 L665.24 280.87 L665.37 281.52 L665.51 282.19 L665.64 282.86 L665.77 283.55 L665.91 284.25 L666.04 284.96 L666.17 285.68 L666.31 286.41 L666.44 287.15 L666.57 287.9 L666.71 288.67 L666.84 289.45 L666.94 290.04 L667.04 290.64 L667.14 291.24 L667.25 291.86 L667.35 292.48 L667.45 293.1 L667.55 293.74 L667.65 294.38 L667.75 295.03 L667.86 295.69 L667.96 296.35 L668.06 297.03 L668.16 297.71 L668.26 298.4 L668.37 299.1 L668.47 299.8 L668.57 300.52 L668.68 301.24 L668.78 301.97 L668.88 302.71 L668.99 303.46 L669.09 304.22 L669.19 304.98 L669.3 305.76 L669.4 306.54 L669.51 307.34 L669.61 308.14 L669.72 308.95 L669.82 309.78 L669.93 310.61 L670.03 311.45 L670.14 312.3 L670.24 313.16 L670.35 314.04 L670.45 314.92 L670.56 315.81 L670.63 316.41 L670.7 317.02 L670.77 317.63 L670.84 318.25 L670.91 318.87 L670.99 319.49 L671.06 320.12 L671.13 320.76 L671.2 321.4 L671.27 322.04 L671.34 322.69 L671.41 323.35 L671.49 324.01 L671.56 324.68 L671.63 325.35 L671.7 326.02 L671.77 326.71 L671.85 327.39 L671.92 328.09 L671.99 328.78 L672.06 329.49 L672.14 330.2 L672.21 330.91 L672.28 331.63 L672.35 332.36 L672.43 333.09 L672.5 333.83 L672.57 334.57 L672.65 335.32 L672.72 336.07 L672.79 336.84 L672.87 337.6 L672.94 338.38 L673.02 339.15 L673.09 339.94 L673.16 340.73 L673.24 341.53 L673.31 342.33 L673.39 343.14 L673.46 343.96 L673.54 344.78 L673.61 345.61 L673.68 346.45 L673.76 347.29 L673.83 348.14 L673.91 349 L673.99 349.86 L674.06 350.73 L674.14 351.61 L674.21 352.49 L674.29 353.38 L674.36 354.28 L674.44 355.18 L674.52 356.09 L674.59 357.01 L674.67 357.94 L674.74 358.87 L674.82 359.81 L674.9 360.76 L674.97 361.72 L675.05 362.68 L675.13 363.65 L675.21 364.63 L675.28 365.62 L675.36 366.61 L675.44 367.61 L675.52 368.62 L675.59 369.64 L675.67 370.66" fill="none" stroke="#ee9a4d" stroke-width="1.3" stroke-linejoin="round" stroke-linecap="round"/>
<path d="M493.16 234.99 L493.78 234.99 L494.4 234.99 L495.02 234.99 L495.64 235 L496.26 235 L496.88 235 L497.5 235 L498.12 235 L498.74 235.01 L499.36 235.01 L499.99 235.01 L500.61 235.01 L501.23 235.01 L501.85 235.02 L502.47 235.02 L503.09 235.02 L503.71 235.02 L504.33 235.02 L504.95 235.03 L505.57 235.03 L506.19 235.03 L506.81 235.03 L507.43 235.03 L508.05 235.04 L508.67 235.04 L509.29 235.04 L509.92 235.04 L510.54 235.05 L511.16 235.05 L511.78 235.05 L512.4 235.05 L513.02 235.05 L513.64 235.06 L514.26 235.06 L514.88 235.06 L515.5 235.06 L516.12 235.06 L516.74 235.07 L517.36 235.07 L517.98 235.07 L518.6 235.07 L519.22 235.07 L519.84 235.08 L520.47 235.08 L521.09 235.08 L521.71 235.08 L522.33 235.08 L522.95 235.09 L523.57 235.09 L524.19 235.09 L524.81 235.09 L525.43 235.09 L526.05 235.1 L526.67 235.1 L527.29 235.1 L527.91 235.1 L528.53 235.11 L529.15 235.11 L529.77 235.11 L530.39 235.11 L531.02 235.11 L531.64 235.12 L532.26 235.12 L532.88 235.12 L533.5 235.12 L534.12 235.12 L534.74 235.13 L535.36 235.13 L535.98 235.13 L536.6 235.13 L537.22 235.13 L537.84 235.14 L538.46 235.14 L539.08 235.14 L539.7 235.14 L540.32 235.14 L540.94 235.15 L541.57 235.15 L542.19 235.15 L542.81 235.15 L543.43 235.15 L544.05 235.16 L544.67 235.16 L545.29 235.16 L545.91 235.16 L546.53 235.17 L547.15 235.17 L547.77 235.17 L548.39 235.17 L549.01 235.17 L549.63 235.18 L550.25 235.18 L550.87 235.18 L551.49 235.18 L552.12 235.18 L552.74 235.19 L553.36 235.19 L553.98 235.19 L554.6 235.19 L555.22 235.19 L555.84 235.2 L556.46 235.2 L557.08 235.2 L557.7 235.2 L558.32 235.2 L558.94 235.21 L559.56 235.21 L560.18 235.21 L560.8 235.21 L561.42 235.21 L562.04 235.22 L562.67 235.22 L563.29 235.22 L563.91 235.22 L564.53 235.23 L565.15 235.23 L565.77 235.23 L566.39 235.23 L567.01 235.23 L567.63 235.24 L568.25 235.24 L568.87 235.24 L569.49 235.24 L570.11 235.24 L570.73 235.25 L571.35 235.25 L571.97 235.25 L572.59 235.25 L573.22 235.25 L573.84 235.26 L574.46 235.26 L575.08 235.26 L575.7 235.26 L576.32 235.26 L576.94 235.27 L577.56 235.27 L578.18 235.27 L578.8 235.27 L579.42 235.28 L580.04 235.28 L580.66 235.28 L581.28 235.28 L581.9 235.28 L582.52 235.29 L583.15 235.29 L583.77 235.29 L584.39 235.29 L585.01 235.29 L585.63 235.3 L586.25 235.3 L586.87 235.3 L587.49 235.3 L588.11 235.3 L588.73 235.31 L589.35 235.31 L589.97 235.31 L590.59 235.31 L591.21 235.31 L591.83 235.32 L592.45 235.32 L593.07 235.32 L593.7 235.32 L594.32 235.32 L594.94 235.33 L595.56 235.33 L596.18 235.33 L596.8 235.33 L597.42 235.34 L598.04 235.34 L598.66 235.34 L599.28 235.34 L599.9 235.34 L600.52 235.35 L601.14 235.35 L601.76 235.35 L602.38 235.35 L603 235.35 L603.62 235.36 L604.25 235.36 L604.87 235.36 L605.49 235.36 L606.11 235.36 L606.73 235.37 L607.35 235.37 L607.97 235.37 L608.59 235.37 L609.21 235.37 L609.83 235.38 L610.45 235.38 L611.07 235.38 L611.69 235.38 L612.31 235.39 L612.93 235.39 L613.55 235.39 L614.17 235.39 L614.8 235.39 L615.42 235.4 L616.04 235.4 L616.66 235.4 L617.28 235.4 L617.9 235.41 L618.52 235.41 L619.14 235.41 L619.76 235.41 L620.38 235.41 L621 235.42 L621.62 235.42 L622.24 235.42 L622.86 235.43 L623.48 235.43 L624.1 235.43 L624.73 235.43 L625.35 235.44 L625.97 235.44 L626.59 235.44 L627.21 235.45 L627.83 235.45 L628.45 235.45 L629.07 235.46 L629.69 235.46 L630.31 235.47 L630.93 235.47 L631.55 235.48 L632.17 235.48 L632.79 235.49 L633.41 235.49 L634.04 235.5 L634.66 235.51 L635.28 235.52 L635.9 235.53 L636.52 235.54 L637.14 235.55 L637.76 235.56 L638.38 235.57 L639 235.59 L639.62 235.61 L640.25 235.63 L640.87 235.65 L641.49 235.67 L642.11 235.7 L642.73 235.73 L643.35 235.76 L643.97 235.79 L644.6 235.84 L645.22 235.88 L645.84 235.93 L646.46 235.99 L647.09 236.06 L647.71 236.13 L648.33 236.21 L648.96 236.31 L649.55 236.4 L650.14 236.51 L650.74 236.64 L651.33 236.78 L651.93 236.93 L652.52 237.11 L653.12 237.3 L653.69 237.51 L654.25 237.73 L654.82 237.99 L655.39 238.27 L655.93 238.57 L656.47 238.9 L656.97 239.24 L657.49 239.62 L657.96 240.01 L658.45 240.43 L658.9 240.86 L659.31 241.3 L659.73 241.77 L660.12 242.24 L660.51 242.74 L660.87 243.23 L661.23 243.76 L661.56 244.27 L661.89 244.82 L662.22 245.39 L662.52 245.94 L662.82 246.52 L663.09 247.06 L663.36 247.63 L663.63 248.23 L663.9 248.86 L664.14 249.43 L664.38 250.03 L664.62 250.65 L664.86 251.3 L665.07 251.88 L665.27 252.48 L665.48 253.11 L665.69 253.75 L665.9 254.42 L666.08 255 L666.25 255.6 L666.43 256.21 L666.61 256.84 L666.79 257.49 L666.97 258.16 L667.15 258.85 L667.33 259.57 L667.47 260.15 L667.62 260.75 L667.77 261.37 L667.91 262 L668.06 262.64 L668.21 263.3 L668.36 263.98 L668.51 264.67 L668.66 265.38 L668.81 266.11 L668.96 266.85 L669.11 267.62 L669.26 268.4 L669.38 269 L669.49 269.61 L669.61 270.23 L669.72 270.86 L669.84 271.51 L669.96 272.16 L670.07 272.83 L670.19 273.51 L670.31 274.2 L670.43 274.9 L670.55 275.62 L670.67 276.35 L670.79 277.1 L670.91 277.85 L671.03 278.62 L671.15 279.41 L671.27 280.21 L671.4 281.02 L671.52 281.85 L671.64 282.7 L671.77 283.56 L671.89 284.43 L672.02 285.32 L672.1 285.93 L672.19 286.54 L672.27 287.15 L672.35 287.78 L672.44 288.41 L672.52 289.05 L672.61 289.7 L672.7 290.36 L672.78 291.02 L672.87 291.69 L672.96 292.37 L673.04 293.06 L673.13 293.76 L673.22 294.46 L673.3 295.18 L673.39 295.9 L673.48 296.63 L673.57 297.37 L673.66 298.12 L673.75 298.88 L673.84 299.65 L673.93 300.42 L674.02 301.21 L674.11 302 L674.2 302.81 L674.29 303.62 L674.39 304.45 L674.48 305.28 L674.57 306.13 L674.66 306.98 L674.76 307.85 L674.85 308.72 L674.94 309.61 L675.04 310.51 L675.13 311.42 L675.23 312.34 L675.33 313.27 L675.42 314.21 L675.52 315.16 L675.62 316.13 L675.71 317.1 L675.81 318.09 L675.91 319.09 L676.01 320.1 L676.11 321.13 L676.21 322.16 L676.31 323.21 L676.41 324.28 L676.51 325.35 L676.61 326.44 L676.71 327.54 L676.81 328.65 L676.92 329.78 L677.02 330.92 L677.12 332.08 L677.23 333.25 L677.33 334.43 L677.44 335.63 L677.49 336.24 L677.54 336.84 L677.6 337.46 L677.65 338.07 L677.7 338.69 L677.76 339.31 L677.81 339.94 L677.87 340.57 L677.92 341.2 L677.97 341.84 L678.03 342.48 L678.08 343.13 L678.14 343.78 L678.19 344.43 L678.25 345.09 L678.3 345.75 L678.36 346.42 L678.41 347.09 L678.47 347.76 L678.52 348.44 L678.58 349.12 L678.64 349.81 L678.69 350.5 L678.75 351.19 L678.8 351.89 L678.86 352.59 L678.92 353.3 L678.97 354.01 L679.03 354.73 L679.09 355.45 L679.15 356.17 L679.2 356.9 L679.26 357.63 L679.32 358.37 L679.38 359.11 L679.43 359.86 L679.49 360.61 L679.55 361.36 L679.61 362.12 L679.67 362.89 L679.73 363.66 L679.79 364.43 L679.84 365.21 L679.9 365.99 L679.96 366.78 L680.02 367.57 L680.08 368.37 L680.14 369.17 L680.2 369.98 L680.26 370.79" fill="none" stroke="#c5173f" stroke-width="1.3" stroke-linejoin="round" stroke-linecap="round"/>
</g>
<rect x="504.8" y="221" width="177.8" height="146.2" fill="none" stroke="#1e1e1e" stroke-width="1.4"/>
<line x1="501.8" y1="367.2" x2="504.8" y2="367.2" stroke="#1e1e1e" stroke-width="1.2"/>
<line x1="501.8" y1="337.9" x2="504.8" y2="337.9" stroke="#1e1e1e" stroke-width="1.2"/>
<line x1="501.8" y1="308.6" x2="504.8" y2="308.6" stroke="#1e1e1e" stroke-width="1.2"/>
<line x1="501.8" y1="279.3" x2="504.8" y2="279.3" stroke="#1e1e1e" stroke-width="1.2"/>
<line x1="501.8" y1="250" x2="504.8" y2="250" stroke="#1e1e1e" stroke-width="1.2"/>
<line x1="501.8" y1="220.7" x2="504.8" y2="220.7" stroke="#1e1e1e" stroke-width="1.2"/>
<line x1="503" y1="352.55" x2="504.8" y2="352.55" stroke="#1e1e1e" stroke-width="1.2"/>
<line x1="503" y1="323.25" x2="504.8" y2="323.25" stroke="#1e1e1e" stroke-width="1.2"/>
<line x1="503" y1="293.95" x2="504.8" y2="293.95" stroke="#1e1e1e" stroke-width="1.2"/>
<line x1="503" y1="264.65" x2="504.8" y2="264.65" stroke="#1e1e1e" stroke-width="1.2"/>
<line x1="503" y1="235.35" x2="504.8" y2="235.35" stroke="#1e1e1e" stroke-width="1.2"/>
<line x1="504.8" y1="367.2" x2="504.8" y2="370.2" stroke="#1e1e1e" stroke-width="1.2"/>
<line x1="559.6" y1="367.2" x2="559.6" y2="370.2" stroke="#1e1e1e" stroke-width="1.2"/>
<line x1="614.4" y1="367.2" x2="614.4" y2="370.2" stroke="#1e1e1e" stroke-width="1.2"/>
<line x1="669.2" y1="367.2" x2="669.2" y2="370.2" stroke="#1e1e1e" stroke-width="1.2"/>
<line x1="532.2" y1="367.2" x2="532.2" y2="369" stroke="#1e1e1e" stroke-width="1.2"/>
<line x1="587" y1="367.2" x2="587" y2="369" stroke="#1e1e1e" stroke-width="1.2"/>
<line x1="641.8" y1="367.2" x2="641.8" y2="369" stroke="#1e1e1e" stroke-width="1.2"/>
<text x="500.4" y="370.9" font-size="11.2" text-anchor="end" fill="#0a0a0a" font-weight="bold" stroke="#0a0a0a" stroke-width="0.2">0</text>
<text x="500.4" y="341.6" font-size="11.2" text-anchor="end" fill="#0a0a0a" font-weight="bold" stroke="#0a0a0a" stroke-width="0.2">5</text>
<text x="500.4" y="312.3" font-size="11.2" text-anchor="end" fill="#0a0a0a" font-weight="bold" stroke="#0a0a0a" stroke-width="0.2">10</text>
<text x="500.4" y="283" font-size="11.2" text-anchor="end" fill="#0a0a0a" font-weight="bold" stroke="#0a0a0a" stroke-width="0.2">15</text>
<text x="500.4" y="253.7" font-size="11.2" text-anchor="end" fill="#0a0a0a" font-weight="bold" stroke="#0a0a0a" stroke-width="0.2">20</text>
<text x="500.4" y="224.4" font-size="11.2" text-anchor="end" fill="#0a0a0a" font-weight="bold" stroke="#0a0a0a" stroke-width="0.2">25</text>
<text x="505.7" y="379.4" font-size="11.2" text-anchor="middle" fill="#0a0a0a" font-weight="bold" stroke="#0a0a0a" stroke-width="0.2">0.0</text>
<text x="560.5" y="379.4" font-size="11.2" text-anchor="middle" fill="#0a0a0a" font-weight="bold" stroke="#0a0a0a" stroke-width="0.2">0.4</text>
<text x="615.3" y="379.4" font-size="11.2" text-anchor="middle" fill="#0a0a0a" font-weight="bold" stroke="#0a0a0a" stroke-width="0.2">0.8</text>
<text x="670.1" y="379.4" font-size="11.2" text-anchor="middle" fill="#0a0a0a" font-weight="bold" stroke="#0a0a0a" stroke-width="0.2">1.2</text>
<text x="586.9" y="392.6" font-size="12" text-anchor="middle" fill="#231815" font-weight="bold" stroke="#231815" stroke-width="0.2">Voltage  (V)</text>
<text x="485.3" y="296.5" font-size="12.1" text-anchor="middle" fill="#231815" font-weight="bold" transform="rotate(-90 485.3 296.5)" stroke="#231815" stroke-width="0.2">Current Density (mA cm<tspan dy="-4" font-size="7">-2</tspan><tspan dy="4">)</tspan></text>
<line x1="510.1" y1="248.2" x2="525.3" y2="248.2" stroke="#7c98c7" stroke-width="1.3"/>
<text x="529.4" y="251.9" font-size="10.8" text-anchor="start" fill="#000" font-weight="bold" stroke="#000" stroke-width="0.2">Control</text>
<line x1="510.1" y1="260.7" x2="525.3" y2="260.7" stroke="#ee9a4d" stroke-width="1.3"/>
<text x="529.4" y="264.4" font-size="10.8" text-anchor="start" fill="#000" font-weight="bold" stroke="#000" stroke-width="0.2">AD</text>
<line x1="510.1" y1="273.2" x2="525.3" y2="273.2" stroke="#c5173f" stroke-width="1.3"/>
<text x="529.4" y="276.9" font-size="10.8" text-anchor="start" fill="#000" font-weight="bold" stroke="#000" stroke-width="0.2">OPD</text>
<line x1="510.5" y1="287.8" x2="658.6" y2="287.8" stroke="#333" stroke-width="1.4"/>
<line x1="509.5" y1="314.6" x2="657.6" y2="314.6" stroke="#333" stroke-width="1.4"/>
<line x1="509.5" y1="359.7" x2="657.6" y2="359.7" stroke="#333" stroke-width="1.4"/>
<text x="554.3" y="298" font-size="9.6" text-anchor="middle" fill="#231815" font-weight="bold" stroke="#231815" stroke-width="0.2"><tspan font-style="italic">V</tspan><tspan dy="2.5" font-size="6">oc</tspan></text>
<text x="583.8" y="298" font-size="9.6" text-anchor="middle" fill="#231815" font-weight="bold" stroke="#231815" stroke-width="0.2">FF</text>
<text x="616.1" y="298" font-size="9.6" text-anchor="middle" fill="#231815" font-weight="bold" stroke="#231815" stroke-width="0.2"><tspan font-style="italic">J</tspan><tspan dy="2.5" font-size="6">sc</tspan></text>
<text x="648.6" y="298" font-size="9.6" text-anchor="middle" fill="#231815" font-weight="bold" stroke="#231815" stroke-width="0.2">PCE</text>
<text x="554.3" y="311.2" font-size="9.6" text-anchor="middle" fill="#231815" font-weight="bold" stroke="#231815" stroke-width="0.2">(V)</text>
<text x="583.8" y="311.2" font-size="9.6" text-anchor="middle" fill="#231815" font-weight="bold" stroke="#231815" stroke-width="0.2">(%)</text>
<text x="616.3" y="311.2" font-size="9.6" text-anchor="middle" fill="#231815" font-weight="bold" stroke="#231815" stroke-width="0.2">(mA cm<tspan dy="-3.2" font-size="6">-2</tspan><tspan dy="3.2">)</tspan></text>
<text x="648.6" y="311.2" font-size="9.6" text-anchor="middle" fill="#231815" font-weight="bold" stroke="#231815" stroke-width="0.2">(%)</text>
<text x="523.9" y="326" font-size="9.6" text-anchor="middle" fill="#000" font-weight="bold" stroke="#000" stroke-width="0.2">Control</text>
<text x="554.8" y="326" font-size="9.6" text-anchor="middle" fill="#000" font-weight="bold" stroke="#000" stroke-width="0.2">1.229</text>
<text x="583.8" y="326" font-size="9.6" text-anchor="middle" fill="#000" font-weight="bold" stroke="#000" stroke-width="0.2">78.38</text>
<text x="617.5" y="326" font-size="9.6" text-anchor="middle" fill="#000" font-weight="bold" stroke="#000" stroke-width="0.2">21.94</text>
<text x="649.2" y="326" font-size="9.6" text-anchor="middle" fill="#000" font-weight="bold" stroke="#000" stroke-width="0.2">21.12</text>
<text x="523.9" y="340.15" font-size="9.6" text-anchor="middle" fill="#000" font-weight="bold" stroke="#000" stroke-width="0.2">AD</text>
<text x="554.8" y="340.15" font-size="9.6" text-anchor="middle" fill="#000" font-weight="bold" stroke="#000" stroke-width="0.2">1.242</text>
<text x="583.8" y="340.15" font-size="9.6" text-anchor="middle" fill="#000" font-weight="bold" stroke="#000" stroke-width="0.2">80.54</text>
<text x="617.5" y="340.15" font-size="9.6" text-anchor="middle" fill="#000" font-weight="bold" stroke="#000" stroke-width="0.2">22.37</text>
<text x="649.2" y="340.15" font-size="9.6" text-anchor="middle" fill="#000" font-weight="bold" stroke="#000" stroke-width="0.2">22.32</text>
<text x="523.9" y="354.3" font-size="9.6" text-anchor="middle" fill="#000" font-weight="bold" stroke="#000" stroke-width="0.2">OPD</text>
<text x="554.8" y="354.3" font-size="9.6" text-anchor="middle" fill="#000" font-weight="bold" stroke="#000" stroke-width="0.2">1.274</text>
<text x="583.8" y="354.3" font-size="9.6" text-anchor="middle" fill="#000" font-weight="bold" stroke="#000" stroke-width="0.2">83.78</text>
<text x="617.5" y="354.3" font-size="9.6" text-anchor="middle" fill="#000" font-weight="bold" stroke="#000" stroke-width="0.2">22.72</text>
<text x="649.2" y="354.3" font-size="9.6" text-anchor="middle" fill="#000" font-weight="bold" stroke="#000" stroke-width="0.2">24.13</text>
<text x="5.8" y="410.5" font-size="17" text-anchor="start" fill="#231815" font-weight="bold" stroke="#231815" stroke-width="0.2">g</text>
<circle cx="45.4" cy="484.08" r="2.3" fill="#7c98c7"/>
<circle cx="45.4" cy="498.93" r="2.3" fill="#7c98c7"/>
<circle cx="45.4" cy="503.88" r="2.3" fill="#7c98c7"/>
<circle cx="71.06" cy="453.89" r="2.3" fill="#7c98c7"/>
<circle cx="71.06" cy="462.06" r="2.3" fill="#7c98c7"/>
<circle cx="71.06" cy="464.03" r="2.3" fill="#7c98c7"/>
<circle cx="71.06" cy="500.91" r="2.3" fill="#7c98c7"/>
<circle cx="71.06" cy="502.89" r="2.3" fill="#7c98c7"/>
<circle cx="71.06" cy="539.52" r="2.3" fill="#7c98c7"/>
<circle cx="96.72" cy="455.12" r="2.3" fill="#7c98c7"/>
<circle cx="96.72" cy="485.07" r="2.3" fill="#7c98c7"/>
<circle cx="96.72" cy="487.05" r="2.3" fill="#7c98c7"/>
<circle cx="96.72" cy="489.03" r="2.3" fill="#7c98c7"/>
<circle cx="96.72" cy="491.51" r="2.3" fill="#7c98c7"/>
<circle cx="96.72" cy="502.89" r="2.3" fill="#7c98c7"/>
<circle cx="96.72" cy="505.12" r="2.3" fill="#7c98c7"/>
<circle cx="96.72" cy="507.1" r="2.3" fill="#7c98c7"/>
<circle cx="96.72" cy="511.06" r="2.3" fill="#7c98c7"/>
<circle cx="96.72" cy="516.5" r="2.3" fill="#7c98c7"/>
<circle cx="96.72" cy="531.36" r="2.3" fill="#7c98c7"/>
<circle cx="96.72" cy="550.91" r="2.3" fill="#7c98c7"/>
<circle cx="122.38" cy="475.42" r="2.3" fill="#7c98c7"/>
<circle cx="122.38" cy="477.9" r="2.3" fill="#7c98c7"/>
<circle cx="122.38" cy="480.62" r="2.3" fill="#7c98c7"/>
<circle cx="122.38" cy="483.09" r="2.3" fill="#7c98c7"/>
<circle cx="122.38" cy="487.05" r="2.3" fill="#7c98c7"/>
<circle cx="122.38" cy="490.02" r="2.3" fill="#7c98c7"/>
<circle cx="122.38" cy="492.99" r="2.3" fill="#7c98c7"/>
<circle cx="122.38" cy="495.96" r="2.3" fill="#7c98c7"/>
<circle cx="122.38" cy="498.93" r="2.3" fill="#7c98c7"/>
<circle cx="122.38" cy="500.91" r="2.3" fill="#7c98c7"/>
<circle cx="122.38" cy="507.1" r="2.3" fill="#7c98c7"/>
<circle cx="122.38" cy="510.07" r="2.3" fill="#7c98c7"/>
<circle cx="122.38" cy="513.04" r="2.3" fill="#7c98c7"/>
<circle cx="122.38" cy="517" r="2.3" fill="#7c98c7"/>
<circle cx="122.38" cy="526.9" r="2.3" fill="#7c98c7"/>
<circle cx="148.04" cy="483.09" r="2.3" fill="#7c98c7"/>
<circle cx="173.7" cy="559.57" r="2.3" fill="#7c98c7"/>
<circle cx="199.36" cy="517.74" r="2.3" fill="#7c98c7"/>
<circle cx="199.36" cy="527.64" r="2.3" fill="#7c98c7"/>
<circle cx="199.36" cy="546.21" r="2.3" fill="#7c98c7"/>
<path d="M148.1 460.1 L149.04 462.71 L151.81 462.79 L149.62 464.49 L150.39 467.16 L148.1 465.6 L145.81 467.16 L146.58 464.49 L144.39 462.79 L147.16 462.71 Z" fill="#c5173f"/>
<path d="M33 445.4 L37.48 446.17 L41.95 446.94 L46.42 447.7 L50.9 448.45 L55.38 449.2 L59.85 449.94 L64.33 450.67 L68.8 451.4 L73.28 452.12 L77.75 452.84 L82.22 453.55 L86.7 454.25 L91.17 454.94 L95.65 455.63 L100.12 456.32 L104.6 456.99 L109.08 457.66 L113.55 458.33 L118.03 458.98 L122.5 459.63 L126.97 460.28 L131.45 460.92 L135.93 461.55 L140.4 462.17 L144.88 462.79 L149.35 463.4 L153.82 464.01 L158.3 464.61 L162.78 465.2 L167.25 465.79 L171.72 466.37 L176.2 466.94 L180.68 467.51 L185.15 468.07 L189.62 468.62 L194.1 469.17 L198.57 469.71 L203.05 470.25 L207.53 470.78 L212 471.3" fill="none" stroke="#de8430" stroke-width="1.4" stroke-linejoin="round" stroke-linecap="butt" stroke-dasharray="4.3 1.1"/>
<rect x="33.2" y="417.6" width="178.8" height="148.8" fill="none" stroke="#1e1e1e" stroke-width="1.4"/>
<line x1="30.2" y1="566.5" x2="33.2" y2="566.5" stroke="#1e1e1e" stroke-width="1.2"/>
<line x1="30.2" y1="541.75" x2="33.2" y2="541.75" stroke="#1e1e1e" stroke-width="1.2"/>
<line x1="30.2" y1="517" x2="33.2" y2="517" stroke="#1e1e1e" stroke-width="1.2"/>
<line x1="30.2" y1="492.25" x2="33.2" y2="492.25" stroke="#1e1e1e" stroke-width="1.2"/>
<line x1="30.2" y1="467.5" x2="33.2" y2="467.5" stroke="#1e1e1e" stroke-width="1.2"/>
<line x1="30.2" y1="442.75" x2="33.2" y2="442.75" stroke="#1e1e1e" stroke-width="1.2"/>
<line x1="30.2" y1="418" x2="33.2" y2="418" stroke="#1e1e1e" stroke-width="1.2"/>
<line x1="31.4" y1="554.12" x2="33.2" y2="554.12" stroke="#1e1e1e" stroke-width="1.2"/>
<line x1="31.4" y1="529.38" x2="33.2" y2="529.38" stroke="#1e1e1e" stroke-width="1.2"/>
<line x1="31.4" y1="504.62" x2="33.2" y2="504.62" stroke="#1e1e1e" stroke-width="1.2"/>
<line x1="31.4" y1="479.88" x2="33.2" y2="479.88" stroke="#1e1e1e" stroke-width="1.2"/>
<line x1="31.4" y1="455.12" x2="33.2" y2="455.12" stroke="#1e1e1e" stroke-width="1.2"/>
<line x1="31.4" y1="430.38" x2="33.2" y2="430.38" stroke="#1e1e1e" stroke-width="1.2"/>
<line x1="45.4" y1="566.4" x2="45.4" y2="569.4" stroke="#1e1e1e" stroke-width="1.2"/>
<line x1="96.72" y1="566.4" x2="96.72" y2="569.4" stroke="#1e1e1e" stroke-width="1.2"/>
<line x1="148.04" y1="566.4" x2="148.04" y2="569.4" stroke="#1e1e1e" stroke-width="1.2"/>
<line x1="199.36" y1="566.4" x2="199.36" y2="569.4" stroke="#1e1e1e" stroke-width="1.2"/>
<line x1="71.06" y1="566.4" x2="71.06" y2="568.2" stroke="#1e1e1e" stroke-width="1.2"/>
<line x1="122.38" y1="566.4" x2="122.38" y2="568.2" stroke="#1e1e1e" stroke-width="1.2"/>
<line x1="173.7" y1="566.4" x2="173.7" y2="568.2" stroke="#1e1e1e" stroke-width="1.2"/>
<text x="28.8" y="570.2" font-size="11.2" text-anchor="end" fill="#0a0a0a" font-weight="bold" stroke="#0a0a0a" stroke-width="0.2">20</text>
<text x="28.8" y="545.45" font-size="11.2" text-anchor="end" fill="#0a0a0a" font-weight="bold" stroke="#0a0a0a" stroke-width="0.2">21</text>
<text x="28.8" y="520.7" font-size="11.2" text-anchor="end" fill="#0a0a0a" font-weight="bold" stroke="#0a0a0a" stroke-width="0.2">22</text>
<text x="28.8" y="495.95" font-size="11.2" text-anchor="end" fill="#0a0a0a" font-weight="bold" stroke="#0a0a0a" stroke-width="0.2">23</text>
<text x="28.8" y="471.2" font-size="11.2" text-anchor="end" fill="#0a0a0a" font-weight="bold" stroke="#0a0a0a" stroke-width="0.2">24</text>
<text x="28.8" y="446.45" font-size="11.2" text-anchor="end" fill="#0a0a0a" font-weight="bold" stroke="#0a0a0a" stroke-width="0.2">25</text>
<text x="28.8" y="421.7" font-size="11.2" text-anchor="end" fill="#0a0a0a" font-weight="bold" stroke="#0a0a0a" stroke-width="0.2">26</text>
<text x="46.3" y="578.6" font-size="11.2" text-anchor="middle" fill="#0a0a0a" font-weight="bold" stroke="#0a0a0a" stroke-width="0.2">1.65</text>
<text x="97.62" y="578.6" font-size="11.2" text-anchor="middle" fill="#0a0a0a" font-weight="bold" stroke="#0a0a0a" stroke-width="0.2">1.67</text>
<text x="148.94" y="578.6" font-size="11.2" text-anchor="middle" fill="#0a0a0a" font-weight="bold" stroke="#0a0a0a" stroke-width="0.2">1.69</text>
<text x="200.26" y="578.6" font-size="11.2" text-anchor="middle" fill="#0a0a0a" font-weight="bold" stroke="#0a0a0a" stroke-width="0.2">1.71</text>
<text x="118.2" y="592" font-size="11.9" text-anchor="middle" fill="#231815" font-weight="bold" stroke="#231815" stroke-width="0.2">Bandgap (eV)</text>
<text x="9.6" y="491.1" font-size="12" text-anchor="middle" fill="#231815" font-weight="bold" transform="rotate(-90 9.6 491.1)" stroke="#231815" stroke-width="0.2">PCE (%)</text>
<text x="36.6" y="440.8" font-size="9.6" text-anchor="start" fill="#231815" font-weight="bold" transform="rotate(6.3 36.6 440.8)" stroke="#231815" stroke-width="0.2">82.8% S-Q <tspan font-style="italic">limit</tspan></text>
<text x="127.2" y="457" font-size="10.7" text-anchor="start" fill="#231815" font-weight="bold" stroke="#231815" stroke-width="0.2">This work</text>
<text x="223.6" y="410.2" font-size="17" text-anchor="start" fill="#231815" font-weight="bold" stroke="#231815" stroke-width="0.2">h</text>
<clipPath id="ch"><rect x="266.4" y="417.6" width="178" height="148.9"/></clipPath><g clip-path="url(#ch)">
<path d="M267.47 465.7 L268 465.78 L268.54 465.83 L269.07 465.94 L269.61 465.8 L270.14 465.93 L270.68 465.31 L271.21 465.62 L271.75 465.96 L272.28 465.76 L272.82 465.94 L273.35 465.4 L273.88 465.65 L274.42 465.5 L274.95 465.71 L275.49 465.74 L276.02 465.35 L276.56 465.5 L277.09 465.55 L277.63 466 L278.16 465.9 L278.7 465.48 L279.23 465.93 L279.76 465.47 L280.3 465.81 L280.83 465.48 L281.37 465.39 L281.9 466.01 L282.44 465.55 L282.97 465.56 L283.51 466.1 L284.04 466.03 L284.58 465.63 L285.11 466.1 L285.65 465.81 L286.18 465.91 L286.71 465.59 L287.25 466.11 L287.78 465.94 L288.32 466.14 L288.85 466.09 L289.39 465.68 L289.92 465.73 L290.46 465.6 L290.99 465.59 L291.53 465.54 L292.06 465.71 L292.6 465.92 L293.13 465.51 L293.66 465.98 L294.2 465.75 L294.73 465.74 L295.27 466.1 L295.8 465.87 L296.34 465.76 L296.87 465.88 L297.41 466.04 L297.94 465.59 L298.48 466.24 L299.01 465.58 L299.55 466.09 L300.08 466.16 L300.61 465.59 L301.15 466.13 L301.68 465.84 L302.22 466 L302.75 465.6 L303.29 465.63 L303.82 465.73 L304.36 466.28 L304.89 465.75 L305.43 466.15 L305.96 466.28 L306.5 466.29 L307.03 465.88 L307.56 465.89 L308.1 466.02 L308.63 466.2 L309.17 465.73 L309.7 466.19 L310.24 466.23 L310.77 466.28 L311.31 465.7 L311.84 466.35 L312.38 465.75 L312.91 465.93 L313.44 466.13 L313.98 466.35 L314.51 465.95 L315.05 466.36 L315.58 466.1 L316.12 465.94 L316.65 465.95 L317.19 465.86 L317.72 465.79 L318.26 465.85 L318.79 466.23 L319.33 466.45 L319.86 465.87 L320.39 465.8 L320.93 466.46 L321.46 466.15 L322 466.06 L322.53 465.95 L323.07 466.21 L323.6 466.37 L324.14 466.12 L324.67 466.1 L325.21 465.85 L325.74 466.46 L326.28 465.84 L326.81 466.17 L327.34 466.42 L327.88 465.93 L328.41 466.35 L328.95 466.51 L329.48 466.29 L330.02 466.41 L330.55 465.94 L331.09 466.17 L331.62 465.98 L332.16 466.47 L332.69 466.09 L333.22 466.2 L333.76 466.59 L334.29 466.49 L334.83 466.59 L335.36 466.23 L335.9 466.25 L336.43 466.43 L336.97 466.26 L337.5 466.13 L338.04 466.22 L338.57 466.04 L339.11 466.21 L339.64 466.64 L340.17 466.63 L340.71 466.4 L341.24 466.31 L341.78 466.21 L342.31 466.04 L342.85 466.17 L343.38 466.53 L343.92 466.6 L344.45 466.25 L344.99 466.55 L345.52 466.55 L346.06 466.5 L346.59 466.48 L347.12 466.55 L347.66 466.28 L348.19 466.52 L348.73 466.23 L349.26 466.38 L349.8 466.58 L350.33 466.53 L350.87 466.26 L351.4 466.72 L351.94 466.52 L352.47 466.48 L353.01 466.08 L353.54 466.46 L354.07 466.26 L354.61 466.56 L355.14 466.42 L355.68 466.67 L356.21 466.56 L356.75 466.67 L357.28 466.36 L357.82 466.57 L358.35 466.64 L358.89 466.71 L359.42 466.38 L359.95 466.73 L360.49 466.76 L361.02 466.63 L361.56 466.84 L362.09 466.83 L362.63 466.53 L363.16 466.54 L363.7 466.29 L364.23 466.77 L364.77 466.84 L365.3 466.53 L365.84 466.68 L366.37 466.71 L366.9 466.72 L367.44 466.33 L367.97 466.77 L368.51 466.63 L369.04 466.7 L369.58 466.53 L370.11 466.68 L370.65 466.79 L371.18 466.7 L371.72 466.76 L372.25 466.28 L372.79 466.38 L373.32 466.58 L373.85 466.73 L374.39 466.43 L374.92 466.77 L375.46 466.73 L375.99 466.32 L376.53 466.63 L377.06 466.46 L377.6 466.35 L378.13 466.41 L378.67 466.54 L379.2 466.45 L379.74 466.47 L380.27 466.36 L380.8 466.67 L381.34 466.61 L381.87 466.78 L382.41 466.77 L382.94 466.53 L383.48 467 L384.01 466.37 L384.55 466.66 L385.08 466.58 L385.62 466.67 L386.15 466.47 L386.68 466.98 L387.22 466.66 L387.75 466.43 L388.29 466.84 L388.82 466.48 L389.36 466.8 L389.89 466.67 L390.43 466.84 L390.96 467.11 L391.5 467.02 L392.03 466.74 L392.57 467.02 L393.1 466.91 L393.63 466.72 L394.17 466.57 L394.7 466.89 L395.24 466.87 L395.77 467.15 L396.31 467.17 L396.84 466.92 L397.38 466.75 L397.91 467.13 L398.45 466.51 L398.98 466.59 L399.52 466.92 L400.05 466.96 L400.58 466.63 L401.12 466.98 L401.65 467.16 L402.19 466.81 L402.72 466.85 L403.26 466.71 L403.79 466.76 L404.33 467.25 L404.86 466.84 L405.4 467.25 L405.93 467.22 L406.47 467 L407 466.77 L407.53 467.28 L408.07 466.95 L408.6 466.9 L409.14 466.84 L409.67 467.31 L410.21 466.97 L410.74 466.83 L411.28 466.97 L411.81 466.72 L412.35 467.08 L412.88 466.96 L413.41 466.86 L413.95 467.2 L414.48 467.24 L415.02 466.68 L415.55 467.05 L416.09 466.87 L416.62 467.34 L417.16 467.24 L417.69 466.87 L418.23 466.89 L418.76 466.81 L419.3 467.4 L419.83 466.92 L420.36 467.14 L420.9 467.06 L421.43 467.18 L421.97 467.16 L422.5 467.26 L423.04 466.83 L423.57 467.28 L424.11 466.96 L424.64 467.13 L425.18 467 L425.71 466.98 L426.25 467.15 L426.78 467.11 L427.31 467.04 L427.85 467.31 L428.38 467.21 L428.92 466.83 L429.45 466.98 L429.99 467.13 L430.52 467.46 L431.06 467.44 L431.59 467.21 L432.13 466.84 L432.66 467.38 L433.2 467.14 L433.73 467.25 L434.26 467.35 L434.8 467.3 L435.33 467.2 L435.87 467.5 L436.4 467.14 L436.94 467.15 L437.47 467.48 L438.01 467.02 L438.54 467.1 L439.08 467.48 L439.61 466.95 L440.14 467.49 L440.68 467.4 L441.21 467.22 L441.75 467.12 L442.28 467.47 L442.82 467.57 L443.35 467.04 L443.89 467.28 L444.42 467.33 L444.96 467.3" fill="none" stroke="#7c98c7" stroke-width="4.5" stroke-linejoin="round" stroke-linecap="butt"/>
<path d="M267.47 451.89 L268 451.77 L268.54 452.08 L269.07 452.24 L269.61 451.72 L270.14 451.84 L270.68 452.25 L271.21 452.24 L271.75 452.15 L272.28 451.71 L272.82 452.2 L273.35 452.39 L273.88 452.4 L274.42 452.2 L274.95 451.75 L275.49 452.31 L276.02 451.87 L276.56 452.18 L277.09 452.39 L277.63 452.23 L278.16 451.83 L278.7 451.94 L279.23 452.39 L279.76 451.85 L280.3 452.18 L280.83 452.05 L281.37 451.87 L281.9 452.2 L282.44 451.8 L282.97 451.85 L283.51 452.04 L284.04 451.83 L284.58 451.82 L285.11 452.19 L285.65 452.31 L286.18 452.41 L286.71 451.89 L287.25 452.1 L287.78 452.03 L288.32 452.23 L288.85 452.16 L289.39 452.47 L289.92 452.08 L290.46 451.86 L290.99 452.32 L291.53 451.94 L292.06 452.28 L292.6 452.2 L293.13 452.48 L293.66 452.24 L294.2 452.29 L294.73 452.04 L295.27 452.25 L295.8 452.04 L296.34 452.39 L296.87 452.23 L297.41 451.97 L297.94 452.04 L298.48 452.14 L299.01 452.4 L299.55 452.02 L300.08 452.4 L300.61 452.36 L301.15 451.96 L301.68 452.37 L302.22 451.98 L302.75 452 L303.29 452.33 L303.82 452.09 L304.36 452.54 L304.89 452.27 L305.43 452.16 L305.96 452.5 L306.5 451.96 L307.03 452.45 L307.56 451.99 L308.1 452.06 L308.63 452.62 L309.17 452.44 L309.7 452.12 L310.24 452.05 L310.77 452.65 L311.31 452.44 L311.84 452.56 L312.38 452.08 L312.91 452.43 L313.44 452.24 L313.98 452.16 L314.51 452.23 L315.05 452.43 L315.58 452.25 L316.12 452.28 L316.65 452.11 L317.19 452.6 L317.72 452.48 L318.26 452.59 L318.79 452.34 L319.33 452.63 L319.86 452.4 L320.39 452.46 L320.93 452.45 L321.46 452.57 L322 452.33 L322.53 452.13 L323.07 452.09 L323.6 452.21 L324.14 452.1 L324.67 452.7 L325.21 452.42 L325.74 452.62 L326.28 452.09 L326.81 452.42 L327.34 452.72 L327.88 452.53 L328.41 452.4 L328.95 452.43 L329.48 452.18 L330.02 452.22 L330.55 452.23 L331.09 452.38 L331.62 452.4 L332.16 452.75 L332.69 452.24 L333.22 452.32 L333.76 452.34 L334.29 452.26 L334.83 452.35 L335.36 452.32 L335.9 452.49 L336.43 452.18 L336.97 452.81 L337.5 452.43 L338.04 452.83 L338.57 452.66 L339.11 452.65 L339.64 452.51 L340.17 452.85 L340.71 452.27 L341.24 452.66 L341.78 452.4 L342.31 452.68 L342.85 452.72 L343.38 452.33 L343.92 452.36 L344.45 452.24 L344.99 452.38 L345.52 452.28 L346.06 452.51 L346.59 452.92 L347.12 452.49 L347.66 452.46 L348.19 452.57 L348.73 452.45 L349.26 452.77 L349.8 452.76 L350.33 452.38 L350.87 452.43 L351.4 452.74 L351.94 452.93 L352.47 452.73 L353.01 452.58 L353.54 452.97 L354.07 452.29 L354.61 452.34 L355.14 452.84 L355.68 452.59 L356.21 452.34 L356.75 452.69 L357.28 453.01 L357.82 452.68 L358.35 452.57 L358.89 452.39 L359.42 452.38 L359.95 452.96 L360.49 452.68 L361.02 453 L361.56 452.38 L362.09 452.52 L362.63 452.39 L363.16 452.63 L363.7 452.4 L364.23 452.54 L364.77 452.65 L365.3 452.59 L365.84 452.41 L366.37 452.41 L366.9 453.06 L367.44 452.51 L367.97 452.75 L368.51 452.68 L369.04 452.77 L369.58 452.46 L370.11 452.63 L370.65 452.49 L371.18 452.79 L371.72 453.06 L372.25 452.84 L372.79 453.03 L373.32 452.58 L373.85 452.45 L374.39 452.82 L374.92 452.78 L375.46 452.85 L375.99 452.71 L376.53 452.89 L377.06 452.97 L377.6 453.1 L378.13 452.68 L378.67 452.78 L379.2 453.05 L379.74 452.63 L380.27 452.56 L380.8 452.7 L381.34 452.55 L381.87 453.03 L382.41 453.07 L382.94 452.72 L383.48 452.59 L384.01 452.57 L384.55 452.68 L385.08 452.57 L385.62 452.82 L386.15 452.93 L386.68 452.7 L387.22 452.57 L387.75 453.03 L388.29 452.57 L388.82 452.68 L389.36 452.75 L389.89 452.81 L390.43 452.62 L390.96 452.85 L391.5 452.78 L392.03 453.09 L392.57 452.96 L393.1 453.2 L393.63 453.04 L394.17 453.11 L394.7 452.99 L395.24 452.9 L395.77 453.17 L396.31 453.06 L396.84 453.27 L397.38 453.12 L397.91 453.1 L398.45 452.8 L398.98 453.19 L399.52 452.89 L400.05 452.72 L400.58 452.68 L401.12 452.75 L401.65 452.82 L402.19 453.11 L402.72 452.84 L403.26 452.69 L403.79 453.19 L404.33 453.05 L404.86 452.68 L405.4 452.7 L405.93 452.76 L406.47 452.92 L407 453.28 L407.53 453.34 L408.07 453.11 L408.6 452.85 L409.14 452.99 L409.67 452.95 L410.21 452.93 L410.74 452.71 L411.28 453.12 L411.81 453.29 L412.35 453.22 L412.88 452.79 L413.41 453.09 L413.95 452.85 L414.48 453.23 L415.02 453.05 L415.55 453.4 L416.09 453.3 L416.62 452.83 L417.16 452.97 L417.69 453.39 L418.23 453.08 L418.76 453.07 L419.3 453.07 L419.83 453.31 L420.36 453.43 L420.9 453.15 L421.43 453.46 L421.97 453.2 L422.5 452.86 L423.04 453.36 L423.57 453.09 L424.11 452.84 L424.64 453.49 L425.18 452.83 L425.71 453.22 L426.25 453.15 L426.78 453.44 L427.31 453.1 L427.85 452.98 L428.38 453.03 L428.92 452.98 L429.45 453.23 L429.99 453.09 L430.52 453.37 L431.06 453.02 L431.59 453.1 L432.13 453.03 L432.66 453.55 L433.2 453.45 L433.73 453.47 L434.26 453.31 L434.8 453.16 L435.33 452.98 L435.87 453.47 L436.4 453.23 L436.94 452.92 L437.47 453.02 L438.01 452.97 L438.54 453.41 L439.08 453.54 L439.61 453.05 L440.14 453.48 L440.68 453.15 L441.21 453.4 L441.75 453.53 L442.28 453.37 L442.82 453.5 L443.35 453.2 L443.89 452.95 L444.42 453.31 L444.96 453.36" fill="none" stroke="#ee9a4d" stroke-width="4.5" stroke-linejoin="round" stroke-linecap="butt"/>
<path d="M267.47 437.28 L268 437.43 L268.54 437.38 L269.07 437.18 L269.61 437.38 L270.14 437.43 L270.68 437.5 L271.21 437.66 L271.75 437.45 L272.28 437.86 L272.82 437.75 L273.35 437.82 L273.88 437.66 L274.42 437.65 L274.95 437.56 L275.49 437.74 L276.02 437.44 L276.56 437.61 L277.09 437.67 L277.63 437.56 L278.16 437.4 L278.7 437.25 L279.23 437.26 L279.76 437.45 L280.3 437.61 L280.83 437.74 L281.37 437.71 L281.9 437.43 L282.44 437.86 L282.97 437.41 L283.51 437.72 L284.04 437.27 L284.58 437.75 L285.11 437.69 L285.65 437.9 L286.18 437.86 L286.71 437.71 L287.25 437.82 L287.78 437.75 L288.32 437.66 L288.85 437.38 L289.39 437.6 L289.92 437.87 L290.46 437.41 L290.99 437.93 L291.53 437.63 L292.06 437.53 L292.6 437.25 L293.13 437.53 L293.66 437.38 L294.2 437.72 L294.73 437.89 L295.27 437.9 L295.8 437.69 L296.34 437.54 L296.87 437.35 L297.41 437.75 L297.94 437.66 L298.48 437.78 L299.01 437.54 L299.55 437.9 L300.08 437.43 L300.61 437.5 L301.15 437.47 L301.68 437.72 L302.22 437.92 L302.75 437.41 L303.29 437.74 L303.82 437.83 L304.36 437.46 L304.89 437.35 L305.43 437.7 L305.96 437.89 L306.5 437.92 L307.03 437.82 L307.56 437.6 L308.1 437.61 L308.63 437.69 L309.17 437.95 L309.7 437.53 L310.24 437.52 L310.77 437.75 L311.31 438 L311.84 437.46 L312.38 437.35 L312.91 437.41 L313.44 437.73 L313.98 437.76 L314.51 437.47 L315.05 437.47 L315.58 437.76 L316.12 437.8 L316.65 437.83 L317.19 437.86 L317.72 437.39 L318.26 437.69 L318.79 437.94 L319.33 438.03 L319.86 437.58 L320.39 437.96 L320.93 437.82 L321.46 438.01 L322 437.53 L322.53 437.86 L323.07 437.96 L323.6 437.71 L324.14 437.45 L324.67 437.51 L325.21 437.49 L325.74 437.45 L326.28 437.49 L326.81 437.82 L327.34 437.46 L327.88 437.92 L328.41 437.91 L328.95 437.97 L329.48 437.96 L330.02 437.9 L330.55 438.05 L331.09 438.07 L331.62 437.84 L332.16 438.08 L332.69 437.48 L333.22 437.48 L333.76 437.46 L334.29 437.56 L334.83 437.68 L335.36 437.74 L335.9 437.9 L336.43 437.95 L336.97 437.49 L337.5 437.71 L338.04 437.81 L338.57 437.7 L339.11 437.52 L339.64 437.86 L340.17 437.7 L340.71 437.92 L341.24 437.79 L341.78 438.12 L342.31 438.11 L342.85 437.5 L343.38 437.98 L343.92 437.96 L344.45 437.66 L344.99 437.54 L345.52 437.8 L346.06 437.71 L346.59 437.98 L347.12 438.11 L347.66 437.74 L348.19 437.67 L348.73 437.82 L349.26 437.96 L349.8 438.03 L350.33 437.88 L350.87 437.69 L351.4 437.72 L351.94 438.08 L352.47 437.85 L353.01 437.53 L353.54 437.79 L354.07 437.66 L354.61 437.96 L355.14 437.55 L355.68 437.69 L356.21 437.57 L356.75 437.84 L357.28 438.2 L357.82 437.89 L358.35 437.78 L358.89 438.17 L359.42 437.58 L359.95 437.77 L360.49 438.09 L361.02 437.53 L361.56 438.06 L362.09 437.78 L362.63 437.54 L363.16 437.71 L363.7 437.85 L364.23 437.8 L364.77 437.9 L365.3 437.58 L365.84 437.69 L366.37 438.22 L366.9 437.85 L367.44 437.88 L367.97 437.61 L368.51 437.75 L369.04 438.22 L369.58 438.04 L370.11 437.91 L370.65 437.6 L371.18 437.84 L371.72 438.11 L372.25 437.87 L372.79 437.98 L373.32 438.2 L373.85 438.02 L374.39 438.02 L374.92 437.6 L375.46 437.6 L375.99 438.12 L376.53 437.87 L377.06 438.2 L377.6 438.16 L378.13 438.23 L378.67 437.86 L379.2 438.29 L379.74 438.12 L380.27 438.22 L380.8 437.7 L381.34 438.15 L381.87 437.9 L382.41 438.29 L382.94 438.3 L383.48 437.76 L384.01 437.91 L384.55 437.8 L385.08 437.95 L385.62 437.82 L386.15 438.09 L386.68 437.71 L387.22 437.74 L387.75 437.95 L388.29 437.68 L388.82 437.9 L389.36 438.26 L389.89 438.25 L390.43 437.77 L390.96 437.65 L391.5 438.22 L392.03 438.32 L392.57 438.06 L393.1 437.74 L393.63 437.82 L394.17 438.3 L394.7 438.31 L395.24 437.68 L395.77 437.79 L396.31 437.96 L396.84 437.85 L397.38 438.19 L397.91 437.93 L398.45 438.21 L398.98 437.78 L399.52 438.04 L400.05 438.36 L400.58 438.17 L401.12 437.74 L401.65 437.76 L402.19 438.13 L402.72 437.95 L403.26 437.95 L403.79 438.02 L404.33 438.1 L404.86 438.37 L405.4 437.86 L405.93 438.1 L406.47 437.88 L407 438.08 L407.53 438.22 L408.07 437.8 L408.6 438.05 L409.14 438.2 L409.67 437.72 L410.21 438.25 L410.74 438.01 L411.28 438.07 L411.81 438.15 L412.35 438.28 L412.88 437.76 L413.41 438.08 L413.95 437.76 L414.48 438 L415.02 437.98 L415.55 437.75 L416.09 437.95 L416.62 438.06 L417.16 438.2 L417.69 438.39 L418.23 438.01 L418.76 438.12 L419.3 438.25 L419.83 438.41 L420.36 438.42 L420.9 438.45 L421.43 437.97 L421.97 437.88 L422.5 438.42 L423.04 437.82 L423.57 438.08 L424.11 438.28 L424.64 438.14 L425.18 438.05 L425.71 438.42 L426.25 437.99 L426.78 438.17 L427.31 438.36 L427.85 437.88 L428.38 438.03 L428.92 438.13 L429.45 438.19 L429.99 437.94 L430.52 438.11 L431.06 437.84 L431.59 437.86 L432.13 438.04 L432.66 437.9 L433.2 438.48 L433.73 437.99 L434.26 438 L434.8 438.36 L435.33 438.33 L435.87 438 L436.4 438.4 L436.94 438.26 L437.47 438.09 L438.01 438.26 L438.54 438 L439.08 438.01 L439.61 438.44 L440.14 438.14 L440.68 438.46 L441.21 437.96 L441.75 437.93 L442.28 437.88 L442.82 438.36 L443.35 438.24 L443.89 437.85 L444.42 437.88 L444.96 438.43" fill="none" stroke="#c5173f" stroke-width="4.5" stroke-linejoin="round" stroke-linecap="butt"/>
<path d="M267.4 566.5 L267.4 465.6" fill="none" stroke="#7c98c7" stroke-width="1.2" stroke-linejoin="round" stroke-linecap="butt"/>
<path d="M267.4 566.5 L267.4 452" fill="none" stroke="#ee9a4d" stroke-width="1.2" stroke-linejoin="round" stroke-linecap="butt"/>
<path d="M267.4 566.5 L267.4 437.5" fill="none" stroke="#c5173f" stroke-width="1.2" stroke-linejoin="round" stroke-linecap="butt"/>
</g>
<rect x="266.4" y="417.6" width="178.2" height="148.9" fill="none" stroke="#1e1e1e" stroke-width="1.4"/>
<line x1="263.4" y1="566.5" x2="266.4" y2="566.5" stroke="#1e1e1e" stroke-width="1.2"/>
<line x1="263.4" y1="520" x2="266.4" y2="520" stroke="#1e1e1e" stroke-width="1.2"/>
<line x1="263.4" y1="473.5" x2="266.4" y2="473.5" stroke="#1e1e1e" stroke-width="1.2"/>
<line x1="263.4" y1="427" x2="266.4" y2="427" stroke="#1e1e1e" stroke-width="1.2"/>
<line x1="264.6" y1="543.25" x2="266.4" y2="543.25" stroke="#1e1e1e" stroke-width="1.2"/>
<line x1="264.6" y1="496.75" x2="266.4" y2="496.75" stroke="#1e1e1e" stroke-width="1.2"/>
<line x1="264.6" y1="450.25" x2="266.4" y2="450.25" stroke="#1e1e1e" stroke-width="1.2"/>
<line x1="266.4" y1="566.5" x2="266.4" y2="569.5" stroke="#1e1e1e" stroke-width="1.2"/>
<line x1="310.95" y1="566.5" x2="310.95" y2="569.5" stroke="#1e1e1e" stroke-width="1.2"/>
<line x1="355.5" y1="566.5" x2="355.5" y2="569.5" stroke="#1e1e1e" stroke-width="1.2"/>
<line x1="400.05" y1="566.5" x2="400.05" y2="569.5" stroke="#1e1e1e" stroke-width="1.2"/>
<line x1="444.6" y1="566.5" x2="444.6" y2="569.5" stroke="#1e1e1e" stroke-width="1.2"/>
<line x1="288.67" y1="566.5" x2="288.67" y2="568.3" stroke="#1e1e1e" stroke-width="1.2"/>
<line x1="333.22" y1="566.5" x2="333.22" y2="568.3" stroke="#1e1e1e" stroke-width="1.2"/>
<line x1="377.77" y1="566.5" x2="377.77" y2="568.3" stroke="#1e1e1e" stroke-width="1.2"/>
<line x1="422.32" y1="566.5" x2="422.32" y2="568.3" stroke="#1e1e1e" stroke-width="1.2"/>
<text x="262" y="569.97" font-size="10.5" text-anchor="end" fill="#0a0a0a" font-weight="bold" stroke="#0a0a0a" stroke-width="0.2">10</text>
<text x="262" y="523.47" font-size="10.5" text-anchor="end" fill="#0a0a0a" font-weight="bold" stroke="#0a0a0a" stroke-width="0.2">15</text>
<text x="262" y="476.96" font-size="10.5" text-anchor="end" fill="#0a0a0a" font-weight="bold" stroke="#0a0a0a" stroke-width="0.2">20</text>
<text x="262" y="430.46" font-size="10.5" text-anchor="end" fill="#0a0a0a" font-weight="bold" stroke="#0a0a0a" stroke-width="0.2">25</text>
<text x="264.1" y="578.6" font-size="10.5" text-anchor="middle" fill="#0a0a0a" font-weight="bold" stroke="#0a0a0a" stroke-width="0.2">0</text>
<text x="308.55" y="578.6" font-size="10.5" text-anchor="middle" fill="#0a0a0a" font-weight="bold" stroke="#0a0a0a" stroke-width="0.2">50</text>
<text x="354.9" y="578.6" font-size="10.5" text-anchor="middle" fill="#0a0a0a" font-weight="bold" stroke="#0a0a0a" stroke-width="0.2">100</text>
<text x="399.35" y="578.6" font-size="10.5" text-anchor="middle" fill="#0a0a0a" font-weight="bold" stroke="#0a0a0a" stroke-width="0.2">150</text>
<text x="443.9" y="578.6" font-size="10.5" text-anchor="middle" fill="#0a0a0a" font-weight="bold" stroke="#0a0a0a" stroke-width="0.2">200</text>
<text x="357.9" y="592" font-size="12.2" text-anchor="middle" fill="#231815" font-weight="normal" stroke="#231815" stroke-width="0.3">Time (s)</text>
<text x="245.2" y="485" font-size="12" text-anchor="middle" fill="#231815" font-weight="normal" transform="rotate(-90 245.2 485)" stroke="#231815" stroke-width="0.3">PCE (%)</text>
<circle cx="285.5" cy="497.9" r="2.2" fill="#7c98c7"/>
<text x="296" y="501.8" font-size="10.7" text-anchor="start" fill="#000" font-weight="bold" stroke="#000" stroke-width="0.2">Control</text>
<text x="340.8" y="501.8" font-size="10.7" text-anchor="start" fill="#000" font-weight="bold" stroke="#000" stroke-width="0.2">PCE = 20.60%</text>
<circle cx="285.5" cy="513.4" r="2.2" fill="#ee9a4d"/>
<text x="296" y="517.3" font-size="10.7" text-anchor="start" fill="#000" font-weight="bold" stroke="#000" stroke-width="0.2">AD</text>
<text x="342" y="517.3" font-size="10.7" text-anchor="start" fill="#000" font-weight="bold" stroke="#000" stroke-width="0.2">PCE = 22.11%</text>
<circle cx="285.5" cy="528.9" r="2.2" fill="#c5173f"/>
<text x="296" y="532.8" font-size="10.7" text-anchor="start" fill="#000" font-weight="bold" stroke="#000" stroke-width="0.2">OPD</text>
<text x="340.8" y="532.8" font-size="10.7" text-anchor="start" fill="#000" font-weight="bold" stroke="#000" stroke-width="0.2">PCE = 23.80%</text>
<text x="463" y="409.6" font-size="17" text-anchor="start" fill="#231815" font-weight="bold" stroke="#231815" stroke-width="0.2">i</text>
<clipPath id="ci"><rect x="504.6" y="417.4" width="178.4" height="148.8"/></clipPath><g clip-path="url(#ci)">
<path d="M504.55 518.46 L505.01 518.49 L505.48 518.51 L505.94 518.52 L506.4 518.54 L506.87 518.56 L507.33 518.58 L507.79 518.6 L508.25 518.62 L508.71 518.64 L509.17 518.65 L509.63 518.67 L510.09 518.69 L510.54 518.7 L511 518.72 L511.46 518.73 L511.92 518.75 L512.37 518.76 L512.83 518.78 L513.28 518.79 L513.74 518.81 L514.19 518.82 L514.65 518.84 L515.1 518.85 L515.56 518.86 L516.01 518.88 L516.46 518.89 L516.91 518.9 L517.37 518.91 L517.82 518.92 L518.27 518.94 L518.72 518.95 L519.17 518.96 L519.62 518.97 L520.07 518.98 L520.52 518.99 L520.97 519 L521.42 519.01 L521.87 519.02 L522.32 519.03 L522.77 519.04 L523.22 519.05 L523.67 519.06 L524.11 519.07 L524.56 519.08 L525.01 519.09 L525.46 519.1 L525.9 519.11 L526.35 519.12 L526.8 519.13 L527.24 519.13 L527.69 519.14 L528.14 519.15 L528.58 519.16 L529.03 519.17 L529.48 519.17 L529.92 519.18 L530.37 519.19 L530.81 519.2 L531.26 519.21 L531.7 519.21 L532.15 519.22 L532.59 519.23 L533.04 519.24 L533.48 519.24 L533.93 519.25 L534.37 519.26 L534.82 519.27 L535.26 519.27 L535.71 519.28 L536.15 519.29 L536.6 519.3 L537.04 519.3 L537.49 519.31 L537.93 519.32 L538.38 519.32 L538.82 519.33 L539.27 519.34 L539.71 519.35 L540.16 519.35 L540.6 519.36 L541.05 519.37 L541.49 519.38 L541.94 519.38 L542.38 519.39 L542.83 519.4 L543.27 519.41 L543.72 519.42 L544.16 519.42 L544.61 519.43 L545.06 519.44 L545.5 519.45 L545.95 519.46 L546.39 519.47 L546.84 519.47 L547.29 519.48 L547.74 519.49 L548.18 519.5 L548.63 519.51 L549.08 519.52 L549.52 519.53 L549.97 519.54 L550.42 519.55 L550.87 519.56 L551.32 519.57 L551.77 519.58 L552.22 519.59 L552.67 519.6 L553.12 519.61 L553.57 519.62 L554.02 519.64 L554.47 519.65 L554.92 519.66 L555.37 519.67 L555.82 519.68 L556.27 519.7 L556.72 519.71 L557.18 519.72 L557.63 519.73 L558.08 519.75 L558.53 519.76 L558.99 519.78 L559.44 519.79 L559.9 519.8 L560.35 519.82 L560.81 519.83 L561.26 519.85 L561.72 519.87 L562.18 519.88 L562.63 519.9 L563.09 519.91 L563.55 519.93 L564.01 519.95 L564.47 519.97 L564.93 519.98 L565.39 520 L565.85 520.02 L566.31 520.04 L566.77 520.06 L567.23 520.08 L567.69 520.1 L568.16 520.12 L568.62 520.14 L569.08 520.16 L569.55 520.18 L570.01 520.21 L570.48 520.23 L570.94 520.25 L571.41 520.27 L571.88 520.3 L572.34 520.33 L572.81 520.35 L573.28 520.38 L573.74 520.41 L574.21 520.44 L574.68 520.47 L575.14 520.51 L575.61 520.55 L576.07 520.59 L576.54 520.63 L577 520.67 L577.46 520.72 L577.92 520.77 L578.38 520.82 L578.84 520.88 L579.3 520.94 L579.76 521 L580.21 521.07 L580.67 521.14 L581.12 521.21 L581.57 521.29 L582.02 521.37 L582.47 521.46 L582.91 521.55 L583.36 521.65 L583.8 521.75 L584.24 521.85 L584.68 521.96 L585.11 522.08 L585.54 522.2 L585.97 522.32 L586.4 522.46 L586.82 522.59 L587.24 522.74 L587.66 522.89 L588.08 523.04 L588.49 523.21 L588.9 523.37 L589.3 523.55 L589.71 523.73 L590.1 523.92 L590.5 524.11 L590.89 524.31 L591.27 524.52 L591.66 524.73 L592.03 524.95 L592.4 525.18 L592.77 525.41 L593.13 525.65 L593.49 525.89 L593.84 526.15 L594.19 526.4 L594.52 526.67 L594.86 526.94 L595.19 527.22 L595.51 527.51 L595.82 527.8 L596.13 528.1 L596.43 528.4 L596.73 528.71 L597.02 529.03 L597.3 529.36 L597.58 529.69 L597.85 530.02 L598.11 530.37 L598.37 530.71 L598.62 531.07 L598.87 531.43 L599.11 531.79 L599.35 532.16 L599.57 532.53 L599.8 532.91 L600.01 533.3 L600.23 533.69 L600.43 534.08 L600.63 534.47 L600.83 534.88 L601.02 535.28 L601.2 535.69 L601.38 536.1 L601.55 536.52 L601.72 536.94 L601.88 537.36 L602.04 537.79 L602.19 538.21 L602.34 538.65 L602.48 539.08 L602.62 539.52 L602.76 539.96 L602.88 540.4 L603.01 540.84 L603.13 541.29 L603.24 541.74 L603.35 542.19 L603.46 542.64 L603.56 543.09 L603.65 543.54 L603.75 544 L603.83 544.45 L603.92 544.91 L604 545.37 L604.07 545.83 L604.15 546.29 L604.21 546.75 L604.28 547.21 L604.34 547.67 L604.4 548.13 L604.45 548.59 L604.5 549.05 L604.55 549.51 L604.6 549.97 L604.64 550.44 L604.68 550.9 L604.72 551.36 L604.76 551.82 L604.79 552.28 L604.83 552.74 L604.86 553.2 L604.89 553.67 L604.91 554.13 L604.94 554.58 L604.97 555.04 L604.99 555.5 L605.02 555.96 L605.04 556.42 L605.06 556.87 L605.08 557.33 L605.11 557.78 L605.13 558.24 L605.15 558.69 L605.17 559.14 L605.19 559.59 L605.22 560.04 L605.24 560.48 L605.26 560.93 L605.29 561.37 L605.31 561.82 L605.34 562.26 L605.37 562.7 L605.4 563.14 L605.43 563.57 L605.46 564.01 L605.5 564.44 L605.54 564.87 L605.58 565.3 L605.62 565.73 L605.66 566.15 L605.71 566.57 L605.76 566.99 L605.81 567.41" fill="none" stroke="#ee9a4d" stroke-width="1.3" stroke-linejoin="round" stroke-linecap="round"/>
<path d="M504.54 484.4 L505.33 484.42 L506.12 484.45 L506.91 484.47 L507.7 484.5 L508.49 484.52 L509.27 484.54 L510.06 484.56 L510.85 484.58 L511.63 484.6 L512.42 484.62 L513.21 484.64 L513.99 484.66 L514.78 484.68 L515.56 484.7 L516.34 484.71 L517.13 484.73 L517.91 484.74 L518.69 484.76 L519.48 484.77 L520.26 484.78 L521.04 484.8 L521.82 484.81 L522.6 484.82 L523.38 484.83 L524.16 484.84 L524.95 484.85 L525.73 484.86 L526.5 484.87 L527.28 484.88 L528.06 484.89 L528.84 484.9 L529.62 484.91 L530.4 484.91 L531.18 484.92 L531.96 484.93 L532.73 484.93 L533.51 484.94 L534.29 484.94 L535.06 484.95 L535.84 484.95 L536.62 484.95 L537.39 484.96 L538.17 484.96 L538.95 484.96 L539.72 484.97 L540.5 484.97 L541.27 484.97 L542.05 484.97 L542.82 484.97 L543.6 484.98 L544.37 484.98 L545.14 484.98 L545.92 484.98 L546.69 484.98 L547.47 484.98 L548.24 484.98 L549.01 484.98 L549.79 484.98 L550.56 484.98 L551.33 484.98 L552.11 484.97 L552.88 484.97 L553.65 484.97 L554.43 484.97 L555.2 484.97 L555.97 484.97 L556.75 484.97 L557.52 484.96 L558.29 484.96 L559.06 484.96 L559.84 484.96 L560.61 484.96 L561.38 484.95 L562.15 484.95 L562.93 484.95 L563.7 484.95 L564.47 484.95 L565.24 484.94 L566.02 484.94 L566.79 484.94 L567.56 484.94 L568.33 484.94 L569.11 484.93 L569.88 484.93 L570.65 484.93 L571.42 484.93 L572.2 484.93 L572.97 484.93 L573.74 484.92 L574.51 484.92 L575.29 484.92 L576.06 484.92 L576.83 484.92 L577.61 484.92 L578.38 484.92 L579.15 484.92 L579.93 484.92 L580.7 484.92 L581.47 484.92 L582.25 484.92 L583.02 484.92 L583.8 484.92 L584.57 484.93 L585.35 484.93 L586.12 484.93 L586.9 484.93 L587.67 484.94 L588.45 484.94 L589.22 484.94 L590 484.95 L590.77 484.95 L591.55 484.95 L592.32 484.96 L593.1 484.96 L593.88 484.97 L594.65 484.98 L595.43 484.98 L596.21 484.99 L596.99 485 L597.76 485 L598.54 485.01 L599.32 485.02 L600.1 485.03 L600.88 485.04 L601.66 485.05 L602.43 485.06 L603.21 485.07 L603.99 485.08 L604.77 485.09 L605.56 485.1 L606.34 485.12 L607.12 485.13 L607.9 485.15 L608.68 485.16 L609.46 485.18 L610.25 485.19 L611.03 485.21 L611.81 485.23 L612.59 485.24 L613.38 485.26 L614.16 485.28 L614.95 485.3 L615.73 485.32 L616.52 485.34 L617.3 485.36 L618.09 485.39 L618.88 485.41 L619.66 485.43 L620.45 485.46 L621.24 485.48 L622.03 485.51 L622.82 485.53 L623.61 485.56 L624.4 485.59 L625.19 485.62 L625.98 485.65 L626.77 485.68 L627.56 485.71 L628.35 485.74 L629.14 485.78 L629.94 485.81 L630.73 485.85 L631.52 485.88 L632.32 485.92 L633.11 485.96 L633.91 485.99 L634.71 486.03 L635.5 486.07 L636.3 486.11 L637.1 486.16 L637.89 486.2 L638.69 486.25 L639.48 486.31 L640.27 486.37 L641.06 486.44 L641.84 486.52 L642.63 486.6 L643.4 486.7 L644.17 486.8 L644.94 486.92 L645.7 487.05 L646.45 487.2 L647.2 487.36 L647.94 487.53 L648.67 487.72 L649.39 487.93 L650.11 488.16 L650.81 488.41 L651.5 488.68 L652.19 488.97 L652.86 489.28 L653.52 489.61 L654.16 489.97 L654.8 490.35 L655.42 490.75 L656.03 491.17 L656.62 491.62 L657.2 492.08 L657.76 492.57 L658.31 493.07 L658.85 493.59 L659.36 494.13 L659.86 494.7 L660.34 495.27 L660.81 495.87 L661.25 496.49 L661.68 497.12 L662.09 497.76 L662.49 498.42 L662.87 499.1 L663.24 499.78 L663.59 500.48 L663.92 501.19 L664.24 501.91 L664.55 502.64 L664.85 503.37 L665.13 504.12 L665.4 504.87 L665.66 505.62 L665.9 506.38 L666.14 507.15 L666.36 507.91 L666.57 508.68 L666.78 509.45 L666.97 510.23 L667.16 511 L667.34 511.78 L667.5 512.55 L667.66 513.33 L667.82 514.11 L667.97 514.89 L668.11 515.67 L668.24 516.45 L668.37 517.23 L668.49 518.01 L668.61 518.79 L668.72 519.57 L668.84 520.36 L668.94 521.14 L669.05 521.92 L669.15 522.7 L669.25 523.48 L669.34 524.26 L669.44 525.04 L669.53 525.82 L669.63 526.6 L669.72 527.37 L669.82 528.15 L669.91 528.92 L670.01 529.7 L670.1 530.47 L670.2 531.24 L670.3 532.01 L670.39 532.78 L670.49 533.54 L670.59 534.31 L670.69 535.08 L670.78 535.84 L670.88 536.6 L670.97 537.37 L671.07 538.13 L671.17 538.9 L671.26 539.66 L671.35 540.42 L671.45 541.18 L671.54 541.95 L671.63 542.71 L671.72 543.47 L671.81 544.23 L671.89 545 L671.98 545.76 L672.06 546.52 L672.14 547.29 L672.22 548.05 L672.3 548.81 L672.38 549.58 L672.45 550.35 L672.52 551.11 L672.59 551.88 L672.66 552.65 L672.73 553.42 L672.79 554.19 L672.85 554.96 L672.91 555.74 L672.96 556.51 L673.01 557.29 L673.06 558.06 L673.11 558.84 L673.15 559.62 L673.19 560.41 L673.22 561.19 L673.25 561.98 L673.28 562.76 L673.31 563.55 L673.33 564.34 L673.34 565.14 L673.36 565.93 L673.37 566.73 L673.37 567.53" fill="none" stroke="#c5173f" stroke-width="1.3" stroke-linejoin="round" stroke-linecap="round"/>
<path d="M504.56 459.26 L505.22 459.34 L505.88 459.42 L506.54 459.5 L507.2 459.57 L507.86 459.64 L508.51 459.7 L509.17 459.77 L509.83 459.83 L510.48 459.89 L511.14 459.95 L511.79 460 L512.45 460.05 L513.1 460.1 L513.75 460.15 L514.41 460.2 L515.06 460.24 L515.71 460.28 L516.36 460.32 L517.01 460.36 L517.66 460.4 L518.31 460.43 L518.96 460.46 L519.61 460.49 L520.25 460.52 L520.9 460.55 L521.55 460.57 L522.19 460.6 L522.84 460.62 L523.49 460.64 L524.13 460.66 L524.78 460.68 L525.42 460.7 L526.07 460.71 L526.71 460.73 L527.36 460.74 L528 460.75 L528.64 460.77 L529.29 460.78 L529.93 460.79 L530.57 460.8 L531.22 460.81 L531.86 460.81 L532.5 460.82 L533.14 460.83 L533.79 460.83 L534.43 460.84 L535.07 460.85 L535.71 460.85 L536.35 460.86 L536.99 460.86 L537.64 460.86 L538.28 460.87 L538.92 460.87 L539.56 460.88 L540.2 460.88 L540.84 460.88 L541.48 460.89 L542.13 460.89 L542.77 460.9 L543.41 460.9 L544.05 460.91 L544.69 460.91 L545.34 460.92 L545.98 460.93 L546.62 460.93 L547.26 460.94 L547.9 460.95 L548.55 460.96 L549.19 460.97 L549.83 460.98 L550.48 460.99 L551.12 461 L551.76 461.02 L552.41 461.03 L553.05 461.05 L553.7 461.07 L554.34 461.08 L554.99 461.1 L555.63 461.12 L556.28 461.15 L556.93 461.17 L557.57 461.2 L558.22 461.22 L558.87 461.25 L559.52 461.28 L560.16 461.31 L560.81 461.35 L561.46 461.38 L562.11 461.42 L562.76 461.46 L563.41 461.5 L564.06 461.54 L564.72 461.59 L565.37 461.63 L566.02 461.68 L566.67 461.73 L567.33 461.79 L567.98 461.84 L568.64 461.9 L569.29 461.96 L569.95 462.03 L570.61 462.09 L571.27 462.16 L571.92 462.23 L572.58 462.31 L573.24 462.39 L573.9 462.47 L574.57 462.55 L575.23 462.63 L575.89 462.72 L576.55 462.82 L577.22 462.91 L577.88 463.01 L578.55 463.11 L579.22 463.22 L579.88 463.33 L580.55 463.44 L581.21 463.56 L581.87 463.68 L582.53 463.81 L583.19 463.94 L583.85 464.08 L584.5 464.23 L585.15 464.38 L585.8 464.54 L586.44 464.71 L587.07 464.89 L587.7 465.07 L588.33 465.26 L588.94 465.46 L589.55 465.67 L590.16 465.89 L590.76 466.12 L591.34 466.36 L591.93 466.61 L592.5 466.87 L593.06 467.14 L593.61 467.42 L594.16 467.72 L594.69 468.02 L595.21 468.34 L595.72 468.67 L596.22 469.02 L596.71 469.37 L597.18 469.74 L597.64 470.13 L598.09 470.53 L598.52 470.94 L598.94 471.37 L599.35 471.82 L599.74 472.28 L600.11 472.75 L600.47 473.24 L600.82 473.75 L601.15 474.26 L601.46 474.79 L601.77 475.33 L602.06 475.88 L602.33 476.44 L602.6 477.02 L602.85 477.6 L603.08 478.19 L603.31 478.79 L603.52 479.4 L603.71 480.02 L603.9 480.64 L604.08 481.27 L604.24 481.91 L604.39 482.55 L604.54 483.19 L604.67 483.85 L604.8 484.5 L604.92 485.16 L605.03 485.82 L605.14 486.48 L605.24 487.15 L605.33 487.81 L605.43 488.48 L605.52 489.15 L605.6 489.82 L605.68 490.49 L605.76 491.15 L605.84 491.82 L605.92 492.48 L606 493.14 L606.07 493.81 L606.14 494.47 L606.21 495.13 L606.28 495.79 L606.35 496.45 L606.41 497.11 L606.48 497.76 L606.54 498.42 L606.6 499.08 L606.66 499.73 L606.71 500.39 L606.77 501.04 L606.82 501.69 L606.88 502.35 L606.93 503 L606.98 503.65 L607.02 504.3 L607.07 504.95 L607.12 505.6 L607.16 506.25 L607.2 506.89 L607.24 507.54 L607.28 508.19 L607.32 508.84 L607.36 509.48 L607.4 510.13 L607.43 510.77 L607.47 511.42 L607.5 512.06 L607.53 512.71 L607.56 513.35 L607.59 513.99 L607.62 514.63 L607.65 515.28 L607.68 515.92 L607.7 516.56 L607.73 517.2 L607.75 517.84 L607.78 518.48 L607.8 519.12 L607.82 519.76 L607.84 520.4 L607.86 521.04 L607.88 521.68 L607.9 522.32 L607.92 522.96 L607.94 523.6 L607.95 524.24 L607.97 524.88 L607.99 525.52 L608 526.16 L608.02 526.8 L608.03 527.44 L608.04 528.07 L608.06 528.71 L608.07 529.35 L608.08 529.99 L608.09 530.63 L608.11 531.27 L608.12 531.91 L608.13 532.55 L608.14 533.19 L608.15 533.83 L608.16 534.47 L608.17 535.11 L608.18 535.75 L608.19 536.39 L608.2 537.03 L608.21 537.67 L608.22 538.31 L608.23 538.95 L608.24 539.59 L608.25 540.23 L608.26 540.87 L608.26 541.52 L608.27 542.16 L608.28 542.8 L608.29 543.44 L608.3 544.09 L608.31 544.73 L608.32 545.38 L608.33 546.02 L608.34 546.67 L608.35 547.31 L608.37 547.96 L608.38 548.61 L608.39 549.26 L608.4 549.9 L608.41 550.55 L608.43 551.2 L608.44 551.85 L608.45 552.5 L608.47 553.15 L608.48 553.8 L608.5 554.46 L608.51 555.11 L608.53 555.76 L608.55 556.42 L608.57 557.07 L608.59 557.73 L608.6 558.39 L608.62 559.04 L608.65 559.7 L608.67 560.36 L608.69 561.02 L608.71 561.68 L608.74 562.34 L608.76 563.01 L608.79 563.67 L608.81 564.34 L608.84 565 L608.87 565.67 L608.9 566.33 L608.93 567" fill="none" stroke="#7c98c7" stroke-width="1.3" stroke-linejoin="round" stroke-linecap="round"/>
</g>
<rect x="504.6" y="417.4" width="178.4" height="148.8" fill="none" stroke="#1e1e1e" stroke-width="1.4"/>
<line x1="501.6" y1="566.2" x2="504.6" y2="566.2" stroke="#1e1e1e" stroke-width="1.2"/>
<line x1="501.6" y1="529" x2="504.6" y2="529" stroke="#1e1e1e" stroke-width="1.2"/>
<line x1="501.6" y1="491.8" x2="504.6" y2="491.8" stroke="#1e1e1e" stroke-width="1.2"/>
<line x1="501.6" y1="454.6" x2="504.6" y2="454.6" stroke="#1e1e1e" stroke-width="1.2"/>
<line x1="501.6" y1="417.4" x2="504.6" y2="417.4" stroke="#1e1e1e" stroke-width="1.2"/>
<line x1="502.8" y1="547.6" x2="504.6" y2="547.6" stroke="#1e1e1e" stroke-width="1.2"/>
<line x1="502.8" y1="510.4" x2="504.6" y2="510.4" stroke="#1e1e1e" stroke-width="1.2"/>
<line x1="502.8" y1="473.2" x2="504.6" y2="473.2" stroke="#1e1e1e" stroke-width="1.2"/>
<line x1="502.8" y1="436" x2="504.6" y2="436" stroke="#1e1e1e" stroke-width="1.2"/>
<line x1="504.6" y1="566.2" x2="504.6" y2="569.2" stroke="#1e1e1e" stroke-width="1.2"/>
<line x1="559.6" y1="566.2" x2="559.6" y2="569.2" stroke="#1e1e1e" stroke-width="1.2"/>
<line x1="614.6" y1="566.2" x2="614.6" y2="569.2" stroke="#1e1e1e" stroke-width="1.2"/>
<line x1="669.6" y1="566.2" x2="669.6" y2="569.2" stroke="#1e1e1e" stroke-width="1.2"/>
<line x1="532.1" y1="566.2" x2="532.1" y2="568" stroke="#1e1e1e" stroke-width="1.2"/>
<line x1="587.1" y1="566.2" x2="587.1" y2="568" stroke="#1e1e1e" stroke-width="1.2"/>
<line x1="642.1" y1="566.2" x2="642.1" y2="568" stroke="#1e1e1e" stroke-width="1.2"/>
<text x="500.2" y="569.9" font-size="11.2" text-anchor="end" fill="#0a0a0a" font-weight="bold" stroke="#0a0a0a" stroke-width="0.2">0</text>
<text x="500.2" y="532.7" font-size="11.2" text-anchor="end" fill="#0a0a0a" font-weight="bold" stroke="#0a0a0a" stroke-width="0.2">10</text>
<text x="500.2" y="495.5" font-size="11.2" text-anchor="end" fill="#0a0a0a" font-weight="bold" stroke="#0a0a0a" stroke-width="0.2">20</text>
<text x="500.2" y="458.3" font-size="11.2" text-anchor="end" fill="#0a0a0a" font-weight="bold" stroke="#0a0a0a" stroke-width="0.2">30</text>
<text x="500.2" y="421.1" font-size="11.2" text-anchor="end" fill="#0a0a0a" font-weight="bold" stroke="#0a0a0a" stroke-width="0.2">40</text>
<text x="505.5" y="578.4" font-size="11.2" text-anchor="middle" fill="#0a0a0a" font-weight="bold" stroke="#0a0a0a" stroke-width="0.2">0.0</text>
<text x="560.5" y="578.4" font-size="11.2" text-anchor="middle" fill="#0a0a0a" font-weight="bold" stroke="#0a0a0a" stroke-width="0.2">0.4</text>
<text x="615.5" y="578.4" font-size="11.2" text-anchor="middle" fill="#0a0a0a" font-weight="bold" stroke="#0a0a0a" stroke-width="0.2">0.8</text>
<text x="670.5" y="578.4" font-size="11.2" text-anchor="middle" fill="#0a0a0a" font-weight="bold" stroke="#0a0a0a" stroke-width="0.2">1.2</text>
<text x="590.5" y="592" font-size="12" text-anchor="middle" fill="#231815" font-weight="bold" stroke="#231815" stroke-width="0.2">Voltage  (V)</text>
<text x="484.3" y="491.3" font-size="12" text-anchor="middle" fill="#231815" font-weight="bold" transform="rotate(-90 484.3 491.3)" stroke="#231815" stroke-width="0.2">Current Density (mA cm<tspan dy="-4" font-size="7">-2</tspan><tspan dy="4">)</tspan></text>
<line x1="589.5" y1="426" x2="601.5" y2="426" stroke="#c5173f" stroke-width="1.3"/>
<text x="604.7" y="429.6" font-size="10.6" text-anchor="start" fill="#231815" font-weight="bold" stroke="#231815" stroke-width="0.2">ST PSC</text>
<line x1="589.5" y1="439.3" x2="601.5" y2="439.3" stroke="#ee9a4d" stroke-width="1.3"/>
<text x="604.7" y="442.9" font-size="10.6" text-anchor="start" fill="#231815" font-weight="bold" stroke="#231815" stroke-width="0.2">CIGS  (filtered)</text>
<line x1="589.5" y1="452.6" x2="601.5" y2="452.6" stroke="#7c98c7" stroke-width="1.3"/>
<text x="604.7" y="456.2" font-size="10.6" text-anchor="start" fill="#231815" font-weight="bold" stroke="#231815" stroke-width="0.2">CIGS</text>
<text x="509.2" y="447" font-size="10.7" text-anchor="start" fill="#231815" font-weight="bold" stroke="#231815" stroke-width="0.2">PCE<tspan dy="2.8" font-size="7">4T</tspan><tspan dy="-2.8"> = 29.34%</tspan></text>
<text x="555.5" y="473.8" font-size="9.3" text-anchor="middle" fill="#7c98c7" font-weight="bold" stroke="#7c98c7" stroke-width="0.2">17.49%</text>
<text x="640.8" y="502.5" font-size="9.5" text-anchor="middle" fill="#c5173f" font-weight="bold" stroke="#c5173f" stroke-width="0.2">22.28%</text>
<text x="557.5" y="534" font-size="9.3" text-anchor="middle" fill="#ee9a4d" font-weight="bold" stroke="#ee9a4d" stroke-width="0.2">7.06%</text>
</svg>
</body></html>
